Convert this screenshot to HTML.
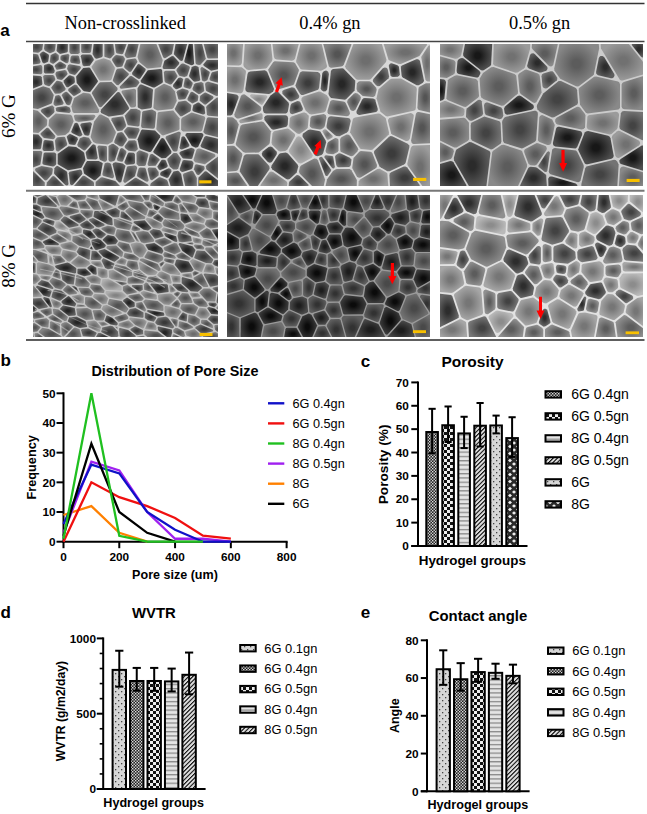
<!DOCTYPE html>
<html><head><meta charset="utf-8"><style>
html,body{margin:0;padding:0;background:#fff;}
body{width:647px;height:814px;overflow:hidden;}
svg{display:block;}
</style></head><body>
<svg width="647" height="814" viewBox="0 0 647 814">
<defs>
<pattern id="pdots" patternUnits="userSpaceOnUse" width="6" height="6">
 <rect width="6" height="6" fill="#d6d6d6"/><rect x="1" y="1" width="1.3" height="1.3" fill="#444"/><rect x="4" y="4" width="1.3" height="1.3" fill="#444"/></pattern>
<pattern id="pfine" patternUnits="userSpaceOnUse" width="3" height="3">
 <rect width="3" height="3" fill="#222"/><rect x="0" y="0" width="1.4" height="1.4" fill="#ddd"/><rect x="1.5" y="1.5" width="1.4" height="1.4" fill="#ddd"/></pattern>
<pattern id="pcheck" patternUnits="userSpaceOnUse" width="6" height="6">
 <rect width="6" height="6" fill="#eee"/><rect x="0" y="0" width="3" height="3" fill="#111"/><rect x="3" y="3" width="3" height="3" fill="#111"/></pattern>
<pattern id="phs" patternUnits="userSpaceOnUse" width="4.3" height="4.3">
 <rect width="4.3" height="4.3" fill="#e4e4e4"/><rect y="0" width="4.3" height="1.3" fill="#8a8a8a"/></pattern>
<pattern id="pdiag" patternUnits="userSpaceOnUse" width="4.3" height="4.3" patternTransform="skewY(-45)">
 <rect width="4.3" height="4.3" fill="#dadada"/><rect y="0" width="4.3" height="1.5" fill="#111"/></pattern>
<pattern id="pdia" patternUnits="userSpaceOnUse" width="8" height="7">
 <rect width="8" height="7" fill="#2a2a2a"/><path d="M2,0.2 L4,2 L2,3.8 L0,2 Z M6,3.7 L8,5.5 L6,7.3 L4,5.5 Z" fill="#eee"/></pattern>
</defs>
<line x1="26" y1="3.5" x2="644.5" y2="3.5" stroke="#333" stroke-width="1.3"/>
<line x1="26" y1="41.5" x2="644.5" y2="41.5" stroke="#444" stroke-width="1.3"/>
<line x1="26" y1="190.8" x2="644.5" y2="190.8" stroke="#777" stroke-width="2"/>
<line x1="26" y1="340" x2="644.5" y2="340" stroke="#5e5e5e" stroke-width="2"/>
<text x="0.2" y="36.2" style="font-family:'Liberation Sans',sans-serif;font-size:17px;font-weight:bold" text-anchor="start" fill="#000">a</text>
<text x="125.2" y="29.2" style="font-family:'Liberation Serif',serif;font-size:18.4px;font-weight:normal" text-anchor="middle" fill="#000">Non-crosslinked</text>
<text x="329.9" y="29.2" style="font-family:'Liberation Serif',serif;font-size:18.4px;font-weight:normal" text-anchor="middle" fill="#000">0.4% gn</text>
<text x="539.6" y="29.2" style="font-family:'Liberation Serif',serif;font-size:18.4px;font-weight:normal" text-anchor="middle" fill="#000">0.5% gn</text>
<text x="14.6" y="116.2" style="font-family:'Liberation Serif',serif;font-size:19px;font-weight:normal" text-anchor="middle" fill="#000" transform="rotate(-90 14.6 116.2)">6% G</text>
<text x="14.6" y="265.9" style="font-family:'Liberation Serif',serif;font-size:19px;font-weight:normal" text-anchor="middle" fill="#000" transform="rotate(-90 14.6 265.9)">8% G</text>
<svg x="33" y="44" width="185" height="142" viewBox="0 0 185 142" overflow="hidden"><defs>
<radialGradient id="gp11D" cx="0.5" cy="0.5" r="0.62"><stop offset="0.15" stop-color="#181818"/><stop offset="0.8" stop-color="#4f4f4f"/><stop offset="1" stop-color="#4f4f4f"/></radialGradient>
<radialGradient id="gp11d" cx="0.5" cy="0.5" r="0.62"><stop offset="0.15" stop-color="#2c2c2c"/><stop offset="0.8" stop-color="#5f5f5f"/><stop offset="1" stop-color="#5f5f5f"/></radialGradient>
<radialGradient id="gp11m" cx="0.5" cy="0.5" r="0.62"><stop offset="0.15" stop-color="#444444"/><stop offset="0.8" stop-color="#747474"/><stop offset="1" stop-color="#747474"/></radialGradient>
<radialGradient id="gp11l" cx="0.5" cy="0.5" r="0.62"><stop offset="0.15" stop-color="#5d5d5d"/><stop offset="0.8" stop-color="#8a8a8a"/><stop offset="1" stop-color="#8a8a8a"/></radialGradient>
<radialGradient id="gp11L" cx="0.5" cy="0.5" r="0.62"><stop offset="0.15" stop-color="#727272"/><stop offset="0.8" stop-color="#9c9c9c"/><stop offset="1" stop-color="#9c9c9c"/></radialGradient>
</defs>
<rect width="185" height="142" fill="#d4d4d4"/>
<path d="M4.7,8.7 5.9,8.4 9.3,5.7 10.2,-1.2 9.9,-2.4 8.4,-3.3 -1.5,-3.3 -2.5,-2.9 -3.2,-1.6 -3.2,6.2 -3.0,7.2 -1.8,8.0Z" fill="url(#gp11m)"/>
<path d="M11.0,4.8 11.8,6.4 16.7,9.2 17.8,9.1 21.3,7.4 22.1,6.0 22.9,-1.3 22.6,-2.4 21.3,-3.2 13.5,-3.2 12.6,-3.0 11.8,-1.8Z" fill="url(#gp11m)"/>
<path d="M33.5,8.6 34.5,7.9 34.8,7.0 34.9,-1.5 34.5,-2.5 33.2,-3.2 26.3,-3.3 25.3,-3.0 24.5,-1.6 23.6,6.5 24.0,7.6 27.0,10.0Z" fill="url(#gp11d)"/>
<path d="M46.7,-1.5 46.3,-2.6 45.1,-3.2 38.0,-3.2 36.8,-2.6 36.4,-1.5 36.4,7.9 37.3,9.6 38.3,10.0 44.9,10.0 46.3,9.3 46.7,8.2Z" fill="url(#gp11m)"/>
<path d="M50.0,-3.2 48.9,-2.8 48.2,-1.6 48.2,7.1 48.5,8.2 49.8,8.9 56.3,8.9 57.3,8.7 58.1,7.4 59.2,-1.2 58.9,-2.4 57.6,-3.2Z" fill="url(#gp11m)"/>
<path d="M60.8,-1.7 59.5,9.9 61.7,13.8 62.6,14.6 63.8,14.7 68.6,13.2 69.3,12.7 69.7,11.5 69.7,-1.5 69.0,-2.8 68.1,-3.2 62.6,-3.2 61.2,-2.6Z" fill="url(#gp11d)"/>
<path d="M71.4,-2.3 71.4,12.4 72.1,13.1 76.9,14.5 78.0,14.0 81.3,10.2 81.5,9.0 80.1,-1.7 79.2,-3.0 72.8,-3.2Z" fill="url(#gp11m)"/>
<path d="M82.9,8.1 83.4,9.0 84.3,9.6 88.8,10.3 90.1,9.8 94.0,-1.0 93.5,-2.7 92.4,-3.2 83.5,-3.2 82.2,-2.7 81.7,-1.4Z" fill="url(#gp11m)"/>
<path d="M-1.3,9.6 -2.6,10.0 -3.2,11.2 -3.3,19.0 -2.8,20.1 -1.4,20.8 6.0,19.8 6.9,19.3 7.4,18.6 7.5,17.6 5.1,10.8 4.1,10.2Z" fill="url(#gp11m)"/>
<path d="M9.3,18.2 10.0,19.1 11.0,19.4 14.7,18.1 15.3,17.2 16.0,12.0 15.9,10.9 15.3,10.2 10.5,7.6 9.5,7.7 7.6,9.1 6.8,10.4Z" fill="url(#gp11d)"/>
<path d="M18.6,10.4 17.6,11.6 16.8,17.7 17.6,18.8 19.6,19.8 20.6,19.8 25.5,16.1 25.8,15.2 25.8,11.8 25.3,10.8 22.6,8.8Z" fill="url(#gp11m)"/>
<path d="M32.8,19.1 34.3,19.3 35.5,18.0 36.3,11.6 35.9,10.5 35.0,10.0 28.6,11.3 27.4,12.7 27.4,15.0 27.7,16.0Z" fill="url(#gp11m)"/>
<path d="M39.5,11.5 38.4,11.9 37.7,12.9 37.1,17.1 37.6,18.4 38.5,18.9 45.2,20.1 46.7,19.7 47.3,18.2 46.0,12.2 44.8,11.5Z" fill="url(#gp11m)"/>
<path d="M49.6,10.4 48.3,11.0 47.8,12.2 49.6,21.3 51.0,22.2 56.8,21.8 60.8,16.1 60.7,15.1 58.5,11.2 57.2,10.5Z" fill="url(#gp11d)"/>
<path d="M81.9,25.0 81.8,23.6 77.3,16.6 70.6,14.3 62.7,16.7 58.5,22.7 58.7,23.8 66.1,35.9 67.5,36.8 76.9,36.4 77.9,36.1 78.6,35.2Z" fill="url(#gp11L)"/>
<path d="M91.9,15.8 91.9,14.5 90.1,12.1 83.5,11.0 82.1,11.6 79.3,14.8 79.0,15.8 79.3,16.8 82.9,22.5 84.3,23.2 88.4,22.8 89.4,22.3Z" fill="url(#gp11m)"/>
<path d="M9.3,22.9 8.7,21.6 7.6,21.1 -2.2,22.5 -3.2,23.8 -3.1,28.7 -1.8,29.7 8.2,30.2 9.3,28.9Z" fill="url(#gp11m)"/>
<path d="M10.8,27.7 11.2,28.8 12.2,29.4 19.9,29.4 21.2,28.7 21.8,26.7 19.9,21.7 16.4,19.8 15.4,19.7 11.9,20.8 11.0,21.6Z" fill="url(#gp11d)"/>
<path d="M21.8,22.2 23.3,25.4 24.3,25.7 31.6,24.5 32.8,23.5 33.1,21.6 32.4,20.6 27.7,17.8 26.3,17.7 22.0,21.0Z" fill="url(#gp11m)"/>
<path d="M22.5,29.6 22.5,30.8 24.0,34.8 24.8,35.3 28.2,36.0 29.5,35.5 34.2,30.8 34.6,29.7 33.3,26.7 31.9,26.1 24.0,27.4 23.1,28.0Z" fill="url(#gp11m)"/>
<path d="M34.2,24.3 34.4,25.5 36.5,29.5 41.5,31.1 42.6,30.6 47.5,24.8 47.9,23.4 47.5,22.4 46.6,21.9 36.8,20.2 35.0,21.2Z" fill="url(#gp11m)"/>
<path d="M50.0,46.6 51.1,47.3 56.4,48.0 57.4,47.8 64.9,37.8 64.7,36.5 57.4,24.5 56.3,23.6 50.2,24.0 43.1,32.6 43.7,38.9Z" fill="url(#gp11D)"/>
<path d="M95.2,31.6 95.8,30.5 95.4,29.2 90.1,24.6 89.1,24.3 84.4,24.7 83.2,25.9 79.9,35.8 79.9,36.9 83.7,40.9 85.4,41.2Z" fill="url(#gp11m)"/>
<path d="M-1.3,31.3 -2.6,31.7 -3.2,32.9 -3.2,43.2 -2.6,44.4 -1.0,44.8 9.0,40.9 9.4,39.4 8.7,33.3 8.2,32.4 7.1,31.9Z" fill="url(#gp11d)"/>
<path d="M12.0,30.9 10.7,31.5 10.2,32.6 11.1,40.1 12.2,41.1 15.8,42.2 16.8,42.1 22.2,35.9 22.3,34.9 21.3,32.0 19.9,31.0Z" fill="url(#gp11m)"/>
<path d="M33.0,42.4 33.9,43.2 35.2,43.2 41.5,38.9 41.9,37.8 41.6,34.0 41.0,32.8 37.0,31.3 35.9,31.4 30.9,36.3 30.5,38.0Z" fill="url(#gp11d)"/>
<path d="M-3.2,62.1 -2.9,63.1 -2.1,63.8 4.9,65.0 18.5,59.5 19.0,58.7 20.8,50.9 16.6,44.3 10.2,42.3 -2.7,47.2 -3.2,48.5Z" fill="url(#gp11m)"/>
<path d="M31.7,46.6 32.5,45.5 32.4,44.3 28.9,38.3 27.8,37.5 24.6,36.8 23.4,37.1 18.4,43.2 18.6,44.5 21.6,49.2 22.5,49.8 27.1,49.4Z" fill="url(#gp11m)"/>
<path d="M34.4,48.3 33.3,47.8 32.1,48.1 29.4,49.9 28.8,51.5 33.1,60.1 33.9,60.7 36.1,61.3 37.5,60.3 39.5,53.9 39.0,52.9Z" fill="url(#gp11m)"/>
<path d="M20.5,59.0 20.7,60.5 21.7,61.5 22.7,61.9 29.5,60.8 30.3,60.1 30.7,59.1 27.3,52.0 25.8,51.1 23.3,51.4 22.3,52.1Z" fill="url(#gp11m)"/>
<path d="M35.8,44.6 35.1,45.8 35.3,47.1 40.5,52.0 41.9,51.8 47.3,48.6 47.9,47.7 47.7,46.2 43.7,41.3 42.8,40.7 41.4,40.8Z" fill="url(#gp11m)"/>
<path d="M38.4,62.4 39.6,68.0 40.9,69.1 64.5,69.1 65.6,68.6 66.1,67.7 65.9,65.5 57.6,50.4 56.3,49.5 50.2,48.8 41.6,53.8 41.0,54.6Z" fill="url(#gp11l)"/>
<path d="M84.2,46.2 84.7,44.9 84.1,43.4 78.5,38.1 67.3,38.3 66.1,39.0 59.2,48.1 58.9,49.4 65.9,62.5 66.7,63.1 67.6,63.2 68.7,62.7Z" fill="url(#gp11m)"/>
<path d="M87.0,48.8 85.8,47.9 84.3,48.3 68.1,65.5 67.6,67.6 68.2,69.0 75.6,72.5 76.6,72.6 90.0,70.6 95.5,65.2 95.9,64.2 95.8,63.2Z" fill="url(#gp11d)"/>
<path d="M33.1,62.0 23.8,63.3 22.8,64.6 23.1,66.9 24.5,67.8 35.8,69.0 36.8,68.8 37.8,67.3 36.9,63.8 36.1,63.2Z" fill="url(#gp11m)"/>
<path d="M21.0,68.7 21.5,67.4 21.0,63.3 19.9,61.8 18.9,61.4 8.9,65.1 7.8,66.4 8.2,67.9 13.8,73.2 14.7,73.7 16.2,73.3Z" fill="url(#gp11m)"/>
<path d="M129.6,16.8 129.6,15.7 122.3,-2.8 121.1,-3.2 109.4,-3.2 108.0,-2.6 104.5,13.1 106.3,17.9 113.8,24.2 115.0,24.6 127.4,23.2 128.2,22.3Z" fill="url(#gp11l)"/>
<path d="M105.9,-1.1 105.6,-2.4 104.5,-3.2 97.4,-3.2 96.2,-2.6 91.7,10.5 91.8,11.6 93.1,13.4 94.5,13.9 101.9,13.0 102.9,12.4Z" fill="url(#gp11m)"/>
<path d="M95.7,27.5 96.9,27.9 98.2,27.4 104.1,18.6 104.2,17.3 102.9,14.8 101.8,14.5 94.7,15.4 93.4,16.2 91.2,22.0 91.2,23.1 91.6,23.9Z" fill="url(#gp11m)"/>
<path d="M141.2,-1.1 140.9,-2.5 139.6,-3.2 126.4,-3.2 125.1,-2.5 124.9,-0.8 130.1,13.1 130.8,13.9 131.8,14.2 132.6,14.0 139.0,9.9Z" fill="url(#gp11m)"/>
<path d="M129.6,22.9 129.9,24.4 131.0,25.1 141.3,25.1 142.2,24.5 146.1,19.9 146.3,18.4 140.6,12.3 139.0,11.9 131.4,16.7Z" fill="url(#gp11d)"/>
<path d="M147.0,16.6 148.7,17.1 149.6,16.6 150.0,15.8 154.5,-1.2 154.2,-2.5 153.3,-3.2 144.4,-3.2 143.4,-2.8 142.9,-1.9 140.8,9.9 141.3,10.8Z" fill="url(#gp11d)"/>
<path d="M159.7,-1.2 159.4,-2.2 158.4,-2.9 157.2,-2.7 156.3,-1.9 151.3,17.0 151.5,18.0 152.2,18.7 158.3,21.2 160.3,20.7 161.1,19.3Z" fill="url(#gp11D)"/>
<path d="M167.4,20.7 172.3,15.6 172.7,14.2 168.5,-2.4 167.1,-3.2 162.7,-3.2 161.7,-2.6 161.2,-1.5 162.6,19.2 163.1,20.1 163.8,20.6 166.1,21.1Z" fill="url(#gp11m)"/>
<path d="M174.0,13.0 174.5,13.9 175.7,14.4 186.6,14.3 187.8,13.7 188.2,12.6 188.2,-1.5 187.6,-2.8 186.4,-3.2 172.2,-3.2 170.8,-2.6 170.4,-1.2Z" fill="url(#gp11m)"/>
<path d="M186.9,24.8 187.8,24.2 188.2,23.0 188.2,17.3 187.7,16.4 187.0,15.9 174.4,15.9 173.5,16.5 170.4,20.3 170.4,21.2 171.0,22.1 178.1,26.7Z" fill="url(#gp11d)"/>
<path d="M143.7,25.0 143.4,26.7 146.1,31.5 147.0,32.0 151.4,33.0 153.6,32.3 154.4,31.6 157.0,23.5 156.1,22.0 150.4,19.5 149.2,19.4 148.1,19.9Z" fill="url(#gp11m)"/>
<path d="M160.5,37.2 161.8,37.8 165.9,36.9 166.8,36.4 167.2,35.4 165.6,23.4 164.6,22.4 162.3,21.8 159.7,22.6 158.8,23.3 156.0,31.8 156.4,33.1Z" fill="url(#gp11d)"/>
<path d="M176.2,27.4 169.3,23.1 168.3,23.3 167.7,23.9 167.4,24.9 168.9,36.0 169.7,36.9 171.4,37.5 173.9,36.5 174.6,35.8 176.9,28.6Z" fill="url(#gp11m)"/>
<path d="M176.6,34.5 176.7,35.9 177.7,36.7 186.1,39.2 187.5,38.9 188.2,37.4 188.2,28.3 188.0,27.3 187.2,26.6 186.2,26.5 179.2,28.3 178.5,29.1Z" fill="url(#gp11m)"/>
<path d="M99.3,28.5 99.0,29.7 99.6,30.9 105.1,34.7 106.3,34.9 107.4,34.2 112.4,26.8 112.6,25.6 112.1,24.6 107.0,20.5 105.5,20.1 104.5,20.7Z" fill="url(#gp11d)"/>
<path d="M107.9,36.2 107.7,37.7 108.5,38.8 120.1,43.6 121.6,43.6 129.2,38.9 129.9,38.1 129.1,26.0 128.4,25.2 127.4,24.9 114.8,26.2Z" fill="url(#gp11D)"/>
<path d="M131.5,37.1 132.3,38.5 136.8,40.4 137.9,40.6 138.8,40.0 144.4,32.7 144.3,31.5 141.7,27.1 140.7,26.7 132.7,26.7 131.5,27.2 130.9,28.4Z" fill="url(#gp11m)"/>
<path d="M147.2,33.6 145.4,34.1 140.0,41.1 140.1,42.7 142.5,45.1 143.7,45.2 147.9,43.4 148.8,42.4 150.1,35.4 149.3,34.2Z" fill="url(#gp11d)"/>
<path d="M150.6,41.5 150.7,42.5 151.5,43.4 156.9,45.0 158.1,44.0 159.7,39.9 159.7,38.8 155.3,34.2 153.6,33.9 152.5,34.3 151.8,35.1Z" fill="url(#gp11m)"/>
<path d="M162.4,39.2 161.2,40.3 159.5,44.6 159.6,45.8 160.3,46.6 165.4,50.0 167.0,50.0 170.6,47.4 171.2,46.5 170.4,39.5 169.7,38.7 168.1,38.0Z" fill="url(#gp11m)"/>
<path d="M186.6,51.8 187.7,51.3 188.2,50.2 188.2,42.5 187.7,41.4 175.6,37.7 174.7,37.8 172.6,38.8 172.1,40.3 172.8,46.0 173.3,46.9 183.2,51.9Z" fill="url(#gp11m)"/>
<path d="M96.6,32.4 86.8,42.5 86.8,43.5 87.4,44.4 88.4,44.8 102.8,43.0 103.7,42.5 105.9,39.6 106.2,38.2 105.4,36.8 98.7,32.1 97.5,31.9Z" fill="url(#gp11m)"/>
<path d="M101.4,63.3 102.5,62.8 103.0,61.6 103.0,46.6 102.7,45.6 101.2,44.8 89.3,46.4 88.6,47.4 88.7,48.7 97.3,62.7 98.5,63.4Z" fill="url(#gp11l)"/>
<path d="M117.3,64.2 118.3,63.7 118.8,62.8 120.0,45.8 119.0,44.8 108.7,40.5 107.4,40.5 106.6,41.1 104.5,44.3 104.7,63.0 105.3,63.8 108.8,65.6Z" fill="url(#gp11d)"/>
<path d="M139.1,64.9 140.5,64.1 143.8,56.8 141.9,47.2 137.8,42.6 131.6,39.9 130.5,39.9 122.5,44.8 121.7,45.7 120.4,63.8 121.1,64.8 124.5,66.6Z" fill="url(#gp11l)"/>
<path d="M151.4,55.3 152.7,54.5 155.6,48.6 155.8,47.7 155.5,46.7 154.6,46.1 149.5,44.5 144.3,46.7 143.6,48.2 145.3,55.2 146.7,55.8Z" fill="url(#gp11m)"/>
<path d="M159.8,48.1 158.6,47.8 157.4,48.5 154.3,55.0 154.9,56.5 158.6,59.1 159.4,59.4 164.7,56.9 165.4,52.7 164.8,51.3Z" fill="url(#gp11m)"/>
<path d="M171.1,60.3 172.2,60.7 173.2,60.3 179.9,54.8 180.5,53.5 180.1,52.2 172.5,48.4 171.5,48.7 167.5,51.5 167.0,52.5 166.7,56.8Z" fill="url(#gp11m)"/>
<path d="M173.9,70.2 174.4,71.3 175.6,71.8 186.5,72.7 187.9,72.0 188.2,70.9 188.2,55.1 187.6,53.8 186.5,53.3 183.5,53.7 173.6,62.0 173.2,63.2Z" fill="url(#gp11m)"/>
<path d="M159.4,65.5 159.6,66.6 160.5,67.4 169.9,70.4 171.3,70.3 172.2,69.2 171.5,62.7 166.0,58.6 164.8,58.6 160.3,61.0Z" fill="url(#gp11d)"/>
<path d="M153.2,57.1 152.0,56.8 145.4,57.7 141.9,64.6 142.1,66.1 147.3,72.3 148.9,72.2 156.9,67.5 157.7,66.7 158.3,61.9 158.2,60.9Z" fill="url(#gp11m)"/>
<path d="M-1.1,65.5 -2.6,65.9 -3.2,67.1 -3.2,87.3 -2.6,88.2 -1.7,88.5 5.3,88.9 13.6,81.8 14.0,80.9 14.2,76.1 13.7,75.2 4.7,66.7Z" fill="url(#gp11l)"/>
<path d="M39.0,72.0 37.7,70.7 22.7,69.4 16.0,75.7 15.6,81.8 24.1,91.5 25.1,91.7 32.3,91.1 36.1,88.1 40.5,77.6 40.5,76.7Z" fill="url(#gp11l)"/>
<path d="M42.6,70.7 41.5,71.1 40.9,72.1 41.9,76.0 42.7,76.9 45.7,78.0 59.5,76.3 60.4,75.7 62.5,72.6 62.0,71.3 60.8,70.7Z" fill="url(#gp11l)"/>
<path d="M45.2,80.1 44.5,79.3 43.4,78.8 41.6,79.3 38.1,87.7 39.0,89.1 45.8,92.3 46.8,92.4 48.6,91.7 49.2,90.2Z" fill="url(#gp11d)"/>
<path d="M51.0,90.3 52.0,91.3 54.6,91.8 55.6,91.5 56.3,90.9 58.8,80.2 58.6,79.2 58.0,78.5 56.8,78.2 48.9,79.2 47.6,80.0 47.4,81.5Z" fill="url(#gp11d)"/>
<path d="M68.1,70.6 66.9,70.5 66.0,71.0 61.1,77.4 57.6,92.9 60.3,98.0 63.2,99.6 74.7,100.4 79.4,97.8 82.8,89.0 82.9,88.0 75.5,74.3Z" fill="url(#gp11l)"/>
<path d="M92.7,82.7 93.1,80.9 90.6,73.6 89.9,72.6 88.7,72.4 79.7,73.7 78.4,74.5 78.4,76.3 83.7,86.2 84.5,86.9 85.5,87.1 89.3,86.4Z" fill="url(#gp11m)"/>
<path d="M81.3,97.0 81.3,98.2 82.0,99.2 86.8,102.3 89.0,102.5 90.1,101.9 93.7,96.4 94.0,95.1 90.0,88.8 88.3,88.1 85.3,88.7 84.4,89.3Z" fill="url(#gp11m)"/>
<path d="M8.2,88.7 7.6,89.5 7.7,90.7 10.9,94.1 20.1,95.3 21.2,94.8 22.4,93.1 22.0,91.5 15.8,84.4 14.9,83.8 13.4,84.1Z" fill="url(#gp11m)"/>
<path d="M9.5,104.8 9.8,106.1 10.9,106.9 19.5,106.9 20.5,106.6 21.3,105.1 20.3,97.5 19.0,96.7 12.4,95.9 11.4,96.2 10.6,97.2Z" fill="url(#gp11d)"/>
<path d="M-1.3,90.1 -2.6,90.5 -3.2,91.7 -3.0,104.5 -1.6,105.4 7.2,105.2 8.1,103.9 9.3,95.9 9.0,94.7 5.3,90.6Z" fill="url(#gp11d)"/>
<path d="M22.9,105.9 23.8,107.3 25.4,107.4 34.0,101.2 34.2,99.7 32.4,93.9 31.8,93.1 30.8,92.8 24.8,93.3 23.9,93.8 22.2,96.0 22.0,97.1Z" fill="url(#gp11m)"/>
<path d="M36.2,90.2 33.9,92.3 33.8,93.2 36.0,100.0 37.2,100.6 41.3,101.0 42.5,100.5 44.9,95.2 44.5,93.5 37.4,90.0Z" fill="url(#gp11d)"/>
<path d="M44.4,100.2 44.4,101.4 44.9,102.3 50.5,106.2 51.7,106.4 52.7,105.8 58.1,99.7 58.5,98.2 56.0,93.7 50.8,92.7 46.9,94.3Z" fill="url(#gp11m)"/>
<path d="M43.1,102.9 35.6,102.2 25.2,109.4 24.7,110.6 24.7,119.5 25.2,120.5 35.0,126.2 47.7,123.9 48.6,123.4 52.5,116.1 51.2,109.0 50.5,108.0Z" fill="url(#gp11D)"/>
<path d="M12.4,108.4 11.3,108.8 10.6,109.8 9.4,118.8 9.6,120.0 10.8,120.8 19.9,122.5 21.0,122.2 22.8,120.7 23.2,119.7 23.2,110.4 22.9,109.4 21.4,108.4Z" fill="url(#gp11d)"/>
<path d="M-1.5,106.9 -2.7,107.5 -3.2,108.6 -3.2,122.3 -2.6,123.7 -1.2,124.1 6.6,121.0 7.4,120.4 9.2,108.6 8.8,107.6 7.8,107.0Z" fill="url(#gp11m)"/>
<path d="M62.2,100.9 60.2,100.2 59.3,100.7 52.9,108.0 52.7,108.9 53.8,114.2 54.8,115.3 63.0,115.4 64.5,114.4 64.6,113.3 62.7,101.7Z" fill="url(#gp11d)"/>
<path d="M67.2,116.0 71.3,117.8 72.9,117.4 74.0,116.1 73.9,103.1 73.5,102.3 72.5,101.9 65.9,101.5 64.9,102.1 64.5,103.3 66.4,114.9Z" fill="url(#gp11m)"/>
<path d="M80.7,100.1 78.9,100.0 76.2,101.4 75.5,102.5 75.5,116.1 76.3,117.2 78.0,117.8 81.0,117.0 81.9,116.2 85.7,104.6 85.0,103.0Z" fill="url(#gp11m)"/>
<path d="M93.4,108.8 93.2,107.0 90.1,104.4 88.8,104.0 87.6,104.4 87.1,105.3 83.9,114.8 84.3,116.5 85.1,117.1 88.2,117.8 89.8,117.4Z" fill="url(#gp11m)"/>
<path d="M67.5,131.6 69.7,119.6 69.1,118.7 65.6,117.0 54.2,117.1 53.3,117.9 50.0,124.3 50.9,129.3 51.6,130.0 60.6,136.1 62.3,136.2Z" fill="url(#gp11D)"/>
<path d="M69.4,130.0 69.6,131.2 70.7,132.0 78.9,134.3 79.8,134.2 80.6,133.6 81.0,132.1 78.0,120.3 77.3,119.3 74.6,118.5 72.4,119.1 71.6,119.7Z" fill="url(#gp11m)"/>
<path d="M83.3,135.4 86.1,138.5 87.3,138.6 88.3,138.0 92.3,122.5 91.8,121.3 89.7,119.6 82.5,118.2 80.3,118.9 79.6,120.4Z" fill="url(#gp11d)"/>
<path d="M19.8,125.7 19.5,124.5 18.5,123.8 8.5,122.0 2.9,124.2 2.3,124.8 2.0,125.8 2.5,127.1 11.5,136.0 12.7,136.5 14.0,136.0 19.2,130.1Z" fill="url(#gp11m)"/>
<path d="M34.2,128.4 33.5,127.2 24.8,122.1 23.2,122.3 21.5,124.2 21.0,129.1 21.3,130.1 32.4,141.1 33.5,141.6 34.9,141.2 35.5,140.0Z" fill="url(#gp11d)"/>
<path d="M48.9,130.6 49.3,129.3 48.8,126.8 47.4,125.6 36.5,127.7 35.8,129.3 37.0,139.7 37.4,140.6 38.6,141.3 40.0,140.8Z" fill="url(#gp11d)"/>
<path d="M40.7,142.3 40.3,143.9 40.9,144.8 41.7,145.2 59.6,145.2 60.5,144.7 61.0,143.8 61.0,138.8 60.3,137.7 51.8,132.0 50.4,131.7 49.4,132.3Z" fill="url(#gp11m)"/>
<path d="M11.8,138.6 -0.9,126.0 -2.0,126.0 -2.8,126.6 -3.2,127.4 -3.0,144.3 -1.6,145.2 10.8,145.0 11.7,143.8Z" fill="url(#gp11m)"/>
<path d="M21.6,132.5 20.3,132.0 19.2,132.4 13.9,138.5 13.2,143.3 13.6,144.6 15.0,145.2 30.1,145.2 31.2,144.8 31.9,143.6 31.5,142.3Z" fill="url(#gp11m)"/>
<path d="M63.2,137.6 62.6,138.8 62.6,143.6 63.0,144.6 63.8,145.2 86.0,145.2 87.0,144.8 87.6,144.0 87.3,142.3 82.3,136.9 69.3,133.2 67.8,133.5Z" fill="url(#gp11m)"/>
<path d="M107.0,66.5 103.1,64.7 97.7,65.1 92.0,71.2 91.9,72.5 94.5,80.4 95.3,81.3 104.9,82.4 105.7,82.2 106.5,81.4 107.7,67.7Z" fill="url(#gp11m)"/>
<path d="M108.1,82.1 108.5,83.4 109.6,84.0 120.2,84.7 121.4,84.2 121.9,83.1 123.2,69.0 122.6,67.5 119.0,65.5 110.7,66.9 109.7,67.4 109.2,68.5Z" fill="url(#gp11m)"/>
<path d="M130.0,91.4 145.4,86.2 146.5,85.2 146.5,74.3 140.2,66.6 126.2,68.0 125.4,68.3 124.7,69.1 123.3,85.1 123.8,86.0 128.8,90.9Z" fill="url(#gp11l)"/>
<path d="M149.0,86.8 150.2,87.4 167.6,87.4 168.5,87.1 169.3,86.0 172.2,74.5 172.0,73.1 171.0,72.3 158.7,68.5 149.0,73.8 148.1,75.4 148.1,85.4Z" fill="url(#gp11l)"/>
<path d="M188.2,76.0 187.8,74.8 186.8,74.2 175.6,73.3 174.2,73.8 173.7,74.7 170.5,87.3 170.7,88.3 171.6,89.6 172.7,90.3 186.0,93.4 187.6,93.0 188.2,91.6Z" fill="url(#gp11m)"/>
<path d="M95.5,82.9 94.2,83.3 91.5,86.3 91.2,87.3 91.5,88.3 95.8,94.5 101.9,94.7 102.9,94.4 103.5,93.6 106.5,86.4 106.4,84.7 105.2,84.0Z" fill="url(#gp11m)"/>
<path d="M117.4,107.9 118.4,107.2 127.1,93.3 127.3,91.8 122.0,86.5 109.2,85.6 108.1,86.5 104.5,95.3 106.5,104.0 107.6,105.1 116.1,108.0Z" fill="url(#gp11D)"/>
<path d="M131.1,94.7 129.6,93.9 128.1,94.6 120.2,107.5 120.8,109.0 128.7,114.3 132.9,113.9 138.0,109.2 138.5,108.1 138.3,107.0Z" fill="url(#gp11D)"/>
<path d="M139.9,106.7 140.9,107.5 143.0,107.6 143.8,107.3 144.5,106.5 147.7,89.6 147.4,88.4 146.6,87.8 145.3,87.8 133.6,92.0 132.6,93.1 132.7,94.6Z" fill="url(#gp11m)"/>
<path d="M151.8,93.1 151.1,92.4 150.0,92.3 149.1,92.7 148.5,93.6 146.6,103.5 147.0,104.7 147.8,105.3 148.9,105.4 155.2,103.1 156.3,102.1 156.3,100.7Z" fill="url(#gp11d)"/>
<path d="M154.2,88.9 152.7,89.7 152.5,91.2 158.8,101.9 162.7,103.8 165.1,102.9 170.3,91.7 170.4,90.7 169.7,89.6 168.3,88.9Z" fill="url(#gp11D)"/>
<path d="M173.5,92.0 172.3,92.2 171.4,93.0 167.7,101.3 167.9,103.0 168.8,103.6 185.6,109.9 187.6,109.6 188.2,108.2 188.2,96.9 187.9,95.7 186.9,95.1Z" fill="url(#gp11d)"/>
<path d="M147.6,107.4 146.6,108.4 146.5,109.7 149.5,114.0 150.4,114.4 157.9,115.1 158.9,114.7 159.4,114.0 161.7,106.1 160.9,104.8 158.2,103.8Z" fill="url(#gp11d)"/>
<path d="M166.7,104.4 165.6,104.4 164.3,105.0 163.4,106.1 160.6,115.5 160.8,116.5 162.1,118.2 171.9,120.3 182.4,112.4 182.4,111.0 181.5,110.0Z" fill="url(#gp11l)"/>
<path d="M91.9,101.8 91.6,102.8 92.0,104.0 95.5,106.7 102.2,107.4 104.4,105.8 104.9,104.9 103.3,97.4 101.9,96.2 95.8,96.4Z" fill="url(#gp11m)"/>
<path d="M100.4,120.2 101.5,119.7 102.0,118.6 101.9,109.9 100.6,108.8 95.8,108.5 94.8,109.5 91.5,117.7 91.5,118.8 93.0,120.4 94.0,120.8Z" fill="url(#gp11d)"/>
<path d="M111.1,122.0 112.2,121.7 112.8,120.8 115.3,111.0 115.3,110.0 114.1,108.9 107.2,106.5 106.0,106.5 104.0,108.2 103.5,109.1 103.6,120.0 105.6,121.9Z" fill="url(#gp11m)"/>
<path d="M119.6,110.1 118.0,109.9 116.9,110.9 114.6,120.1 114.9,121.2 115.9,121.9 122.6,121.8 126.4,116.3 126.4,115.3 125.8,114.4Z" fill="url(#gp11m)"/>
<path d="M133.7,123.4 134.5,122.5 134.6,121.3 132.8,116.6 131.4,115.7 129.2,115.8 128.3,116.3 124.4,122.6 124.6,123.6 125.9,125.6 127.1,126.2Z" fill="url(#gp11d)"/>
<path d="M143.8,125.4 145.3,124.3 148.1,115.1 144.3,109.5 143.4,109.1 140.6,109.1 134.7,114.4 134.2,115.9 136.9,122.8 140.3,125.5Z" fill="url(#gp11m)"/>
<path d="M158.3,125.2 159.5,124.1 160.5,119.6 160.3,118.6 159.4,117.2 158.5,116.7 151.1,116.0 149.7,116.5 146.7,124.9 147.2,126.5 148.5,127.8 149.7,128.1Z" fill="url(#gp11d)"/>
<path d="M163.6,130.3 164.7,131.1 166.0,130.9 171.2,125.8 171.6,124.4 171.4,122.8 170.8,122.0 163.6,120.2 162.0,120.8 160.9,125.3Z" fill="url(#gp11m)"/>
<path d="M188.2,113.7 187.3,112.1 185.5,112.1 173.6,121.0 172.9,122.3 173.2,124.6 173.7,125.5 185.3,134.7 186.3,135.1 187.6,134.7 188.2,133.5Z" fill="url(#gp11m)"/>
<path d="M90.3,136.6 90.4,137.6 90.9,138.3 91.6,138.7 92.6,138.7 101.9,132.2 104.2,124.0 103.6,122.4 102.0,121.6 95.0,122.3 94.0,122.8Z" fill="url(#gp11m)"/>
<path d="M104.0,130.8 104.1,131.9 104.7,132.7 112.9,137.6 114.3,137.8 115.4,137.0 115.6,135.7 112.9,124.9 112.0,123.7 107.3,123.5 106.1,123.9 105.5,124.9Z" fill="url(#gp11m)"/>
<path d="M116.4,123.5 115.0,124.1 114.7,125.7 117.1,135.2 117.9,136.0 119.1,136.2 125.3,131.8 125.7,130.9 125.7,128.1 122.6,123.7Z" fill="url(#gp11m)"/>
<path d="M128.2,127.7 127.2,128.9 127.2,130.5 127.6,131.5 133.9,134.1 135.2,133.4 138.3,127.9 138.6,126.9 137.9,125.6 136.6,124.5 135.6,124.3Z" fill="url(#gp11d)"/>
<path d="M145.9,127.3 144.6,126.8 140.5,127.5 135.9,135.3 135.9,136.4 138.2,144.0 139.2,145.1 149.1,145.2 150.1,144.8 150.6,144.1 150.7,143.1 148.2,129.9Z" fill="url(#gp11d)"/>
<path d="M162.0,145.2 163.2,144.8 163.8,143.8 163.8,134.0 160.2,127.5 159.4,126.9 158.4,126.8 150.7,129.4 149.9,131.1 152.7,144.4 154.0,145.2Z" fill="url(#gp11m)"/>
<path d="M165.9,133.3 165.4,134.4 165.3,143.4 165.6,144.3 166.3,145.0 186.4,145.2 187.3,145.0 188.0,144.3 188.2,139.8 187.8,138.7 173.6,127.4 172.5,127.2 171.6,127.6Z" fill="url(#gp11d)"/>
<path d="M90.8,142.0 90.1,142.8 90.0,143.8 90.5,144.7 91.6,145.2 114.0,145.2 115.1,144.7 115.6,143.6 115.6,141.7 114.9,140.6 103.0,133.7 101.9,134.0Z" fill="url(#gp11m)"/>
<path d="M134.5,137.0 133.5,135.8 127.3,133.2 126.0,133.3 117.8,139.2 117.2,140.9 117.3,144.1 117.9,144.9 118.8,145.2 135.3,145.1 136.2,144.3 136.4,143.3Z" fill="url(#gp11m)"/>
</svg>
<svg x="227" y="44" width="203" height="142" viewBox="0 0 203 142" overflow="hidden"><defs>
<radialGradient id="gp12D" cx="0.5" cy="0.5" r="0.62"><stop offset="0.15" stop-color="#262626"/><stop offset="0.8" stop-color="#5f5f5f"/><stop offset="1" stop-color="#5f5f5f"/></radialGradient>
<radialGradient id="gp12d" cx="0.5" cy="0.5" r="0.62"><stop offset="0.15" stop-color="#3b3b3b"/><stop offset="0.8" stop-color="#707070"/><stop offset="1" stop-color="#707070"/></radialGradient>
<radialGradient id="gp12m" cx="0.5" cy="0.5" r="0.62"><stop offset="0.15" stop-color="#545454"/><stop offset="0.8" stop-color="#868686"/><stop offset="1" stop-color="#868686"/></radialGradient>
<radialGradient id="gp12l" cx="0.5" cy="0.5" r="0.62"><stop offset="0.15" stop-color="#6e6e6e"/><stop offset="0.8" stop-color="#9d9d9d"/><stop offset="1" stop-color="#9d9d9d"/></radialGradient>
<radialGradient id="gp12L" cx="0.5" cy="0.5" r="0.62"><stop offset="0.15" stop-color="#848484"/><stop offset="0.8" stop-color="#b0b0b0"/><stop offset="1" stop-color="#b0b0b0"/></radialGradient>
</defs>
<rect width="203" height="142" fill="#d8d8d8"/>
<path d="M-0.2,-3.2 -2.3,-2.3 -3.2,-0.5 -3.2,18.2 -2.9,19.6 -1.9,20.7 -0.6,21.2 11.8,21.6 13.5,21.1 14.5,20.1 14.9,18.8 16.1,-0.0 15.7,-1.7 14.8,-2.7 13.4,-3.2Z" fill="url(#gp12l)"/>
<path d="M16.4,46.6 19.0,27.6 18.4,26.3 15.7,23.9 14.6,23.3 -0.1,22.8 -2.1,23.5 -2.8,24.4 -3.2,25.8 -3.2,44.5 -2.6,46.3 -0.9,47.4 12.7,49.3 13.9,49.2 15.3,48.6Z" fill="url(#gp12l)"/>
<path d="M45.0,16.9 45.5,14.9 43.8,-0.5 43.5,-1.6 42.5,-2.7 40.8,-3.2 20.8,-3.2 19.3,-2.8 18.2,-1.8 17.8,-0.4 16.4,21.0 16.9,22.7 19.7,25.4 21.8,26.0 39.0,24.5 40.2,23.6Z" fill="url(#gp12l)"/>
<path d="M64.9,16.7 66.9,16.1 68.0,14.7 71.6,0.2 71.5,-1.0 70.8,-2.3 68.6,-3.2 48.5,-3.2 46.3,-2.3 45.7,-1.3 45.5,0.1 46.9,13.0 47.8,14.8 49.7,15.6Z" fill="url(#gp12l)"/>
<path d="M69.4,18.3 73.5,24.9 74.8,25.5 93.8,26.7 95.2,26.3 99.3,23.9 99.9,22.5 99.8,21.3 94.5,-0.9 93.4,-2.6 91.6,-3.2 76.4,-3.2 75.1,-2.9 74.0,-2.0 69.1,16.9Z" fill="url(#gp12l)"/>
<path d="M46.1,18.2 41.4,25.2 41.4,26.7 48.5,43.8 49.6,45.2 51.0,45.6 66.3,40.9 67.2,39.7 71.9,26.7 71.6,25.3 68.2,19.6 67.1,18.6 66.0,18.3 47.6,17.2Z" fill="url(#gp12m)"/>
<path d="M18.3,44.9 18.8,47.1 20.7,48.3 41.8,49.9 43.4,49.4 46.2,47.2 47.1,45.1 40.2,27.9 39.2,26.9 37.6,26.3 23.2,27.5 21.4,28.3 20.5,30.0Z" fill="url(#gp12D)"/>
<path d="M93.4,31.4 92.9,29.4 90.9,28.1 75.5,27.2 73.7,27.9 72.8,29.1 68.5,41.2 68.9,42.9 73.2,50.1 74.4,50.9 76.1,51.0 91.1,45.8 92.1,44.1Z" fill="url(#gp12d)"/>
<path d="M101.9,29.9 101.2,27.7 99.2,26.6 98.0,26.7 96.5,27.5 95.3,29.1 93.7,44.5 94.6,46.3 96.5,47.4 98.8,47.2 100.2,45.5Z" fill="url(#gp12D)"/>
<path d="M40.1,53.6 40.3,52.2 39.0,51.3 24.5,50.2 23.5,50.7 23.1,51.6 23.6,52.9 34.4,60.9 35.7,60.4Z" fill="url(#gp12L)"/>
<path d="M36.1,66.7 36.9,68.7 38.8,69.6 58.8,69.5 60.1,68.7 60.8,67.4 62.0,60.8 61.9,59.4 61.2,58.2 51.4,48.2 50.1,47.6 48.6,47.7 43.5,51.5 36.4,62.2 35.9,63.7Z" fill="url(#gp12D)"/>
<path d="M18.5,50.9 17.2,50.3 16.0,50.4 14.7,51.1 13.9,52.3 7.3,70.6 7.8,72.8 9.9,74.4 11.9,74.5 32.3,67.9 33.5,67.1 34.2,66.1 34.3,64.0 33.4,62.5Z" fill="url(#gp12m)"/>
<path d="M-3.2,68.6 -2.5,70.5 -0.8,71.5 3.7,71.5 5.4,70.4 11.5,54.1 11.4,52.4 10.4,51.0 9.0,50.4 -0.1,49.1 -1.5,49.5 -2.5,50.2 -3.2,52.1Z" fill="url(#gp12D)"/>
<path d="M76.3,52.6 74.6,54.1 74.4,56.4 78.6,66.4 82.4,70.0 84.5,70.4 96.6,68.4 97.9,67.8 98.7,67.0 102.0,55.5 101.7,54.0 99.6,51.0 93.5,47.7 91.9,47.5Z" fill="url(#gp12l)"/>
<path d="M57.2,45.7 56.0,46.4 55.3,47.4 55.3,49.7 62.6,57.1 64.0,57.5 65.1,57.3 70.5,55.1 71.8,53.9 72.2,52.6 71.9,51.2 68.1,44.7 67.1,43.7 64.9,43.3Z" fill="url(#gp12d)"/>
<path d="M62.6,66.7 63.1,69.0 63.9,69.8 65.3,70.2 74.9,67.1 75.8,65.7 75.9,64.2 73.2,58.0 72.1,57.2 70.4,57.0 64.6,59.4 63.6,60.9Z" fill="url(#gp12d)"/>
<path d="M121.8,-3.2 98.2,-3.0 97.0,-2.1 96.4,0.2 101.8,22.2 103.1,23.4 104.5,23.7 114.3,22.6 115.7,22.1 116.8,20.7 124.3,0.9 124.4,-0.6 123.9,-1.9 122.9,-2.9Z" fill="url(#gp12m)"/>
<path d="M154.6,-1.0 153.4,-2.7 151.8,-3.2 129.3,-3.2 128.1,-2.8 127.1,-1.8 118.1,22.4 118.9,24.4 129.2,35.2 130.9,35.7 142.1,35.7 143.7,35.3 159.0,18.1 159.5,15.8Z" fill="url(#gp12l)"/>
<path d="M156.7,0.1 161.4,15.6 162.6,16.5 171.9,20.1 173.8,19.9 192.4,12.1 199.7,1.2 200.1,-0.2 199.8,-1.4 198.7,-2.7 197.1,-3.2 158.5,-3.0 157.2,-1.9Z" fill="url(#gp12l)"/>
<path d="M174.6,31.3 175.0,32.7 175.8,33.5 189.7,41.3 191.7,41.3 195.9,38.8 196.7,37.6 196.9,36.2 193.1,17.5 192.5,16.2 191.0,15.2 189.3,15.2 174.9,21.4 174.2,22.3 173.8,23.7Z" fill="url(#gp12D)"/>
<path d="M206.2,4.3 205.7,2.6 204.6,1.7 203.2,1.3 201.5,1.8 194.1,13.0 198.4,35.5 199.2,36.7 200.7,37.6 204.3,37.4 205.5,36.5 206.1,35.2Z" fill="url(#gp12l)"/>
<path d="M128.1,36.6 116.4,24.4 115.2,24.2 106.3,25.1 105.0,25.6 103.9,27.0 101.5,49.7 101.8,51.1 102.9,52.8 104.1,53.9 118.0,55.8 119.3,55.0 127.6,46.5 128.3,38.1Z" fill="url(#gp12D)"/>
<path d="M149.0,41.3 150.8,42.2 152.8,41.9 161.6,34.3 162.1,32.4 160.8,25.8 160.2,24.5 159.3,23.8 157.6,23.4 155.8,24.2 146.3,35.0 145.9,36.4 146.1,37.8Z" fill="url(#gp12d)"/>
<path d="M170.5,21.3 164.7,19.3 163.3,19.6 162.3,20.6 161.8,21.7 163.5,31.2 164.4,32.4 165.7,33.0 170.9,32.7 172.3,31.5 172.8,30.2 172.0,22.8Z" fill="url(#gp12D)"/>
<path d="M164.5,34.8 162.8,35.5 152.4,44.4 151.5,45.6 149.5,54.2 153.5,67.8 158.8,72.1 160.4,72.5 187.5,66.4 188.5,65.2 188.8,64.1 189.8,45.1 189.2,43.1 174.0,34.4Z" fill="url(#gp12l)"/>
<path d="M129.5,45.0 130.4,47.3 135.7,51.9 145.4,52.9 146.9,52.7 148.2,51.5 149.7,45.7 149.2,43.8 144.3,38.3 143.2,37.5 142.1,37.3 132.8,37.3 131.4,37.7 129.9,39.5Z" fill="url(#gp12m)"/>
<path d="M129.7,66.7 129.4,68.1 129.8,69.6 130.9,70.6 132.3,71.0 149.2,68.0 150.5,66.8 150.8,65.1 148.3,56.2 147.5,55.3 146.2,54.6 137.9,53.9 136.4,54.3 135.2,55.6Z" fill="url(#gp12D)"/>
<path d="M121.0,55.6 120.2,56.9 120.2,58.4 123.2,65.2 124.6,66.7 126.3,67.0 127.4,66.6 128.5,65.6 133.6,55.2 133.9,53.4 133.1,51.8 130.5,49.6 128.3,49.1 126.9,49.7Z" fill="url(#gp12m)"/>
<path d="M100.5,66.7 100.5,68.2 100.9,69.3 102.0,70.2 103.1,70.5 120.0,72.2 121.9,71.5 122.9,69.8 122.7,68.0 118.7,59.1 117.8,58.0 116.4,57.4 106.3,56.0 104.6,56.2 103.2,57.6Z" fill="url(#gp12m)"/>
<path d="M206.2,42.2 205.7,40.5 204.3,39.4 198.9,39.2 192.9,42.5 191.8,43.5 191.4,44.9 190.4,63.6 190.8,65.0 191.9,66.1 202.9,68.5 204.6,68.2 205.8,66.9 206.2,65.5Z" fill="url(#gp12m)"/>
<path d="M-0.2,73.2 -2.3,74.0 -3.2,75.9 -3.1,98.0 -2.4,99.5 -0.9,100.3 4.9,100.1 6.5,99.4 7.3,98.2 11.8,80.4 9.6,76.4 6.0,73.6 4.7,73.2Z" fill="url(#gp12m)"/>
<path d="M16.2,107.9 18.2,108.7 31.7,108.6 42.3,100.0 42.8,98.6 43.9,87.2 36.5,77.9 34.3,77.4 15.5,80.6 13.6,81.8 8.7,100.0 9.4,101.6Z" fill="url(#gp12m)"/>
<path d="M35.6,70.8 34.9,69.4 33.5,69.2 13.1,75.8 12.4,76.5 12.3,77.5 13.1,78.9 14.2,79.2 34.5,75.8 35.6,74.6Z" fill="url(#gp12l)"/>
<path d="M44.1,84.6 45.3,85.5 46.8,85.7 59.4,82.7 60.3,81.6 60.7,80.5 61.1,74.1 60.5,72.5 59.5,71.5 58.1,71.2 40.2,71.2 38.5,71.7 37.3,73.3 37.4,76.1Z" fill="url(#gp12D)"/>
<path d="M79.1,69.2 77.6,68.5 76.2,68.6 64.4,72.5 62.9,73.9 62.2,81.5 62.4,82.9 63.3,84.0 70.1,89.6 72.1,89.9 73.4,89.5 80.0,84.7 80.8,83.6 81.8,72.6 81.3,71.2Z" fill="url(#gp12l)"/>
<path d="M99.4,73.6 98.9,71.3 96.9,70.1 85.0,72.0 83.8,73.0 83.4,74.2 82.8,81.4 83.1,82.8 85.0,84.2 93.0,85.4 94.3,85.2 96.4,84.1 97.8,82.3Z" fill="url(#gp12m)"/>
<path d="M58.2,107.0 60.3,105.8 68.1,92.0 67.9,90.5 67.3,89.5 61.9,85.0 60.5,84.5 47.8,87.1 46.5,87.7 45.5,89.4 44.5,98.5 45.1,100.8 51.6,107.1 53.3,107.6Z" fill="url(#gp12l)"/>
<path d="M74.3,93.6 73.2,92.7 71.8,92.3 70.7,92.5 69.5,93.3 62.3,105.6 61.8,107.0 62.6,109.1 71.3,118.8 73.1,119.6 74.7,119.3 84.3,114.1 85.3,113.0 85.7,111.6 85.2,109.9Z" fill="url(#gp12L)"/>
<path d="M83.1,85.6 81.1,85.9 76.2,89.5 75.5,91.0 75.6,92.7 88.1,111.4 89.3,112.1 90.5,112.3 94.5,110.9 95.6,110.0 96.3,108.8 99.1,98.5 98.8,96.7 93.3,87.5 91.9,86.9Z" fill="url(#gp12D)"/>
<path d="M99.0,85.6 97.9,85.2 96.3,86.0 95.6,86.7 95.5,87.6 99.8,95.2 100.5,95.7 101.4,95.8 105.4,93.4 105.9,91.9Z" fill="url(#gp12l)"/>
<path d="M49.5,110.8 50.0,109.1 49.5,107.5 45.1,103.1 43.5,102.4 41.6,102.9 35.8,107.6 34.7,109.7 35.4,111.9 40.8,117.9 42.6,118.7 44.0,118.5 45.0,117.8Z" fill="url(#gp12D)"/>
<path d="M44.6,121.4 44.2,123.3 45.2,125.3 59.2,135.0 60.8,135.6 62.7,135.0 69.7,128.5 71.3,122.5 70.7,120.7 60.9,109.6 58.9,108.6 53.4,109.2 52.1,109.9Z" fill="url(#gp12D)"/>
<path d="M8.9,127.0 10.3,126.5 11.4,125.1 15.3,111.5 15.2,109.5 7.3,102.0 5.9,101.7 -1.2,102.2 -2.5,103.1 -3.2,104.7 -3.0,125.8 -1.9,127.2 -0.5,127.7Z" fill="url(#gp12m)"/>
<path d="M19.6,110.3 17.9,110.8 16.8,112.2 12.8,126.1 12.8,127.5 24.0,144.1 25.5,145.1 27.5,145.1 29.4,143.9 42.1,125.7 42.6,124.4 42.5,122.8 41.8,121.6 31.8,110.6 30.5,110.3Z" fill="url(#gp12d)"/>
<path d="M90.9,116.3 89.5,114.7 87.2,114.4 74.1,121.4 72.9,123.0 71.9,127.8 72.8,129.7 87.6,144.5 89.2,145.2 94.0,145.2 95.3,144.7 96.4,143.4 98.1,135.6Z" fill="url(#gp12m)"/>
<path d="M95.4,113.4 94.3,112.8 92.9,113.2 92.2,113.9 92.1,115.0 98.3,131.3 99.0,132.0 100.1,132.0 100.8,131.6 104.0,127.0 104.2,125.8Z" fill="url(#gp12d)"/>
<path d="M60.3,139.5 60.0,138.0 59.0,136.9 46.1,127.9 44.2,127.4 43.0,127.7 41.9,128.7 33.8,140.5 33.2,142.5 34.1,144.3 35.9,145.2 57.4,145.2 58.8,144.7 59.8,143.5Z" fill="url(#gp12l)"/>
<path d="M17.1,145.2 18.5,144.8 19.4,144.1 20.0,142.8 19.9,141.3 11.6,129.2 9.7,128.5 -0.4,129.3 -1.6,129.6 -2.7,130.6 -3.2,132.3 -3.2,142.5 -2.7,143.9 -1.9,144.7 -0.2,145.2Z" fill="url(#gp12m)"/>
<path d="M72.7,131.9 70.9,131.0 69.3,131.3 62.5,137.4 61.9,138.7 61.7,142.3 62.1,143.7 62.8,144.5 64.7,145.2 78.8,145.2 79.9,145.0 81.1,144.1 81.7,142.5 81.3,140.5Z" fill="url(#gp12d)"/>
<path d="M119.9,88.6 121.4,86.9 123.6,77.6 123.5,75.9 122.6,74.6 121.0,74.0 104.1,72.3 102.6,72.5 101.4,73.4 100.8,74.7 99.5,81.9 99.7,83.6 100.5,84.7 108.0,91.3 109.3,92.0 112.5,92.2Z" fill="url(#gp12d)"/>
<path d="M128.1,73.4 126.5,74.2 125.8,75.4 123.0,88.3 132.6,103.8 133.7,104.9 143.8,106.1 145.4,105.8 161.8,90.5 162.0,88.6 158.8,74.6 157.9,73.4 153.0,69.7 151.1,69.4Z" fill="url(#gp12l)"/>
<path d="M186.7,72.7 186.6,71.2 186.0,70.2 185.1,69.5 183.7,69.1 162.3,74.1 161.2,75.4 161.0,76.9 164.1,89.6 165.3,90.6 178.8,97.0 180.2,97.1 181.6,96.6 182.8,94.7Z" fill="url(#gp12l)"/>
<path d="M184.1,96.5 184.6,98.7 185.7,99.7 186.9,100.0 203.6,99.2 205.6,98.1 206.2,96.2 206.2,73.3 205.9,71.9 205.1,71.0 203.8,70.4 192.0,67.9 190.6,68.1 189.4,69.0 188.8,70.3Z" fill="url(#gp12m)"/>
<path d="M177.0,120.6 178.2,119.6 178.7,118.5 182.4,103.1 182.3,101.4 180.7,99.7 165.2,92.3 163.5,92.1 162.1,92.7 147.1,106.9 147.0,108.9 152.4,122.3 153.5,123.3 160.4,127.2 162.6,127.2Z" fill="url(#gp12d)"/>
<path d="M111.5,97.0 111.2,95.5 110.4,94.6 108.2,94.0 101.2,97.9 100.5,99.2 98.6,106.4 98.7,107.8 99.5,109.0 101.0,109.8 106.3,110.3 110.7,108.0 111.5,106.2Z" fill="url(#gp12m)"/>
<path d="M123.0,91.8 121.7,90.7 119.7,90.5 114.8,92.9 113.7,93.9 113.1,95.6 113.2,105.9 113.6,107.3 114.7,108.2 123.3,112.1 124.7,112.3 126.5,111.6 130.4,107.4 131.2,105.2 130.7,103.8Z" fill="url(#gp12m)"/>
<path d="M109.2,120.8 110.0,122.4 111.6,123.2 122.0,123.1 123.1,122.2 123.8,121.0 124.4,116.3 124.2,115.2 122.8,113.7 113.8,109.6 112.6,109.3 111.4,109.6 109.0,110.9 108.0,112.6Z" fill="url(#gp12d)"/>
<path d="M98.9,111.3 97.5,111.9 97.5,113.5 105.1,124.1 106.1,124.6 107.2,124.2 107.9,122.8 106.1,112.5 105.1,111.9Z" fill="url(#gp12d)"/>
<path d="M145.5,109.5 144.6,108.3 143.3,107.7 133.8,106.9 132.3,107.8 126.5,114.1 125.2,124.0 129.7,132.2 130.7,133.3 132.1,133.7 133.6,133.4 148.7,124.3 149.8,123.2 150.0,120.9Z" fill="url(#gp12m)"/>
<path d="M183.8,103.9 180.2,120.1 180.7,121.4 197.1,144.4 198.9,145.2 203.2,145.2 205.3,144.3 206.2,142.2 206.2,103.8 205.3,101.7 203.1,100.9 186.6,101.6 184.9,102.2Z" fill="url(#gp12l)"/>
<path d="M100.1,135.3 98.5,142.4 99.1,144.1 100.6,145.1 127.1,145.2 128.7,144.6 129.7,142.9 129.9,136.0 124.4,126.2 122.8,125.0 110.0,124.9 108.8,125.2 106.0,127.0Z" fill="url(#gp12m)"/>
<path d="M133.1,135.6 131.7,137.5 131.4,142.4 132.1,144.0 133.8,145.1 158.7,145.2 160.5,144.4 161.3,142.9 160.4,129.6 159.2,128.4 152.6,124.8 150.4,125.1Z" fill="url(#gp12l)"/>
<path d="M180.2,123.5 178.5,122.4 176.8,122.4 164.1,128.3 163.0,129.2 162.4,130.9 163.0,142.4 163.5,143.8 164.3,144.7 166.0,145.2 189.9,145.2 191.0,145.0 192.2,144.1 192.9,142.4 192.5,140.7Z" fill="url(#gp12d)"/>
</svg>
<svg x="440" y="44" width="203" height="142" viewBox="0 0 203 142" overflow="hidden"><defs>
<radialGradient id="gp13D" cx="0.5" cy="0.5" r="0.62"><stop offset="0.15" stop-color="#171717"/><stop offset="0.8" stop-color="#4e4e4e"/><stop offset="1" stop-color="#4e4e4e"/></radialGradient>
<radialGradient id="gp13d" cx="0.5" cy="0.5" r="0.62"><stop offset="0.15" stop-color="#2b2b2b"/><stop offset="0.8" stop-color="#5e5e5e"/><stop offset="1" stop-color="#5e5e5e"/></radialGradient>
<radialGradient id="gp13m" cx="0.5" cy="0.5" r="0.62"><stop offset="0.15" stop-color="#434343"/><stop offset="0.8" stop-color="#737373"/><stop offset="1" stop-color="#737373"/></radialGradient>
<radialGradient id="gp13l" cx="0.5" cy="0.5" r="0.62"><stop offset="0.15" stop-color="#5c5c5c"/><stop offset="0.8" stop-color="#898989"/><stop offset="1" stop-color="#898989"/></radialGradient>
<radialGradient id="gp13L" cx="0.5" cy="0.5" r="0.62"><stop offset="0.15" stop-color="#717171"/><stop offset="0.8" stop-color="#9b9b9b"/><stop offset="1" stop-color="#9b9b9b"/></radialGradient>
</defs>
<rect width="203" height="142" fill="#cccccc"/>
<path d="M15.1,14.8 17.4,14.5 20.5,12.2 21.2,11.1 23.4,0.1 23.1,-1.4 22.5,-2.3 20.4,-3.2 -0.2,-3.2 -2.3,-2.3 -3.2,-0.5 -3.2,7.6 -2.3,9.7 -1.0,10.5Z" fill="url(#gp13L)"/>
<path d="M52.2,-0.1 51.5,-2.0 49.5,-3.2 27.0,-3.0 26.0,-2.3 25.2,-1.0 23.1,10.0 23.3,11.8 24.2,12.9 40.7,25.9 42.0,26.5 43.7,26.3 50.2,21.9 51.1,20.7Z" fill="url(#gp13D)"/>
<path d="M90.0,5.1 90.2,-1.0 89.5,-2.3 87.9,-3.1 55.7,-3.0 54.3,-1.9 53.8,-0.6 53.1,20.0 53.8,21.0 55.0,21.8 75.5,28.7 77.6,28.6 83.9,24.4 84.9,23.3Z" fill="url(#gp13L)"/>
<path d="M13.4,30.6 14.5,29.6 14.9,28.2 15.6,18.8 14.9,16.9 13.4,16.0 0.6,12.5 -0.9,12.5 -2.1,13.1 -3.0,14.3 -3.2,15.4 -3.2,30.5 -2.4,32.3 -0.9,33.2 6.8,34.1Z" fill="url(#gp13l)"/>
<path d="M16.6,27.0 17.1,28.9 18.7,30.1 36.3,33.6 37.7,33.4 38.7,32.8 40.4,29.6 40.3,28.2 39.3,26.8 23.7,14.6 22.0,13.9 20.0,14.5 18.3,15.8 17.5,17.0Z" fill="url(#gp13D)"/>
<path d="M16.8,31.3 14.7,31.7 9.0,34.9 7.9,36.3 6.4,54.3 7.1,55.5 8.1,56.2 23.9,62.7 25.8,62.9 37.9,53.8 38.8,52.7 39.0,51.2 37.8,37.2 37.1,35.9 35.8,35.1Z" fill="url(#gp13l)"/>
<path d="M40.7,51.8 41.4,53.4 43.7,55.3 61.5,61.7 63.7,61.4 77.0,50.3 77.8,49.2 78.0,47.8 76.2,31.5 74.5,30.0 53.6,23.1 51.2,23.3 43.0,28.9 39.6,34.8Z" fill="url(#gp13l)"/>
<path d="M79.6,47.9 80.7,49.9 93.0,58.6 94.7,59.0 96.3,58.3 101.6,48.4 99.8,32.0 99.1,30.4 97.8,29.5 86.2,25.5 84.6,25.9 79.2,29.6 78.3,30.8 78.1,31.9Z" fill="url(#gp13l)"/>
<path d="M-3.2,54.1 -2.3,56.3 -0.4,57.1 3.1,55.9 4.4,54.4 6.0,38.3 5.5,36.7 4.2,35.6 -0.7,35.0 -2.1,35.6 -3.0,36.7Z" fill="url(#gp13D)"/>
<path d="M99.4,28.4 101.0,28.5 106.3,26.7 107.5,25.1 107.4,23.1 94.7,9.9 93.4,9.3 91.6,9.4 90.7,10.1 89.9,11.4 87.2,21.4 87.4,23.1 88.8,24.6Z" fill="url(#gp13d)"/>
<path d="M91.5,65.7 92.8,65.1 93.8,63.7 93.8,62.0 93.1,60.8 80.9,52.0 79.2,51.5 77.3,52.2 65.1,62.4 64.0,64.5 64.7,69.0 65.8,70.3 67.2,70.8Z" fill="url(#gp13D)"/>
<path d="M24.6,67.0 24.2,65.3 23.0,64.1 5.8,57.0 4.3,57.1 -1.7,59.9 -2.6,60.6 -3.1,61.9 -3.1,71.5 -2.3,73.1 -0.8,73.9 22.2,72.2 23.5,71.5 24.1,70.6Z" fill="url(#gp13L)"/>
<path d="M62.8,73.1 63.3,71.3 62.5,65.5 61.3,63.5 47.7,58.5 46.0,58.6 44.6,59.6 44.0,61.4 44.7,68.9 45.8,70.9 59.4,75.3 61.4,74.8Z" fill="url(#gp13m)"/>
<path d="M43.1,69.3 41.7,57.3 40.8,56.3 39.4,55.8 38.0,55.9 26.8,64.5 26.3,66.1 26.0,72.2 26.4,73.2 29.1,76.2 30.5,76.8 32.0,76.7 41.5,72.0 42.6,71.0Z" fill="url(#gp13m)"/>
<path d="M108.5,21.6 109.7,22.3 111.2,22.4 112.5,21.8 113.4,20.6 117.7,0.4 117.3,-1.9 116.2,-2.8 114.7,-3.2 95.0,-3.2 93.3,-2.7 92.5,-1.9 92.0,-0.6 91.8,3.5 92.3,5.0Z" fill="url(#gp13l)"/>
<path d="M136.0,42.3 137.4,42.6 138.8,42.2 152.9,31.5 153.9,30.3 159.1,4.5 158.7,-1.0 158.0,-2.3 157.0,-3.0 122.5,-3.2 120.9,-2.7 119.8,-1.4 114.2,24.6 114.4,26.4 120.2,34.7Z" fill="url(#gp13l)"/>
<path d="M163.4,-3.2 161.8,-2.7 160.6,-1.1 161.0,4.5 180.0,36.1 181.3,36.6 182.7,36.6 204.1,30.1 205.5,29.1 206.2,27.2 206.2,22.4 205.7,21.0 186.8,-2.5 184.8,-3.2Z" fill="url(#gp13L)"/>
<path d="M170.9,34.2 172.3,34.2 173.8,33.3 174.5,31.8 174.3,30.1 164.1,13.0 162.5,11.9 160.5,12.1 159.4,12.9 158.8,14.2 156.1,27.8 156.3,29.8 158.0,31.2Z" fill="url(#gp13d)"/>
<path d="M113.8,28.4 112.5,27.3 110.7,27.2 103.3,29.5 101.9,30.6 101.5,32.3 102.5,42.0 102.9,43.1 103.8,44.1 105.5,44.6 107.1,44.2 116.9,36.3 117.4,34.9 117.1,33.4Z" fill="url(#gp13m)"/>
<path d="M137.1,46.3 136.5,44.7 135.4,43.8 121.0,37.0 118.7,37.1 103.2,49.5 97.0,61.1 96.8,62.5 97.4,65.3 100.0,68.1 112.0,73.4 114.1,73.3 137.3,60.5 138.0,58.7Z" fill="url(#gp13m)"/>
<path d="M180.0,40.4 179.4,38.6 178.0,37.6 156.1,32.4 154.1,32.7 139.8,43.4 138.9,44.6 138.7,46.1 140.0,60.7 145.9,68.7 147.7,69.6 178.5,65.6 179.5,64.6 180.0,63.3Z" fill="url(#gp13l)"/>
<path d="M206.2,35.1 205.8,33.7 205.1,32.8 203.8,32.2 202.6,32.2 183.8,37.9 182.3,38.9 181.6,40.8 181.6,62.3 182.0,63.7 182.8,64.7 184.5,65.3 203.0,66.3 204.4,66.1 205.6,65.2 206.2,63.3Z" fill="url(#gp13l)"/>
<path d="M206.2,-0.2 205.3,-2.3 203.2,-3.2 193.7,-3.1 192.3,-2.1 191.6,-0.2 192.3,1.7 200.9,12.4 201.8,13.2 203.2,13.5 205.1,12.9 206.1,11.1Z" fill="url(#gp13d)"/>
<path d="M-3.2,93.0 -2.7,94.7 -1.5,95.7 14.2,103.5 16.5,103.5 27.7,97.0 28.8,95.8 29.1,94.4 28.9,78.8 25.5,74.6 23.7,73.8 -1.3,75.8 -2.5,76.7 -3.2,78.3Z" fill="url(#gp13l)"/>
<path d="M32.4,78.2 31.3,79.2 30.7,80.9 30.8,94.5 31.9,96.6 51.0,105.5 52.9,105.0 60.8,99.4 61.4,97.4 60.6,79.4 60.3,78.4 59.5,77.2 44.3,72.6Z" fill="url(#gp13m)"/>
<path d="M94.6,98.1 95.7,97.1 96.2,95.7 97.9,69.9 97.6,68.5 96.8,67.4 95.7,66.8 94.3,66.8 65.9,72.8 64.2,73.8 62.5,76.4 62.1,77.9 63.0,97.0 64.1,99.0 81.9,104.5 83.3,104.1Z" fill="url(#gp13m)"/>
<path d="M13.8,114.0 14.0,116.3 30.3,144.4 32.0,145.2 43.3,145.2 45.4,144.3 46.3,142.6 50.4,109.5 50.2,108.1 49.4,106.9 31.4,98.2 29.4,98.0 16.5,105.5 15.8,106.8Z" fill="url(#gp13d)"/>
<path d="M13.4,118.3 12.1,117.2 10.2,116.9 -1.4,120.4 -2.8,121.8 -3.2,123.2 -3.2,142.5 -2.7,143.9 -1.6,144.8 -0.2,145.2 23.6,145.2 25.0,144.8 26.2,143.6 26.6,142.1 26.2,140.7Z" fill="url(#gp13D)"/>
<path d="M87.0,122.9 87.1,120.6 82.2,107.6 81.3,106.4 63.8,100.8 61.5,101.0 53.2,106.7 52.2,108.1 48.0,141.8 48.3,143.6 49.3,144.7 51.0,145.2 74.6,145.2 76.0,144.9 77.3,143.5Z" fill="url(#gp13l)"/>
<path d="M88.3,119.3 89.3,120.6 90.6,121.2 95.0,121.5 96.8,120.6 106.5,106.0 106.8,104.3 106.1,102.6 104.9,101.8 98.1,99.2 96.7,99.0 84.9,105.2 84.2,106.4 84.1,108.1Z" fill="url(#gp13l)"/>
<path d="M97.0,123.8 95.7,123.2 90.6,122.8 89.2,123.2 88.3,124.0 80.2,141.2 80.2,143.3 81.3,144.7 83.0,145.2 103.8,145.2 105.0,145.0 106.2,144.1 106.8,142.1 106.2,131.5 105.3,130.3Z" fill="url(#gp13d)"/>
<path d="M-3.2,115.3 -2.3,117.4 -0.2,118.3 10.9,114.9 12.3,113.1 13.9,107.6 13.5,105.6 12.3,104.4 1.1,98.8 -0.3,98.5 -1.7,98.9 -2.7,99.8 -3.2,101.2Z" fill="url(#gp13l)"/>
<path d="M103.4,71.4 102.0,71.1 100.9,71.4 100.0,72.1 99.3,73.4 97.9,96.0 98.4,97.1 99.5,98.0 107.3,101.0 109.0,101.1 110.5,100.3 111.2,99.1 114.8,81.0 112.2,75.4Z" fill="url(#gp13l)"/>
<path d="M141.5,85.6 143.7,85.1 145.0,83.3 145.5,71.4 145.0,70.1 140.3,63.9 139.1,62.9 137.9,62.7 136.5,63.0 116.5,73.8 115.2,75.4 115.2,77.7 116.1,79.6 117.4,80.6Z" fill="url(#gp13l)"/>
<path d="M176.6,85.6 177.6,83.9 179.1,70.8 178.5,69.1 177.2,68.0 175.7,67.8 149.7,71.1 148.3,71.6 147.4,72.8 146.7,82.9 147.3,84.6 148.4,85.5 169.7,90.5 171.5,89.9Z" fill="url(#gp13L)"/>
<path d="M184.0,66.9 182.0,67.5 180.9,69.2 179.3,82.7 179.8,84.7 181.0,85.7 201.9,96.1 203.3,96.4 204.9,95.9 205.9,94.8 206.2,93.4 206.2,71.0 205.7,69.2 203.7,68.0Z" fill="url(#gp13m)"/>
<path d="M112.9,98.9 113.3,101.2 115.2,102.5 135.5,104.4 136.5,103.8 137.4,102.6 142.1,90.9 142.1,88.9 141.2,87.5 139.9,86.9 119.4,82.7 118.0,82.8 116.7,83.5 116.0,84.7Z" fill="url(#gp13D)"/>
<path d="M148.1,87.1 146.0,87.4 144.7,88.6 138.2,105.3 138.5,106.8 144.8,119.4 146.0,120.2 147.7,120.3 171.4,114.7 172.6,114.1 173.5,112.9 173.6,111.3 170.5,94.2 169.7,92.7 168.2,91.8Z" fill="url(#gp13D)"/>
<path d="M173.0,90.8 172.2,91.9 171.9,93.3 175.3,111.5 176.1,113.1 177.3,113.8 178.5,114.0 179.9,113.5 198.8,101.5 200.1,99.9 200.0,97.9 198.8,96.4 179.9,87.0 178.4,86.8 177.3,87.2Z" fill="url(#gp13L)"/>
<path d="M143.8,122.9 143.6,120.9 137.3,107.9 136.0,106.5 114.8,104.1 113.4,104.4 112.2,105.6 108.8,127.4 109.2,129.1 110.5,130.2 136.9,138.1 138.3,138.2 139.9,137.4 140.6,136.2Z" fill="url(#gp13m)"/>
<path d="M180.7,114.9 179.6,116.2 179.4,117.7 179.8,119.1 180.9,120.0 202.3,126.5 204.6,126.2 205.7,125.3 206.2,123.9 206.2,104.1 205.9,102.7 204.1,101.3 201.8,101.5Z" fill="url(#gp13D)"/>
<path d="M177.2,117.4 175.7,116.0 174.0,115.8 146.3,122.5 145.2,124.2 141.4,140.0 141.4,142.8 142.1,144.1 143.0,144.9 144.4,145.2 174.3,145.2 176.0,144.7 176.8,143.8 177.3,142.4 178.6,121.4 178.5,120.2Z" fill="url(#gp13m)"/>
<path d="M206.2,131.5 205.7,129.9 204.3,128.7 183.8,122.6 181.8,122.8 180.6,123.7 180.0,125.0 178.9,142.0 179.2,143.4 180.3,144.7 181.6,145.2 204.3,145.0 205.5,144.1 206.2,142.5Z" fill="url(#gp13l)"/>
<path d="M112.0,132.4 110.5,132.4 109.4,132.8 108.2,134.8 108.5,142.9 109.1,144.2 110.3,145.0 134.9,145.2 136.2,144.7 137.3,143.3 137.3,141.0 135.7,139.4Z" fill="url(#gp13D)"/>
<path d="M104.9,127.9 106.4,128.1 107.3,127.0 109.9,108.9 109.6,107.9 108.6,107.3 107.1,108.0 98.2,121.7 98.7,123.1Z" fill="url(#gp13m)"/>
</svg>
<svg x="33" y="195" width="185" height="142" viewBox="0 0 185 142" overflow="hidden"><defs>
<radialGradient id="gp21D" cx="0.5" cy="0.5" r="0.62"><stop offset="0.15" stop-color="#242424"/><stop offset="0.8" stop-color="#5d5d5d"/><stop offset="1" stop-color="#5d5d5d"/></radialGradient>
<radialGradient id="gp21d" cx="0.5" cy="0.5" r="0.62"><stop offset="0.15" stop-color="#393939"/><stop offset="0.8" stop-color="#6e6e6e"/><stop offset="1" stop-color="#6e6e6e"/></radialGradient>
<radialGradient id="gp21m" cx="0.5" cy="0.5" r="0.62"><stop offset="0.15" stop-color="#525252"/><stop offset="0.8" stop-color="#848484"/><stop offset="1" stop-color="#848484"/></radialGradient>
<radialGradient id="gp21l" cx="0.5" cy="0.5" r="0.62"><stop offset="0.15" stop-color="#6c6c6c"/><stop offset="0.8" stop-color="#9b9b9b"/><stop offset="1" stop-color="#9b9b9b"/></radialGradient>
<radialGradient id="gp21L" cx="0.5" cy="0.5" r="0.62"><stop offset="0.15" stop-color="#828282"/><stop offset="0.8" stop-color="#aeaeae"/><stop offset="1" stop-color="#aeaeae"/></radialGradient>
</defs>
<rect width="185" height="142" fill="#c4c4c4"/>
<path d="M178.4,-3.4 178.0,-3.0 178.3,-2.4 187.7,1.2 188.4,0.9 188.4,-2.9 188.1,-3.4Z" fill="url(#gp21m)"/>
<path d="M164.1,2.1 171.6,1.9 172.1,1.1 172.2,-3.0 171.4,-3.4 159.0,-3.4 158.2,-3.0 158.0,-2.3 158.4,-1.6Z" fill="url(#gp21d)"/>
<path d="M188.4,3.4 187.8,2.5 174.9,-2.4 174.1,-2.4 173.6,-1.9 173.3,2.3 175.7,5.0 187.5,7.4 188.4,6.6Z" fill="url(#gp21d)"/>
<path d="M143.2,-1.2 149.7,6.0 161.0,8.1 161.7,7.6 163.2,3.8 162.9,2.7 153.4,-3.4 143.5,-3.4 142.8,-2.6Z" fill="url(#gp21l)"/>
<path d="M166.3,11.7 175.2,13.0 176.2,12.5 176.3,11.8 174.8,5.9 172.5,3.4 165.3,3.5 164.5,3.8 162.7,8.6Z" fill="url(#gp21d)"/>
<path d="M177.9,13.1 180.2,14.9 187.8,15.8 188.4,15.0 188.3,9.2 187.6,8.6 177.1,6.7 176.5,7.8Z" fill="url(#gp21m)"/>
<path d="M121.2,-3.4 120.2,-2.7 120.5,-1.7 132.1,6.8 138.9,6.1 142.0,-0.6 141.1,-2.9 140.3,-3.4Z" fill="url(#gp21D)"/>
<path d="M147.6,7.6 148.2,6.9 148.0,6.1 143.9,1.4 142.6,1.4 140.5,5.8 140.7,6.7 145.0,8.7Z" fill="url(#gp21m)"/>
<path d="M150.8,7.4 149.8,7.7 149.7,8.8 156.5,17.5 162.2,17.7 163.0,17.4 165.2,13.2 164.9,12.1 161.4,9.5Z" fill="url(#gp21m)"/>
<path d="M177.5,14.6 166.9,13.2 166.3,13.7 164.3,18.0 164.8,18.6 172.9,23.6 178.0,23.1 178.8,22.3 179.2,16.2 178.9,15.5Z" fill="url(#gp21l)"/>
<path d="M188.4,18.1 187.6,17.1 180.8,16.4 180.3,17.2 180.1,23.2 186.9,27.2 187.9,27.2 188.4,26.5Z" fill="url(#gp21m)"/>
<path d="M117.2,-2.2 117.0,-3.0 116.2,-3.4 108.3,-3.4 107.7,-3.1 107.4,-2.4 112.0,5.0 112.9,5.4 115.2,5.3 115.9,4.9Z" fill="url(#gp21m)"/>
<path d="M128.8,11.1 129.8,11.1 130.4,10.7 131.0,8.2 130.7,7.4 119.6,-0.9 118.4,-0.8 117.2,5.0 117.4,5.8 119.5,7.2Z" fill="url(#gp21m)"/>
<path d="M144.7,10.3 144.2,9.7 139.1,7.5 132.7,8.0 132.2,8.5 131.7,10.6 132.4,11.5 144.9,16.4 145.6,16.1 145.8,15.4Z" fill="url(#gp21m)"/>
<path d="M148.6,9.3 147.4,9.0 146.4,9.5 146.0,10.2 147.5,16.7 148.2,17.2 153.7,17.7 154.2,17.1 154.0,16.3Z" fill="url(#gp21m)"/>
<path d="M157.7,18.9 156.9,19.3 156.8,20.3 160.7,25.9 170.0,28.2 170.9,27.7 171.9,25.2 171.5,24.1 163.1,19.0Z" fill="url(#gp21l)"/>
<path d="M187.5,32.3 188.4,31.5 188.1,29.3 179.1,24.3 173.6,24.9 172.0,28.5 172.1,29.4 174.0,31.5 177.5,33.4Z" fill="url(#gp21m)"/>
<path d="M109.0,6.9 110.4,6.3 110.7,5.2 105.0,-3.3 87.7,-3.4 86.8,-2.8 87.2,-1.4 93.7,4.3Z" fill="url(#gp21m)"/>
<path d="M116.5,6.7 112.2,6.7 111.3,7.3 111.1,8.1 116.3,13.3 119.0,13.7 119.7,12.7 118.6,8.3Z" fill="url(#gp21m)"/>
<path d="M123.8,15.3 124.7,15.2 126.8,13.1 127.0,11.9 121.8,9.5 121.0,9.5 120.4,10.4 121.3,14.0Z" fill="url(#gp21D)"/>
<path d="M125.8,15.9 125.5,16.6 125.7,17.3 131.7,23.0 145.5,24.7 146.5,24.1 146.1,18.7 145.5,18.0 130.7,12.2 129.1,12.6Z" fill="url(#gp21m)"/>
<path d="M148.5,18.5 147.8,18.7 147.4,19.3 147.9,25.1 151.2,28.4 152.2,28.6 158.5,26.3 158.6,25.2 154.7,19.5Z" fill="url(#gp21D)"/>
<path d="M164.7,36.8 165.7,36.7 172.0,32.3 172.1,31.3 170.9,29.8 160.3,27.2 152.5,30.0 152.4,30.8 153.0,31.8Z" fill="url(#gp21l)"/>
<path d="M186.9,46.0 187.9,46.0 188.4,45.2 188.2,34.0 187.3,33.6 179.6,34.6 179.2,35.2 179.4,35.9 185.3,45.0Z" fill="url(#gp21D)"/>
<path d="M66.8,2.9 67.3,3.5 82.0,10.7 82.8,10.0 86.0,-0.9 84.3,-3.1 83.7,-3.4 66.0,-3.4 65.4,-3.0 65.2,-2.3Z" fill="url(#gp21d)"/>
<path d="M88.3,1.1 87.3,0.9 86.7,1.4 84.5,8.4 85.2,9.5 86.0,9.4 92.3,5.5 92.1,4.5Z" fill="url(#gp21l)"/>
<path d="M96.2,6.0 95.3,6.2 95.0,7.1 97.3,11.3 112.0,20.2 113.3,20.0 115.2,14.1 109.3,8.3Z" fill="url(#gp21m)"/>
<path d="M114.5,20.3 115.0,21.5 118.1,22.0 123.6,18.0 123.9,16.9 123.4,16.4 120.7,15.3 116.8,14.8 116.2,15.4Z" fill="url(#gp21m)"/>
<path d="M125.7,19.0 124.4,18.9 120.5,21.8 120.2,22.9 120.7,23.4 127.5,27.0 128.3,27.0 130.2,24.3 130.3,23.5Z" fill="url(#gp21d)"/>
<path d="M130.7,30.8 131.3,31.2 144.9,35.3 149.8,34.2 151.4,31.8 150.8,29.7 147.0,26.1 132.2,24.3 131.4,24.7 129.5,28.0Z" fill="url(#gp21m)"/>
<path d="M151.6,33.9 151.8,35.2 158.9,40.8 165.7,41.9 166.7,41.4 166.6,40.4 164.8,38.1 153.0,33.1 152.3,33.2Z" fill="url(#gp21m)"/>
<path d="M166.7,38.6 170.3,42.7 181.6,44.5 182.3,44.2 182.6,43.6 177.1,34.7 173.8,32.9 166.7,37.6Z" fill="url(#gp21m)"/>
<path d="M33.0,-3.4 32.1,-2.8 32.4,-1.6 44.2,5.4 51.5,4.6 53.2,2.1 52.1,-2.7 51.5,-3.4Z" fill="url(#gp21m)"/>
<path d="M54.3,1.1 54.9,1.8 64.0,4.5 64.8,4.4 65.6,3.4 63.8,-2.8 63.0,-3.4 54.0,-3.3 53.5,-2.4Z" fill="url(#gp21l)"/>
<path d="M70.8,15.3 79.2,12.7 79.7,12.2 79.7,11.4 67.1,4.8 66.3,4.7 65.6,5.3 65.6,6.1 69.9,14.7Z" fill="url(#gp21l)"/>
<path d="M85.2,11.3 84.7,12.1 85.1,13.0 87.9,14.8 90.6,15.4 95.3,12.0 95.7,11.2 93.7,7.4 92.9,7.0Z" fill="url(#gp21m)"/>
<path d="M100.6,24.7 101.4,25.0 111.2,24.0 111.9,23.5 112.3,22.1 111.9,21.5 97.4,12.7 96.5,12.6 92.6,15.6 92.4,16.6Z" fill="url(#gp21m)"/>
<path d="M113.1,23.8 113.1,24.9 120.1,32.8 126.8,33.9 129.4,31.7 129.4,30.9 128.1,28.6 118.1,23.4 114.2,22.7Z" fill="url(#gp21l)"/>
<path d="M144.0,37.3 143.4,36.1 131.1,32.4 130.3,32.6 128.5,34.6 129.4,36.0 142.5,39.7 143.5,39.3Z" fill="url(#gp21l)"/>
<path d="M146.0,36.3 145.3,37.0 144.5,40.7 145.9,46.6 149.0,47.2 157.9,46.3 158.6,45.9 158.8,45.2 158.0,41.6 150.5,35.7 149.8,35.5Z" fill="url(#gp21d)"/>
<path d="M160.9,42.4 160.1,42.6 159.7,43.4 160.3,46.3 161.7,48.1 167.2,48.6 168.0,48.2 168.8,44.6 168.4,43.7Z" fill="url(#gp21l)"/>
<path d="M169.3,48.5 169.6,49.3 172.0,51.3 178.4,51.0 184.6,48.0 185.1,47.1 184.3,46.2 170.8,44.0 170.0,44.7Z" fill="url(#gp21m)"/>
<path d="M188.4,49.0 188.0,48.2 187.0,48.1 180.9,51.2 180.4,51.9 180.7,52.7 186.7,59.4 187.3,59.7 188.0,59.5 188.4,58.8Z" fill="url(#gp21l)"/>
<path d="M13.1,-1.7 22.9,0.8 26.8,-1.6 27.1,-2.5 26.2,-3.4 13.7,-3.4 12.8,-2.7Z" fill="url(#gp21l)"/>
<path d="M45.9,6.5 45.2,6.9 45.1,7.7 47.1,13.5 56.4,14.1 57.3,13.6 57.3,12.5 52.1,6.0Z" fill="url(#gp21m)"/>
<path d="M64.3,6.2 63.7,5.7 54.8,3.0 54.0,3.4 53.2,4.9 53.4,5.7 60.3,14.3 61.1,14.7 67.4,14.8 67.9,14.3 68.0,13.5Z" fill="url(#gp21m)"/>
<path d="M74.0,15.7 73.4,16.3 73.6,17.3 79.9,22.5 85.4,22.3 86.2,21.7 86.9,15.8 83.0,13.1 82.3,13.0Z" fill="url(#gp21d)"/>
<path d="M90.7,16.8 88.5,16.5 88.1,17.1 87.4,21.7 87.7,22.4 97.3,25.8 98.3,25.6 98.6,24.9 98.3,24.1Z" fill="url(#gp21d)"/>
<path d="M100.7,26.7 100.6,27.4 100.9,28.0 110.7,34.7 115.1,35.6 118.2,33.4 118.0,32.4 111.7,25.3 101.5,26.2Z" fill="url(#gp21D)"/>
<path d="M120.2,34.1 116.9,35.9 116.6,36.9 121.7,43.6 122.5,43.7 130.4,41.5 130.4,40.4 128.3,36.8 127.0,35.3Z" fill="url(#gp21d)"/>
<path d="M132.5,38.1 131.6,38.2 131.2,39.1 132.6,41.6 141.5,46.5 143.3,46.9 144.1,46.5 144.3,45.7 143.1,41.2Z" fill="url(#gp21D)"/>
<path d="M160.6,48.8 159.4,47.3 153.0,48.1 159.4,49.7Z" fill="url(#gp21m)"/>
<path d="M170.0,54.5 171.0,53.9 171.0,52.3 168.4,49.9 162.0,49.5 161.0,50.2 161.1,51.2 163.7,54.1Z" fill="url(#gp21m)"/>
<path d="M173.2,52.5 172.3,53.2 172.5,55.1 181.1,63.6 186.5,63.4 187.2,63.0 187.2,61.8 178.7,52.4Z" fill="url(#gp21m)"/>
<path d="M-1.2,-3.4 -2.1,-2.8 -1.9,-1.7 4.3,1.9 10.6,-0.5 11.2,-1.3 11.0,-2.1 9.4,-3.4Z" fill="url(#gp21m)"/>
<path d="M16.6,0.6 16.1,0.8 16.2,1.4 25.7,10.7 26.5,10.6 26.5,10.1 22.8,2.1Z" fill="url(#gp21m)"/>
<path d="M27.7,9.7 28.4,10.3 33.7,10.8 38.8,6.0 39.0,5.0 36.3,2.3 30.0,-1.7 29.2,-1.8 24.7,1.3 24.2,1.9Z" fill="url(#gp21l)"/>
<path d="M43.7,7.4 43.1,6.8 40.4,6.3 36.4,10.0 36.3,11.1 36.9,11.6 44.6,13.3 45.2,12.2Z" fill="url(#gp21m)"/>
<path d="M48.3,14.9 47.3,15.7 47.8,17.4 54.1,23.4 54.9,23.5 59.2,21.6 60.0,16.4 59.5,15.5Z" fill="url(#gp21m)"/>
<path d="M79.3,24.0 79.0,23.3 70.7,16.5 69.4,16.1 62.2,15.9 61.3,16.5 60.5,21.4 60.8,22.1 74.8,29.6 78.8,30.2 79.7,29.8Z" fill="url(#gp21D)"/>
<path d="M96.1,35.0 97.2,34.3 99.2,28.6 98.8,27.6 86.7,23.5 81.5,23.8 80.8,24.2 81.2,30.5 83.7,32.8Z" fill="url(#gp21m)"/>
<path d="M106.4,35.4 107.2,34.7 106.9,33.6 101.3,29.8 100.1,30.0 98.5,34.3 98.8,35.3 101.3,36.2Z" fill="url(#gp21m)"/>
<path d="M115.1,37.1 110.3,35.9 103.5,37.1 102.8,38.1 108.2,47.2 111.1,48.3 120.5,46.7 121.0,45.9 120.9,44.6Z" fill="url(#gp21m)"/>
<path d="M138.4,46.2 131.6,42.7 122.9,44.9 122.2,45.5 122.2,46.7 129.4,51.6 138.5,47.6 138.7,46.9Z" fill="url(#gp21m)"/>
<path d="M131.2,52.3 130.6,53.4 131.8,55.4 141.6,59.3 147.2,56.7 147.7,56.0 144.0,48.7 143.3,48.2 141.2,47.9Z" fill="url(#gp21m)"/>
<path d="M146.9,48.1 146.0,48.4 145.8,49.4 149.4,56.0 158.7,62.4 159.8,62.3 162.5,55.1 159.5,51.2Z" fill="url(#gp21D)"/>
<path d="M164.5,55.5 163.5,56.1 161.2,62.4 161.5,63.3 173.1,67.9 177.8,68.3 178.6,67.9 180.1,65.1 180.1,64.3 171.7,56.1Z" fill="url(#gp21d)"/>
<path d="M187.1,72.3 187.9,72.2 188.4,71.4 188.2,64.9 187.3,64.5 181.5,65.2 179.8,68.2 180.0,69.2 181.7,70.6Z" fill="url(#gp21d)"/>
<path d="M-3.4,7.1 -2.6,8.1 2.6,8.2 3.1,7.5 3.4,3.0 -2.0,-0.3 -2.9,-0.2 -3.4,0.5Z" fill="url(#gp21d)"/>
<path d="M4.2,8.0 4.7,9.0 8.1,10.6 23.0,12.1 24.0,11.3 23.7,10.4 12.8,0.0 5.0,3.1Z" fill="url(#gp21d)"/>
<path d="M26.9,12.1 26.7,13.4 31.3,19.9 33.5,20.8 45.4,17.6 46.1,16.9 45.8,15.4 45.1,14.8 33.8,12.1 28.1,11.5Z" fill="url(#gp21m)"/>
<path d="M37.4,21.1 36.7,21.8 37.0,22.8 46.1,28.3 46.8,28.2 52.2,25.1 52.6,24.4 52.4,23.5 47.0,18.6Z" fill="url(#gp21d)"/>
<path d="M56.7,24.1 56.1,24.8 56.3,25.7 63.5,32.1 65.9,32.6 71.1,30.8 71.6,30.2 71.3,29.0 60.1,23.1Z" fill="url(#gp21d)"/>
<path d="M80.2,39.8 81.3,39.2 82.7,34.1 82.4,33.3 80.5,31.7 74.7,30.8 69.0,32.8 68.4,33.3 68.7,34.6 74.7,38.6Z" fill="url(#gp21m)"/>
<path d="M85.9,45.0 96.6,47.8 101.2,46.8 101.9,45.9 96.1,36.3 84.6,34.3 83.7,34.9 82.3,40.4Z" fill="url(#gp21m)"/>
<path d="M97.9,36.3 103.8,46.3 106.2,46.7 100.8,37.4Z" fill="url(#gp21m)"/>
<path d="M129.0,53.1 121.4,47.9 113.1,49.2 112.4,50.0 115.2,54.8 128.3,58.8 129.2,58.4 130.4,55.9Z" fill="url(#gp21D)"/>
<path d="M132.4,56.9 131.3,57.2 130.1,59.4 131.4,61.9 141.6,63.7 142.6,63.2 142.7,62.2 141.4,60.6Z" fill="url(#gp21m)"/>
<path d="M143.4,61.1 145.3,63.3 155.5,65.2 157.1,64.4 157.5,63.6 157.1,62.8 148.8,57.3 143.5,60.0Z" fill="url(#gp21m)"/>
<path d="M160.2,64.2 159.3,64.2 157.5,65.6 157.1,66.5 161.8,74.5 168.1,77.0 169.0,76.8 171.9,69.8 171.8,68.8Z" fill="url(#gp21l)"/>
<path d="M174.2,69.2 173.1,69.8 170.8,76.0 171.0,76.9 171.7,77.2 180.6,77.9 181.4,77.7 181.7,76.8 180.6,71.3 178.4,69.6Z" fill="url(#gp21l)"/>
<path d="M186.8,81.0 187.8,81.1 188.4,80.4 188.3,74.3 187.7,73.7 182.9,72.5 182.4,73.5 183.2,78.2Z" fill="url(#gp21l)"/>
<path d="M3.5,9.7 -2.6,9.4 -3.4,10.1 -3.4,11.7 -2.8,12.3 6.8,16.4 7.7,16.3 8.1,15.3 7.3,11.8Z" fill="url(#gp21d)"/>
<path d="M12.9,22.1 22.4,25.2 25.9,25.0 29.8,21.2 30.0,20.4 25.2,13.6 9.6,12.1 8.9,13.0 10.0,17.8Z" fill="url(#gp21m)"/>
<path d="M31.9,21.5 30.8,21.8 28.0,24.8 27.8,25.7 35.7,32.5 36.4,32.7 44.8,31.0 45.5,30.6 45.6,29.8 45.1,29.2 33.5,22.1Z" fill="url(#gp21d)"/>
<path d="M54.7,25.8 53.6,25.6 47.6,29.1 47.2,29.8 47.4,30.8 50.0,32.9 57.5,34.5 60.9,33.0 61.2,32.3 61.0,31.6Z" fill="url(#gp21d)"/>
<path d="M65.7,34.0 62.9,33.4 59.8,34.9 59.5,35.9 64.9,42.4 68.4,43.6 72.6,40.1 72.9,39.1Z" fill="url(#gp21d)"/>
<path d="M84.7,46.5 84.6,45.4 81.2,41.3 75.1,39.9 74.3,40.2 69.7,44.5 70.0,45.3 74.5,49.8 82.7,49.3Z" fill="url(#gp21D)"/>
<path d="M91.1,56.3 98.1,57.8 98.8,57.6 99.2,57.0 96.0,49.0 86.1,46.7 84.5,49.2 84.5,50.1Z" fill="url(#gp21m)"/>
<path d="M106.7,62.3 109.8,61.9 113.7,55.5 113.6,54.8 110.5,49.7 107.4,48.1 103.6,47.6 98.2,48.8 97.8,49.9 101.2,58.5Z" fill="url(#gp21l)"/>
<path d="M129.0,60.5 115.2,56.2 114.4,56.7 111.4,62.0 112.0,62.9 125.4,67.7 129.7,65.2 130.3,62.6Z" fill="url(#gp21m)"/>
<path d="M140.6,68.2 141.4,65.3 140.8,64.7 132.3,63.3 131.4,63.7 131.0,65.0 131.3,65.8 132.8,66.8 139.7,68.7Z" fill="url(#gp21m)"/>
<path d="M143.6,64.8 143.0,65.4 141.7,69.7 148.1,77.7 158.4,76.8 160.3,75.3 160.3,74.3 155.5,66.5 144.9,64.4Z" fill="url(#gp21D)"/>
<path d="M165.9,78.3 165.9,77.5 161.8,75.9 159.5,77.7 160.3,80.8 160.7,81.1Z" fill="url(#gp21m)"/>
<path d="M171.8,78.5 170.9,78.9 170.8,79.8 177.0,91.6 177.7,91.7 187.6,89.9 188.2,89.4 188.3,83.7 182.6,79.4Z" fill="url(#gp21d)"/>
<path d="M-2.0,14.0 -2.9,14.0 -3.4,14.7 -3.4,17.3 -2.9,18.1 8.6,23.8 9.4,23.8 11.1,22.8 11.2,21.8 8.9,18.6Z" fill="url(#gp21D)"/>
<path d="M13.1,23.7 10.2,24.8 9.9,25.5 10.2,26.4 19.7,30.4 20.7,30.1 21.5,27.0 21.2,26.1Z" fill="url(#gp21d)"/>
<path d="M21.9,31.0 22.0,31.8 24.6,34.6 34.2,35.5 35.1,34.7 34.9,33.5 26.1,26.2 23.0,26.7Z" fill="url(#gp21L)"/>
<path d="M47.1,32.2 46.2,32.0 37.0,33.8 36.4,34.5 36.4,36.1 39.4,39.7 48.2,38.1 48.8,37.3 48.9,34.0Z" fill="url(#gp21l)"/>
<path d="M50.0,37.7 50.4,38.5 57.5,43.8 62.0,42.9 62.6,42.3 62.5,41.4 57.4,35.7 50.8,34.4 50.1,35.2Z" fill="url(#gp21D)"/>
<path d="M59.1,44.8 58.3,45.8 59.1,49.7 62.1,54.7 63.8,55.1 71.3,52.7 72.8,51.0 72.7,49.9 67.8,44.9 64.5,43.6Z" fill="url(#gp21D)"/>
<path d="M83.4,50.8 82.7,50.6 74.7,51.0 74.0,51.4 73.4,52.8 73.8,53.5 87.9,61.8 88.9,61.8 89.5,61.1 90.2,57.2Z" fill="url(#gp21m)"/>
<path d="M104.4,65.4 105.4,64.9 105.8,63.8 105.7,63.1 100.6,59.6 92.3,57.9 91.4,58.4 90.6,61.5 91.2,62.5 94.8,64.2Z" fill="url(#gp21m)"/>
<path d="M127.3,73.6 124.7,68.9 110.1,63.4 107.6,63.7 106.9,64.5 106.9,65.3 107.3,65.8 125.6,75.9 127.4,75.4Z" fill="url(#gp21m)"/>
<path d="M127.9,72.0 131.6,67.6 130.2,66.6 126.3,68.8Z" fill="url(#gp21m)"/>
<path d="M146.1,79.9 147.0,79.4 147.0,78.3 140.2,70.1 132.9,68.2 128.7,73.3 129.3,75.4 137.2,78.9Z" fill="url(#gp21l)"/>
<path d="M150.0,79.0 149.1,79.8 149.7,80.9 158.2,83.1 159.3,82.5 158.5,78.7 157.9,78.1Z" fill="url(#gp21l)"/>
<path d="M169.1,79.1 168.5,78.6 167.7,78.7 160.9,82.5 160.5,83.9 170.5,92.0 174.5,92.1 175.1,91.6 175.1,90.8Z" fill="url(#gp21m)"/>
<path d="M180.3,92.5 179.5,93.2 179.7,94.1 184.2,97.0 187.3,98.0 188.2,97.5 188.4,92.1 188.0,91.3 187.2,91.1Z" fill="url(#gp21m)"/>
<path d="M8.6,25.5 8.0,24.8 -2.0,19.9 -2.9,19.9 -3.4,20.8 -3.2,32.5 -2.4,33.0 3.1,32.9 8.6,27.0Z" fill="url(#gp21m)"/>
<path d="M5.1,32.6 4.8,33.5 5.2,34.1 16.2,40.7 22.8,37.9 23.4,37.2 23.3,35.2 20.7,32.2 10.3,27.8 9.3,28.0Z" fill="url(#gp21d)"/>
<path d="M24.6,37.1 25.0,38.0 36.6,45.5 37.3,45.6 38.0,45.2 38.3,40.7 35.3,36.9 25.6,35.9 24.8,36.2Z" fill="url(#gp21l)"/>
<path d="M54.7,53.1 55.7,52.8 57.8,49.8 56.6,44.7 49.1,39.2 39.7,41.2 39.3,45.6 39.6,46.4 46.0,50.8Z" fill="url(#gp21m)"/>
<path d="M56.6,53.6 58.3,54.4 60.3,54.4 58.5,51.2Z" fill="url(#gp21d)"/>
<path d="M85.7,61.9 71.6,53.9 66.3,55.5 65.6,56.2 65.8,57.1 70.3,61.7 81.2,66.8 82.0,66.6 86.0,63.3 86.1,62.5Z" fill="url(#gp21D)"/>
<path d="M83.8,66.6 83.4,67.6 84.0,68.3 91.7,69.9 92.5,69.3 93.6,65.5 93.1,64.7 89.9,63.2 88.4,63.1Z" fill="url(#gp21l)"/>
<path d="M95.8,65.5 94.7,66.2 93.6,69.9 93.9,70.9 99.9,74.9 104.6,74.4 105.3,74.1 105.5,73.3 104.2,66.7Z" fill="url(#gp21m)"/>
<path d="M107.4,67.2 106.4,67.2 105.9,68.0 107.0,74.5 114.9,80.4 122.4,79.7 124.2,77.7 124.4,77.0 124.0,76.4Z" fill="url(#gp21l)"/>
<path d="M126.5,77.1 124.3,79.5 124.6,80.8 134.6,88.1 137.5,88.7 138.4,88.3 138.6,87.3 136.5,80.0 128.8,76.5Z" fill="url(#gp21l)"/>
<path d="M147.5,82.1 146.7,81.1 139.5,80.4 138.7,80.6 138.4,81.3 139.8,86.9 140.6,87.6 147.0,87.5 147.4,86.9Z" fill="url(#gp21l)"/>
<path d="M150.0,82.2 149.2,82.3 148.7,82.9 148.7,88.2 157.7,96.3 164.8,96.7 168.8,93.4 168.7,92.1 159.4,84.7Z" fill="url(#gp21D)"/>
<path d="M176.6,93.5 170.7,93.5 166.7,96.8 166.5,97.9 174.0,106.3 181.8,106.4 182.4,105.6 183.3,98.1Z" fill="url(#gp21m)"/>
<path d="M188.4,100.3 187.7,99.4 185.5,98.7 184.6,99.1 183.5,106.5 183.7,107.2 185.3,109.0 187.3,109.6 188.0,109.4 188.4,108.7Z" fill="url(#gp21d)"/>
<path d="M3.2,34.4 -3.0,34.4 -3.4,35.1 -3.4,40.1 -2.9,40.9 8.3,45.5 15.0,42.5 14.7,41.2Z" fill="url(#gp21m)"/>
<path d="M18.6,41.2 18.0,42.0 18.4,42.9 26.8,47.9 33.0,46.5 33.7,45.9 33.3,44.8 24.1,38.9Z" fill="url(#gp21m)"/>
<path d="M44.6,52.3 44.3,51.1 38.3,47.0 36.6,46.9 28.2,49.0 27.5,49.8 27.6,51.0 29.9,53.5 42.0,56.1 42.9,55.6Z" fill="url(#gp21l)"/>
<path d="M55.3,64.5 56.2,64.5 56.7,63.9 57.3,55.5 55.4,54.6 46.8,52.2 46.0,52.4 43.9,56.3 44.1,57.3 45.9,59.6Z" fill="url(#gp21d)"/>
<path d="M57.9,64.0 58.2,64.7 58.8,65.1 67.0,64.9 67.7,64.5 68.9,62.2 63.3,56.3 59.5,55.7 58.7,56.5Z" fill="url(#gp21d)"/>
<path d="M74.9,74.2 79.6,73.5 81.3,69.2 81.3,68.5 71.0,63.4 70.1,63.3 68.8,65.2 68.7,66.0 72.2,72.9Z" fill="url(#gp21d)"/>
<path d="M83.4,69.5 82.3,70.1 81.1,73.3 81.5,74.3 94.2,81.6 98.5,80.8 99.1,80.4 99.2,76.3 98.7,75.6 92.4,71.4Z" fill="url(#gp21m)"/>
<path d="M113.8,82.1 113.6,80.9 106.3,75.6 101.2,76.0 100.4,76.6 100.4,80.1 101.1,81.0 111.7,84.9 112.5,84.5Z" fill="url(#gp21m)"/>
<path d="M113.6,85.1 113.7,86.2 115.3,87.3 129.2,87.8 130.1,86.9 129.7,86.0 122.5,81.0 115.6,81.8Z" fill="url(#gp21m)"/>
<path d="M138.6,97.6 142.2,96.3 142.7,95.2 137.9,90.2 136.9,89.9 136.2,91.0 137.0,96.7 137.4,97.3Z" fill="url(#gp21l)"/>
<path d="M140.6,88.8 139.7,89.3 139.8,90.3 145.0,95.4 149.1,96.8 154.2,97.2 155.1,96.6 154.9,95.5 147.8,89.1Z" fill="url(#gp21d)"/>
<path d="M158.1,97.7 157.3,98.0 157.0,98.9 159.2,102.5 166.3,102.2 167.1,101.6 167.1,100.6 164.8,98.0Z" fill="url(#gp21l)"/>
<path d="M183.6,110.3 183.8,109.1 182.3,107.7 176.3,107.6 175.4,108.4 176.3,110.6 181.0,112.2 181.9,112.0Z" fill="url(#gp21d)"/>
<path d="M183.1,112.5 183.1,113.3 187.7,116.3 188.3,116.1 188.2,111.2 185.3,110.4Z" fill="url(#gp21l)"/>
<path d="M17.2,43.5 16.2,43.5 10.3,46.2 10.1,47.3 12.3,49.9 24.9,50.3 25.7,49.9 25.9,49.2 25.5,48.5Z" fill="url(#gp21D)"/>
<path d="M13.5,51.3 12.6,51.9 12.5,53.4 16.3,57.7 18.9,59.1 26.6,59.6 27.4,59.1 28.6,54.3 26.5,51.7Z" fill="url(#gp21l)"/>
<path d="M43.9,60.6 44.2,59.4 42.5,57.4 30.6,54.9 29.6,55.6 28.5,59.7 28.8,60.5 34.4,66.1 36.2,66.8 36.9,66.6Z" fill="url(#gp21l)"/>
<path d="M59.1,66.3 58.1,67.1 58.7,68.6 64.0,71.5 68.9,72.4 69.9,71.9 69.9,71.0 67.3,66.3Z" fill="url(#gp21l)"/>
<path d="M93.6,83.3 93.1,82.4 80.2,75.0 76.5,75.4 75.8,76.0 76.0,82.5 78.8,84.2 92.4,86.4 93.3,85.7Z" fill="url(#gp21l)"/>
<path d="M94.8,88.1 95.8,88.8 109.5,88.6 110.9,87.4 111.2,86.6 110.5,85.8 99.6,81.8 95.0,83.1 94.5,86.9Z" fill="url(#gp21m)"/>
<path d="M119.5,97.3 120.6,96.9 120.6,95.7 114.5,88.3 113.3,87.5 112.4,87.7 110.8,89.6 111.2,94.7Z" fill="url(#gp21m)"/>
<path d="M134.8,90.0 134.0,89.2 118.4,88.6 117.7,88.9 117.4,89.6 124.1,98.1 124.9,98.5 135.3,97.1 135.7,96.3Z" fill="url(#gp21D)"/>
<path d="M143.4,101.5 144.2,101.8 144.9,101.4 147.0,98.6 146.8,97.4 144.6,96.7 141.2,98.2 141.1,99.4Z" fill="url(#gp21m)"/>
<path d="M145.4,102.6 145.4,103.7 148.7,108.0 158.6,108.0 159.5,107.3 158.2,103.4 155.1,98.5 149.1,98.1Z" fill="url(#gp21m)"/>
<path d="M169.6,103.5 168.8,103.2 160.9,103.7 160.2,104.1 160.0,104.9 161.5,108.3 166.3,111.4 173.1,112.1 174.4,111.2 174.6,110.2 173.3,107.3Z" fill="url(#gp21m)"/>
<path d="M174.8,112.4 174.4,113.0 174.5,113.7 178.2,119.1 187.4,119.8 188.3,119.2 188.0,118.0 181.5,113.6 176.2,111.9Z" fill="url(#gp21D)"/>
<path d="M-3.4,52.7 -2.6,53.6 2.5,53.9 10.6,52.9 11.2,52.4 11.4,51.1 8.0,46.7 -2.5,42.5 -3.4,43.4Z" fill="url(#gp21m)"/>
<path d="M11.5,54.1 5.8,55.0 14.5,57.7Z" fill="url(#gp21L)"/>
<path d="M21.6,68.4 22.0,69.0 22.7,69.2 31.4,66.9 32.0,66.4 32.1,65.7 27.4,60.9 20.5,60.5 19.9,60.9 19.8,61.6Z" fill="url(#gp21m)"/>
<path d="M43.8,72.2 52.6,72.3 56.8,69.2 57.1,68.2 56.2,66.4 46.1,61.1 45.4,61.0 38.2,67.4 38.5,68.3Z" fill="url(#gp21l)"/>
<path d="M58.7,70.0 57.7,70.1 54.7,72.3 54.4,73.5 60.3,79.2 63.1,79.8 63.7,78.9 63.3,72.7Z" fill="url(#gp21D)"/>
<path d="M73.8,82.7 74.7,81.8 74.3,75.3 71.6,74.1 65.7,73.1 65.0,73.3 64.6,74.1 65.2,80.7 68.9,83.0Z" fill="url(#gp21l)"/>
<path d="M93.7,89.0 93.4,87.7 82.1,86.1 89.2,90.4Z" fill="url(#gp21m)"/>
<path d="M99.7,89.9 98.8,90.5 99.0,91.6 106.1,96.5 107.0,96.5 109.8,94.8 109.6,90.6 109.1,89.9Z" fill="url(#gp21d)"/>
<path d="M108.3,97.1 107.8,97.8 107.9,98.6 112.3,103.2 122.9,104.5 123.9,103.8 123.6,100.3 123.0,99.6 110.9,96.1Z" fill="url(#gp21l)"/>
<path d="M125.8,99.6 124.9,100.5 125.4,104.9 131.3,109.5 136.2,110.1 143.1,103.6 142.9,102.7 138.8,99.0 136.6,98.4Z" fill="url(#gp21l)"/>
<path d="M138.8,109.4 138.5,110.3 139.1,111.1 145.4,112.7 146.2,112.2 147.3,108.8 144.9,105.2 144.1,104.8Z" fill="url(#gp21m)"/>
<path d="M165.0,113.1 164.7,111.9 160.6,109.3 149.3,109.2 148.4,109.8 147.2,113.3 149.8,116.1 155.1,118.3 161.2,119.5 162.0,119.1Z" fill="url(#gp21m)"/>
<path d="M167.2,112.8 166.2,113.3 163.2,119.4 163.3,120.3 167.8,123.4 173.6,123.4 176.6,120.2 176.7,119.1 172.7,113.5Z" fill="url(#gp21l)"/>
<path d="M178.5,120.4 177.8,120.7 175.4,123.3 175.1,124.2 180.3,128.8 181.0,129.0 187.5,128.4 188.2,128.0 188.4,122.0 188.0,121.2Z" fill="url(#gp21d)"/>
<path d="M-1.9,54.9 -2.8,55.5 -2.7,56.5 5.7,65.9 13.8,67.9 14.8,67.4 14.2,59.6 13.8,58.9 2.4,55.1Z" fill="url(#gp21m)"/>
<path d="M17.0,59.5 16.0,59.5 15.5,60.2 16.3,68.1 16.9,68.7 19.6,69.7 20.2,69.2 20.3,68.4 18.2,60.4Z" fill="url(#gp21L)"/>
<path d="M22.7,70.4 22.0,71.4 23.0,73.0 27.1,75.2 42.0,78.4 43.1,77.8 43.3,73.7 43.0,73.1 36.4,68.2 34.5,67.5Z" fill="url(#gp21D)"/>
<path d="M44.3,77.9 44.9,78.9 51.3,81.3 57.2,79.9 57.9,79.1 57.6,78.3 52.3,73.6 45.0,73.7 44.5,74.4Z" fill="url(#gp21D)"/>
<path d="M54.1,81.9 53.5,82.5 53.5,83.4 58.0,88.0 66.3,89.0 67.2,88.5 67.9,84.0 64.2,81.6 60.1,80.5Z" fill="url(#gp21l)"/>
<path d="M68.3,89.2 68.5,90.0 72.8,94.9 87.8,95.4 88.7,94.7 88.6,91.8 88.2,91.2 78.4,85.4 75.3,83.9 69.5,84.3Z" fill="url(#gp21L)"/>
<path d="M95.0,90.3 94.2,90.1 90.5,91.3 89.8,92.1 90.0,95.8 93.3,99.1 94.1,99.4 103.6,97.6 103.8,96.9 103.5,96.2Z" fill="url(#gp21m)"/>
<path d="M96.2,100.2 95.4,100.9 95.6,101.9 102.5,106.5 108.9,105.7 110.7,104.0 110.4,103.1 106.2,98.7Z" fill="url(#gp21m)"/>
<path d="M129.3,116.0 130.1,115.8 130.5,115.2 130.3,110.5 124.6,105.9 112.5,104.5 110.4,106.2 110.4,107.1 114.2,113.6Z" fill="url(#gp21m)"/>
<path d="M135.3,121.6 143.9,123.2 148.1,117.3 148.2,116.3 145.9,114.2 136.2,111.5 132.2,111.1 131.6,111.9 131.7,116.8 133.1,120.5Z" fill="url(#gp21l)"/>
<path d="M145.6,123.1 145.5,123.9 146.1,124.5 153.2,126.4 153.8,125.7 154.2,119.5 150.3,117.6 149.6,117.6Z" fill="url(#gp21d)"/>
<path d="M154.9,126.6 155.4,127.6 161.5,130.9 166.5,128.4 167.0,124.7 166.6,124.1 161.8,120.9 156.2,119.8 155.4,120.6Z" fill="url(#gp21m)"/>
<path d="M169.1,124.7 168.1,125.5 168.0,127.9 168.4,128.6 178.9,133.1 180.0,132.7 179.7,129.9 173.7,124.9Z" fill="url(#gp21m)"/>
<path d="M188.4,130.6 188.0,129.8 187.3,129.6 182.1,130.1 181.3,130.9 182.0,134.6 183.2,135.9 187.3,138.2 188.0,138.0 188.4,137.3Z" fill="url(#gp21m)"/>
<path d="M-3.4,64.9 -2.7,65.9 2.6,67.0 3.4,66.9 3.8,66.2 3.6,65.4 -2.2,59.2 -3.0,59.4 -3.4,60.0Z" fill="url(#gp21l)"/>
<path d="M17.6,80.2 18.5,79.8 21.7,74.0 21.6,73.2 20.3,71.5 15.6,69.5 5.9,67.3 4.1,68.1 3.9,77.8 4.3,78.6 5.2,79.0Z" fill="url(#gp21l)"/>
<path d="M19.6,80.2 19.6,81.0 20.2,81.6 26.4,83.8 27.1,83.7 27.6,83.1 26.4,76.4 23.6,74.8 22.5,75.1Z" fill="url(#gp21m)"/>
<path d="M29.2,76.9 28.4,77.1 28.0,77.9 29.4,85.0 34.4,88.8 39.9,89.6 40.7,89.4 42.0,80.6 41.8,79.8Z" fill="url(#gp21d)"/>
<path d="M44.6,80.1 43.7,80.1 43.2,80.8 42.2,89.5 42.5,90.3 44.4,91.5 55.0,91.9 55.8,91.6 56.8,89.3 56.7,88.6 51.1,82.7Z" fill="url(#gp21m)"/>
<path d="M58.9,89.4 57.9,89.9 57.1,92.6 61.5,97.6 70.4,97.9 71.2,97.5 71.4,95.5 67.3,90.5Z" fill="url(#gp21m)"/>
<path d="M72.5,97.9 72.7,98.7 76.3,102.5 88.1,104.7 88.7,104.6 92.6,101.9 93.0,101.2 92.7,100.3 88.8,96.7 73.5,96.1 72.8,96.6Z" fill="url(#gp21L)"/>
<path d="M101.1,112.0 101.8,111.1 101.6,107.5 94.6,102.7 93.6,102.7 90.2,105.1 90.3,106.2 96.3,112.7 97.0,112.8Z" fill="url(#gp21D)"/>
<path d="M111.8,116.4 112.7,115.8 112.9,114.2 109.1,107.3 108.3,107.0 103.3,107.9 103.1,111.3 103.3,112.0Z" fill="url(#gp21m)"/>
<path d="M115.1,115.0 114.1,115.6 114.4,116.8 124.4,121.5 130.7,120.7 131.4,120.1 130.9,118.0 130.3,117.4Z" fill="url(#gp21D)"/>
<path d="M139.1,123.6 138.1,124.1 138.1,125.1 142.5,131.3 143.8,131.4 144.3,130.7 144.8,125.3 143.9,124.6Z" fill="url(#gp21m)"/>
<path d="M154.1,128.2 146.6,126.2 146.0,126.9 145.5,131.8 151.5,135.3 159.8,132.9 160.0,132.2 159.7,131.5Z" fill="url(#gp21m)"/>
<path d="M162.8,131.7 162.3,132.4 162.5,133.2 168.9,139.0 179.5,136.6 180.2,135.9 179.7,134.7 167.6,129.5Z" fill="url(#gp21d)"/>
<path d="M183.1,137.2 182.3,137.1 170.5,139.9 170.0,140.4 169.9,141.2 170.5,142.5 174.6,145.4 188.0,145.2 188.4,144.5 188.2,140.4Z" fill="url(#gp21m)"/>
<path d="M2.6,69.0 1.8,68.1 -2.3,67.2 -3.2,67.6 -3.4,76.5 -3.0,77.4 1.7,78.0 2.6,77.5Z" fill="url(#gp21d)"/>
<path d="M8.6,83.5 15.0,85.4 17.5,83.0 17.7,82.2 16.9,81.3 8.1,80.5 7.5,80.9 7.3,81.7Z" fill="url(#gp21l)"/>
<path d="M27.9,94.4 28.8,94.1 32.5,90.3 32.6,89.0 28.3,85.7 20.0,82.9 19.1,83.0 16.6,85.7 16.7,86.8 22.3,93.1Z" fill="url(#gp21m)"/>
<path d="M43.6,92.5 41.2,91.0 38.3,90.8 45.8,97.2Z" fill="url(#gp21d)"/>
<path d="M56.2,93.5 55.4,93.1 46.6,92.8 45.9,93.1 45.7,93.9 48.2,98.7 51.8,100.6 58.2,101.1 60.0,99.0 60.2,98.1Z" fill="url(#gp21m)"/>
<path d="M62.1,98.9 61.4,99.2 60.1,100.9 60.3,102.2 69.7,109.3 73.4,108.7 75.1,103.3 71.7,99.4Z" fill="url(#gp21l)"/>
<path d="M92.1,117.5 93.3,117.2 95.2,114.2 95.3,113.5 88.5,106.1 77.2,103.9 76.2,104.2 74.8,108.4 75.1,109.4Z" fill="url(#gp21m)"/>
<path d="M109.4,122.8 110.2,122.6 110.5,122.0 110.5,117.4 102.5,113.0 96.8,114.1 94.2,118.1 94.3,118.9 96.4,121.2Z" fill="url(#gp21d)"/>
<path d="M114.8,125.3 120.8,126.7 123.0,123.4 123.1,122.5 122.6,122.0 112.6,117.6 111.9,118.5 111.8,123.0Z" fill="url(#gp21d)"/>
<path d="M132.8,121.8 124.9,122.8 122.3,127.0 122.3,127.9 124.1,129.8 139.0,133.3 139.8,133.2 141.0,132.3 141.0,131.2 134.9,122.8Z" fill="url(#gp21d)"/>
<path d="M151.0,136.8 150.5,136.2 144.4,132.9 142.4,132.9 140.3,134.7 140.3,136.8 140.7,137.5 150.1,142.3 150.8,142.1 152.1,140.8Z" fill="url(#gp21m)"/>
<path d="M161.5,134.0 152.6,136.6 152.4,137.3 153.3,140.3 153.8,140.8 165.0,144.0 168.2,142.8 168.8,142.3 168.1,140.0Z" fill="url(#gp21l)"/>
<path d="M169.9,143.5 166.1,145.0 166.1,145.3 172.1,145.4Z" fill="url(#gp21m)"/>
<path d="M6.9,84.9 7.1,83.6 4.5,80.1 3.4,79.4 -2.4,78.8 -3.3,79.3 -3.4,87.3 -2.9,88.1 0.5,89.2 2.1,89.0Z" fill="url(#gp21l)"/>
<path d="M15.2,87.0 8.6,85.1 5.0,88.2 4.8,89.0 5.4,89.8 19.0,94.1 19.9,94.0 20.3,93.3 20.2,92.6Z" fill="url(#gp21d)"/>
<path d="M43.2,98.9 44.0,98.2 43.8,97.2 35.8,90.4 34.1,90.3 30.1,94.6 30.4,95.7 36.1,99.8Z" fill="url(#gp21m)"/>
<path d="M43.9,107.7 49.7,108.5 50.5,108.2 50.8,107.5 50.9,102.2 50.6,101.5 47.0,99.6 38.9,100.9 38.6,101.5 38.8,102.2Z" fill="url(#gp21l)"/>
<path d="M58.8,113.7 67.0,113.7 67.7,113.2 68.7,110.3 58.6,102.4 52.7,102.0 52.1,102.8 52.0,109.1 54.9,112.0Z" fill="url(#gp21m)"/>
<path d="M68.8,113.5 69.0,114.6 73.6,118.7 79.3,121.5 88.2,118.9 88.9,118.2 88.4,117.0 73.9,110.1 70.3,110.7Z" fill="url(#gp21l)"/>
<path d="M93.1,119.3 92.1,118.9 82.2,122.0 81.7,122.5 81.6,123.3 85.7,127.0 94.5,124.3 95.2,123.6 95.2,122.0Z" fill="url(#gp21m)"/>
<path d="M113.6,127.0 113.3,125.9 110.7,124.2 97.4,122.6 96.4,123.3 96.6,124.6 102.3,130.1 109.7,133.5 110.8,133.0Z" fill="url(#gp21l)"/>
<path d="M123.0,130.8 120.8,128.1 115.3,126.9 114.7,127.4 112.1,133.5 112.9,134.2 122.8,135.1 123.6,134.1Z" fill="url(#gp21l)"/>
<path d="M125.1,135.2 136.3,143.9 137.0,144.1 137.6,143.7 139.1,137.7 139.0,135.2 138.6,134.5 125.5,131.4 124.6,132.3Z" fill="url(#gp21D)"/>
<path d="M138.8,144.2 139.0,145.0 139.7,145.4 147.4,145.4 148.2,145.1 149.0,143.7 148.4,142.8 140.8,139.0 139.9,139.7Z" fill="url(#gp21m)"/>
<path d="M164.5,145.4 153.1,141.9 150.9,143.6 149.6,145.3Z" fill="url(#gp21m)"/>
<path d="M4.5,90.8 3.4,91.1 3.3,92.2 10.4,100.6 16.0,102.0 16.9,101.6 18.6,96.2 18.3,95.2Z" fill="url(#gp21D)"/>
<path d="M26.4,105.7 27.3,105.7 33.4,101.0 33.8,99.9 28.4,95.7 21.8,94.5 20.1,95.7 18.4,102.1 18.9,102.6Z" fill="url(#gp21d)"/>
<path d="M36.4,101.4 35.7,101.1 35.0,101.3 28.7,106.1 28.5,107.4 30.5,109.4 41.9,111.6 43.0,109.2 43.0,108.4Z" fill="url(#gp21D)"/>
<path d="M44.4,109.2 43.5,112.0 52.9,111.8 51.0,109.9Z" fill="url(#gp21l)"/>
<path d="M69.8,125.5 70.7,124.9 72.4,119.9 72.1,119.0 67.5,115.0 60.2,115.3 59.9,116.3 62.0,124.6 63.9,125.5Z" fill="url(#gp21m)"/>
<path d="M83.4,130.4 84.5,129.7 84.7,128.4 84.4,127.7 79.1,122.7 74.5,120.5 73.4,120.8 71.9,125.2 72.2,126.2 77.7,129.6Z" fill="url(#gp21D)"/>
<path d="M85.6,130.2 86.3,131.3 95.3,133.6 100.0,131.2 100.4,130.3 100.1,129.6 96.0,125.7 95.3,125.4 86.3,128.2 85.9,128.7Z" fill="url(#gp21l)"/>
<path d="M102.5,131.6 101.7,131.6 97.8,133.8 97.4,134.4 97.6,135.2 103.9,140.2 109.9,139.3 110.2,138.6 109.9,135.0Z" fill="url(#gp21d)"/>
<path d="M124.6,136.7 112.1,135.4 111.4,136.2 111.4,139.4 118.3,145.4 133.2,145.4 133.9,145.1 134.2,144.4 133.9,143.7Z" fill="url(#gp21m)"/>
<path d="M7.8,101.8 8.6,101.3 8.6,100.2 0.4,90.6 -2.2,89.6 -3.1,89.9 -3.4,90.6 -3.2,101.7 -2.4,102.1Z" fill="url(#gp21l)"/>
<path d="M11.4,102.1 10.3,102.6 10.4,103.7 16.9,111.9 17.8,112.3 18.5,112.1 18.9,111.0 16.2,103.5Z" fill="url(#gp21D)"/>
<path d="M19.5,104.2 18.5,104.3 18.1,105.2 20.9,112.4 25.3,113.1 28.5,110.3 28.5,109.2 26.7,107.2Z" fill="url(#gp21l)"/>
<path d="M30.6,110.6 29.8,110.8 27.3,113.2 27.1,113.9 27.4,114.5 35.7,120.9 41.9,120.5 42.6,120.1 42.8,119.3 41.7,113.1Z" fill="url(#gp21D)"/>
<path d="M53.0,125.1 59.5,124.6 60.3,124.1 58.3,115.0 54.3,113.1 43.7,113.4 43.4,114.3 44.3,120.5Z" fill="url(#gp21m)"/>
<path d="M66.0,126.7 65.6,127.0 65.6,127.5 68.9,131.2 75.0,129.8 74.8,129.2 70.8,126.8Z" fill="url(#gp21l)"/>
<path d="M84.6,131.8 81.9,131.4 81.7,131.5 84.8,134.5Z" fill="url(#gp21l)"/>
<path d="M87.3,132.9 86.5,133.0 86.1,133.8 86.6,140.7 87.0,141.4 97.4,145.4 100.7,145.4 101.4,145.0 102.7,141.7 102.4,140.6 95.2,134.9Z" fill="url(#gp21d)"/>
<path d="M113.5,145.4 114.4,144.9 114.4,143.9 110.4,140.7 104.4,141.4 103.0,144.3 103.3,145.0 103.9,145.4Z" fill="url(#gp21m)"/>
<path d="M5.4,113.8 6.3,114.1 14.1,112.5 14.7,112.1 14.8,111.3 8.2,103.1 -3.0,103.5 -3.4,104.2 -3.2,106.4Z" fill="url(#gp21d)"/>
<path d="M8.3,114.9 7.5,115.5 7.7,116.5 13.7,121.2 18.4,119.1 18.9,118.5 18.6,114.3 17.9,113.5 16.5,113.3Z" fill="url(#gp21m)"/>
<path d="M21.0,113.7 20.2,113.9 19.8,114.6 20.5,119.0 31.5,126.0 33.5,125.7 34.7,122.4 34.4,121.5 25.4,114.5Z" fill="url(#gp21m)"/>
<path d="M43.7,121.7 36.3,122.2 34.9,125.7 34.9,126.4 41.5,131.0 46.9,132.9 53.8,132.1 54.1,131.2 52.6,126.3Z" fill="url(#gp21D)"/>
<path d="M64.8,136.6 66.4,136.7 67.0,136.3 68.0,132.2 63.3,126.6 61.1,125.6 54.5,126.6 54.3,127.5 55.8,132.3Z" fill="url(#gp21l)"/>
<path d="M80.6,143.2 81.3,143.2 84.9,141.6 85.4,140.6 84.9,136.4 79.8,131.3 77.4,130.8 69.3,132.6 68.3,136.3 68.6,137.2Z" fill="url(#gp21d)"/>
<path d="M81.9,144.3 82.3,145.4 93.5,145.3 86.2,142.4Z" fill="url(#gp21l)"/>
<path d="M3.5,115.7 4.2,115.0 3.9,114.1 -1.8,109.2 -3.1,109.3 -3.4,110.0 -3.4,116.7 -3.1,117.4 -2.2,117.7Z" fill="url(#gp21d)"/>
<path d="M-2.2,119.0 -2.8,119.6 -2.7,120.5 1.1,124.0 10.6,122.5 11.3,121.7 11.0,120.8 5.5,116.5Z" fill="url(#gp21m)"/>
<path d="M19.2,120.1 15.4,122.3 15.4,123.0 17.1,124.7 27.3,127.7 28.6,127.3 29.0,126.8 28.7,125.7 19.9,120.1Z" fill="url(#gp21m)"/>
<path d="M28.8,128.5 28.2,129.4 28.7,139.8 29.9,141.4 30.7,141.6 39.6,132.5 39.8,131.7 39.4,131.0 33.7,127.3 31.6,127.3Z" fill="url(#gp21m)"/>
<path d="M55.3,133.5 49.0,134.0 48.3,134.4 48.1,135.2 49.7,140.8 50.3,141.2 61.4,142.1 63.5,138.4 63.4,137.4Z" fill="url(#gp21d)"/>
<path d="M63.0,144.7 63.9,145.4 78.1,145.4 78.8,145.1 79.1,144.4 78.5,143.5 67.5,138.0 65.7,137.9 65.0,138.3 62.6,142.7Z" fill="url(#gp21d)"/>
<path d="M-3.2,121.7 -3.4,127.4 0.8,126.9 0.3,125.1Z" fill="url(#gp21m)"/>
<path d="M8.9,131.4 14.5,132.4 15.4,132.0 16.0,125.6 13.9,123.4 13.2,123.2 2.8,125.0 2.1,125.5 2.0,126.2 2.4,127.1Z" fill="url(#gp21m)"/>
<path d="M25.9,138.4 26.8,138.4 27.4,137.7 26.8,129.1 18.4,126.3 17.5,126.5 17.1,127.2 16.9,133.0Z" fill="url(#gp21m)"/>
<path d="M42.1,132.5 41.0,132.7 31.9,142.5 31.7,143.5 32.9,145.2 45.3,145.4 46.1,145.0 48.4,141.4 46.6,134.5 46.1,133.9Z" fill="url(#gp21m)"/>
<path d="M48.4,143.8 48.3,144.9 49.2,145.4 60.1,145.4 60.7,145.1 61.0,144.4 60.2,143.4 50.0,142.4 49.3,142.6Z" fill="url(#gp21D)"/>
<path d="M0.4,137.1 4.2,136.6 7.5,132.5 7.1,131.7 1.4,128.0 -2.7,128.6 -3.4,129.5 -3.3,134.6Z" fill="url(#gp21m)"/>
<path d="M6.1,136.3 5.9,137.1 6.2,137.7 16.7,145.4 29.6,145.4 30.6,144.7 30.1,143.4 27.7,140.8 15.8,133.9 9.3,132.8Z" fill="url(#gp21m)"/>
<path d="M-3.4,144.4 -3.1,145.1 -2.4,145.4 0.3,145.4 1.0,144.5 0.1,138.4 -2.2,136.9 -3.0,137.1 -3.4,137.7Z" fill="url(#gp21d)"/>
<path d="M4.7,138.1 2.2,138.2 1.5,138.9 2.6,145.2 11.6,145.4 12.3,145.0 12.6,144.3 12.2,143.7Z" fill="url(#gp21m)"/>
<path d="M15.0,95.5 Q31.3,96.7 45.2,105.5" stroke="#dedede" stroke-width="1.02" stroke-opacity="0.50" fill="none" stroke-linecap="round"/>
<path d="M100.2,74.8 Q116.3,81.3 133.2,85.3" stroke="#dedede" stroke-width="1.17" stroke-opacity="0.44" fill="none" stroke-linecap="round"/>
<path d="M7.4,74.2 Q28.4,77.9 48.8,83.9" stroke="#dedede" stroke-width="0.93" stroke-opacity="0.46" fill="none" stroke-linecap="round"/>
<path d="M2.7,114.6 Q18.9,126.0 35.8,136.5" stroke="#dedede" stroke-width="1.45" stroke-opacity="0.43" fill="none" stroke-linecap="round"/>
<path d="M66.1,16.6 Q85.6,25.6 106.0,32.2" stroke="#dedede" stroke-width="1.14" stroke-opacity="0.48" fill="none" stroke-linecap="round"/>
<path d="M103.4,80.9 Q118.7,83.6 131.5,92.3" stroke="#dedede" stroke-width="1.05" stroke-opacity="0.52" fill="none" stroke-linecap="round"/>
<path d="M33.0,34.6 Q42.5,37.2 49.6,44.0" stroke="#dedede" stroke-width="1.35" stroke-opacity="0.38" fill="none" stroke-linecap="round"/>
<path d="M37.2,122.2 Q54.8,131.2 74.0,136.4" stroke="#dedede" stroke-width="0.72" stroke-opacity="0.40" fill="none" stroke-linecap="round"/>
<path d="M148.6,38.0 Q169.8,42.7 188.8,53.3" stroke="#dedede" stroke-width="1.48" stroke-opacity="0.51" fill="none" stroke-linecap="round"/>
<path d="M98.4,-8.5 Q116.6,-0.6 134.1,8.8" stroke="#dedede" stroke-width="0.76" stroke-opacity="0.38" fill="none" stroke-linecap="round"/>
<path d="M7.1,54.7 Q14.7,58.3 21.6,63.1" stroke="#dedede" stroke-width="1.02" stroke-opacity="0.45" fill="none" stroke-linecap="round"/>
<path d="M78.8,70.5 Q97.4,76.1 116.1,81.5" stroke="#dedede" stroke-width="0.98" stroke-opacity="0.59" fill="none" stroke-linecap="round"/>
<path d="M117.1,14.3 Q131.3,22.1 144.1,32.0" stroke="#dedede" stroke-width="0.89" stroke-opacity="0.37" fill="none" stroke-linecap="round"/>
<path d="M24.1,33.6 Q44.9,41.7 66.2,48.5" stroke="#dedede" stroke-width="0.85" stroke-opacity="0.44" fill="none" stroke-linecap="round"/></svg>
<svg x="227" y="195" width="203" height="142" viewBox="0 0 203 142" overflow="hidden"><defs>
<radialGradient id="gp22D" cx="0.5" cy="0.5" r="0.62"><stop offset="0.15" stop-color="#0b0b0b"/><stop offset="0.8" stop-color="#3c3c3c"/><stop offset="1" stop-color="#3c3c3c"/></radialGradient>
<radialGradient id="gp22d" cx="0.5" cy="0.5" r="0.62"><stop offset="0.15" stop-color="#1d1d1d"/><stop offset="0.8" stop-color="#4a4a4a"/><stop offset="1" stop-color="#4a4a4a"/></radialGradient>
<radialGradient id="gp22m" cx="0.5" cy="0.5" r="0.62"><stop offset="0.15" stop-color="#323232"/><stop offset="0.8" stop-color="#5d5d5d"/><stop offset="1" stop-color="#5d5d5d"/></radialGradient>
<radialGradient id="gp22l" cx="0.5" cy="0.5" r="0.62"><stop offset="0.15" stop-color="#494949"/><stop offset="0.8" stop-color="#717171"/><stop offset="1" stop-color="#717171"/></radialGradient>
<radialGradient id="gp22L" cx="0.5" cy="0.5" r="0.62"><stop offset="0.15" stop-color="#5c5c5c"/><stop offset="0.8" stop-color="#818181"/><stop offset="1" stop-color="#818181"/></radialGradient>
</defs>
<rect width="203" height="142" fill="#9a9a9a"/>
<path d="M25.4,13.0 26.8,13.8 28.4,12.9 34.5,-0.9 34.5,-2.4 33.9,-3.1 32.9,-3.4 16.9,-3.2 16.0,-2.1 16.2,-0.7Z" fill="url(#gp22D)"/>
<path d="M29.8,12.7 29.7,13.7 30.1,14.6 36.0,18.9 47.3,19.0 48.7,18.3 49.6,15.6 44.4,-2.1 43.8,-3.0 42.8,-3.4 38.1,-3.4 36.8,-2.8Z" fill="url(#gp22D)"/>
<path d="M22.5,14.7 23.5,13.5 23.3,12.2 13.1,-3.0 12.0,-3.4 1.4,-3.4 0.1,-2.8 -0.3,-1.8 -0.2,-0.8 11.8,18.1 13.5,18.5Z" fill="url(#gp22d)"/>
<path d="M62.7,-1.1 62.5,-2.6 61.1,-3.4 47.6,-3.4 46.3,-2.7 45.9,-1.1 50.3,13.6 50.9,14.5 52.4,14.8 57.8,13.1 58.6,12.5Z" fill="url(#gp22l)"/>
<path d="M68.3,-2.2 67.5,-3.2 66.0,-3.4 64.8,-3.0 64.2,-2.1 60.2,12.0 60.7,13.4 62.9,14.7 72.1,13.3 73.3,12.1 73.3,10.9Z" fill="url(#gp22m)"/>
<path d="M75.9,12.8 79.4,13.2 80.1,12.5 86.9,-0.8 87.0,-2.1 85.9,-3.3 71.6,-3.4 70.1,-2.3 70.1,-1.0 75.0,12.0Z" fill="url(#gp22l)"/>
<path d="M81.9,11.8 81.9,13.5 83.3,14.4 92.8,14.4 94.2,13.6 94.4,12.0 90.7,1.2 90.0,0.3 88.7,-0.1 87.5,0.6Z" fill="url(#gp22D)"/>
<path d="M100.4,13.1 101.3,11.5 101.1,-2.4 99.7,-3.4 92.0,-3.2 91.2,-2.3 91.1,-1.2 95.9,12.7 97.3,13.6 99.3,13.6Z" fill="url(#gp22m)"/>
<path d="M-0.1,1.6 -1.0,0.9 -2.1,0.9 -3.0,1.4 -3.4,2.4 -3.4,28.0 -2.9,29.1 -1.8,29.6 -0.6,29.3 10.4,22.0 11.3,20.4 11.0,19.3Z" fill="url(#gp22l)"/>
<path d="M13.9,19.6 12.9,21.0 13.5,22.6 21.8,28.6 23.0,28.8 24.1,28.3 24.5,27.3 26.1,17.2 25.4,15.7 23.8,15.4Z" fill="url(#gp22l)"/>
<path d="M25.8,26.8 25.9,27.9 26.6,28.6 27.8,28.9 28.7,28.5 34.1,20.7 33.7,18.9 29.7,16.0 28.3,16.0 27.4,17.0Z" fill="url(#gp22d)"/>
<path d="M51.0,26.1 48.9,21.2 48.0,20.3 36.4,20.2 35.4,20.9 28.6,31.0 28.4,32.5 29.2,33.5 41.4,40.4 42.8,40.5 43.9,39.7 50.6,27.9Z" fill="url(#gp22l)"/>
<path d="M49.9,18.8 49.9,20.3 51.6,24.0 52.5,24.8 62.3,24.9 63.2,24.5 63.8,23.6 62.5,16.3 61.9,15.5 59.5,14.2 58.3,14.2 51.4,16.5 50.7,17.0Z" fill="url(#gp22D)"/>
<path d="M66.7,25.8 68.2,26.0 69.3,25.0 72.5,16.9 72.3,15.7 71.5,14.9 65.4,15.7 64.2,16.7 64.1,17.8 65.5,24.5Z" fill="url(#gp22d)"/>
<path d="M76.5,14.2 75.3,14.4 74.6,15.1 71.4,22.9 71.4,24.3 72.4,25.2 73.5,25.3 79.7,23.3 80.9,22.2 80.1,15.5 79.2,14.7Z" fill="url(#gp22m)"/>
<path d="M90.8,28.8 91.9,27.4 93.6,17.7 93.3,16.4 91.8,15.6 83.5,15.6 82.5,15.9 81.7,17.4 82.5,22.9 89.0,28.6Z" fill="url(#gp22D)"/>
<path d="M93.3,26.6 93.4,27.7 94.2,28.5 98.1,29.4 99.3,29.0 101.3,27.1 101.4,26.1 99.4,16.2 98.3,14.9 96.3,14.9 95.1,16.0Z" fill="url(#gp22l)"/>
<path d="M-2.0,31.7 -2.8,33.2 -2.0,34.7 12.6,42.7 21.0,39.1 24.4,32.9 23.7,31.4 12.6,23.4 11.6,23.1 10.5,23.4Z" fill="url(#gp22d)"/>
<path d="M54.8,35.6 52.3,31.3 51.3,31.0 50.3,31.2 49.7,31.9 44.2,41.7 44.2,42.9 45.4,44.8 47.1,45.5 48.4,45.0 54.7,37.1Z" fill="url(#gp22D)"/>
<path d="M54.2,26.1 52.8,26.7 52.5,28.2 56.3,35.8 57.3,36.2 64.6,37.2 66.0,36.6 68.0,33.5 68.0,28.9 67.5,27.8 64.5,26.1Z" fill="url(#gp22m)"/>
<path d="M57.2,37.4 55.7,37.9 49.4,46.1 49.8,47.6 53.7,51.9 54.6,52.4 55.8,52.2 65.0,47.0 65.9,45.8 65.4,39.9 64.9,38.9 64.0,38.4Z" fill="url(#gp22d)"/>
<path d="M70.4,27.6 69.6,28.2 69.2,29.1 69.2,32.5 69.9,33.8 82.3,39.9 83.5,39.9 85.2,38.8 88.3,31.2 88.4,30.2 87.8,29.2 82.3,24.5 80.9,24.2Z" fill="url(#gp22l)"/>
<path d="M70.2,35.3 69.2,35.1 68.3,35.5 66.5,38.6 67.3,45.9 68.0,46.7 70.3,47.6 79.1,42.6 79.9,41.1 79.0,39.7Z" fill="url(#gp22l)"/>
<path d="M92.8,29.6 90.7,30.1 89.8,30.8 86.9,37.9 87.0,39.1 87.7,39.9 94.1,44.1 95.0,44.2 98.2,43.4 99.2,42.6 101.4,38.7 98.9,31.6 97.7,30.5Z" fill="url(#gp22D)"/>
<path d="M10.4,54.1 11.5,53.6 12.0,52.5 12.0,45.0 11.6,43.8 -0.9,36.7 -1.9,36.6 -2.7,37.0 -3.4,38.4 -3.4,53.5 -3.0,54.7 -1.6,55.3Z" fill="url(#gp22D)"/>
<path d="M27.5,34.0 26.3,33.8 25.3,34.3 22.5,39.1 22.2,40.1 26.0,55.1 26.8,55.9 29.7,57.0 30.6,56.5 42.8,45.9 43.4,44.3 42.3,42.3Z" fill="url(#gp22l)"/>
<path d="M15.2,55.7 16.3,56.1 22.9,55.6 24.3,54.4 24.3,53.4 21.6,42.6 20.4,41.3 19.1,41.3 14.2,43.5 13.4,44.4 13.3,53.7 13.7,54.5Z" fill="url(#gp22m)"/>
<path d="M72.7,61.0 73.6,60.0 74.5,57.2 74.4,56.2 70.1,49.3 67.4,47.8 65.9,47.9 55.9,53.4 55.1,54.3 55.0,56.4 55.4,57.3 63.6,64.3 64.8,64.3Z" fill="url(#gp22D)"/>
<path d="M33.4,55.7 32.8,57.3 33.2,58.2 34.0,58.7 49.7,61.4 50.9,60.8 53.5,57.5 53.8,54.3 53.3,53.3 47.8,47.2 44.9,46.2 43.8,46.6Z" fill="url(#gp22D)"/>
<path d="M82.8,54.0 83.8,53.3 84.2,52.1 82.9,44.5 81.9,43.3 80.2,43.4 72.8,47.8 72.0,48.6 72.1,50.2 74.9,54.7 75.7,55.4 76.7,55.5Z" fill="url(#gp22l)"/>
<path d="M84.6,40.7 83.9,41.5 83.8,42.3 85.6,53.0 86.5,54.0 88.7,54.9 89.7,54.8 90.8,53.7 93.1,46.6 93.1,45.3 92.4,44.5 86.5,40.6 85.6,40.4Z" fill="url(#gp22m)"/>
<path d="M91.7,54.8 91.7,56.0 92.7,57.0 99.6,58.4 103.1,56.9 104.0,55.4 99.4,45.6 98.0,44.8 95.5,45.3 94.6,46.1Z" fill="url(#gp22d)"/>
<path d="M9.6,70.5 10.9,70.2 12.4,68.3 14.7,58.0 14.2,56.5 11.9,55.2 -1.8,56.5 -2.9,57.1 -3.4,58.3 -3.4,67.6 -2.9,68.7 -1.8,69.2Z" fill="url(#gp22m)"/>
<path d="M17.4,57.3 16.4,57.6 15.8,58.5 14.0,66.8 14.4,68.1 15.5,68.7 27.3,71.1 28.8,70.7 29.5,69.3 29.5,59.7 29.0,58.5 25.3,56.6Z" fill="url(#gp22D)"/>
<path d="M30.7,70.4 31.2,71.6 32.3,72.1 47.9,72.1 48.7,71.6 49.1,70.7 49.7,63.7 49.3,62.9 48.3,62.4 31.9,59.8 31.1,60.4 30.7,61.4Z" fill="url(#gp22d)"/>
<path d="M62.6,67.7 63.1,66.4 62.6,65.2 55.8,59.3 54.0,59.1 51.2,62.6 50.4,72.7 52.6,75.5 54.3,75.7Z" fill="url(#gp22m)"/>
<path d="M66.8,64.8 66.0,65.5 65.8,66.3 65.9,67.2 66.6,68.0 76.2,72.7 77.4,72.7 78.3,72.0 78.4,70.3 73.9,62.6 72.4,62.4Z" fill="url(#gp22l)"/>
<path d="M85.6,54.9 84.5,54.8 76.8,56.7 75.5,58.0 74.8,60.5 74.9,61.5 79.6,69.9 80.7,70.7 81.9,70.6 86.6,67.7 90.1,58.5 90.0,57.4 89.5,56.7Z" fill="url(#gp22d)"/>
<path d="M88.5,66.1 88.6,67.4 89.6,68.4 97.4,70.6 98.6,70.4 99.5,69.0 99.3,60.2 98.1,59.3 92.9,58.3 91.8,58.5 91.1,59.3Z" fill="url(#gp22m)"/>
<path d="M114.9,13.3 115.8,12.1 118.9,-1.2 118.6,-2.6 117.1,-3.4 104.3,-3.4 103.3,-3.1 102.5,-1.6 102.5,10.7 102.8,11.7 104.1,12.5 113.6,13.6Z" fill="url(#gp22m)"/>
<path d="M122.0,-3.4 120.9,-3.0 120.3,-2.2 117.1,12.0 117.3,13.4 120.4,15.8 134.1,17.6 135.3,17.3 136.1,16.3 136.1,15.3 128.4,-2.6 127.1,-3.4Z" fill="url(#gp22D)"/>
<path d="M132.1,-3.4 130.6,-2.6 130.5,-0.9 137.1,14.7 138.2,15.5 139.4,15.5 141.6,13.7 147.7,-0.9 147.8,-2.3 147.2,-3.0 146.3,-3.4Z" fill="url(#gp22l)"/>
<path d="M143.8,11.4 143.9,13.0 145.3,13.9 155.0,13.9 156.3,13.1 156.4,11.4 151.8,0.5 151.1,-0.3 149.8,-0.6 148.6,0.2Z" fill="url(#gp22d)"/>
<path d="M154.1,-3.4 152.6,-2.6 152.5,-0.9 158.8,13.8 160.5,15.2 161.9,15.3 162.9,14.3 169.3,-0.9 169.4,-2.3 168.8,-3.0 167.9,-3.4Z" fill="url(#gp22m)"/>
<path d="M163.9,15.0 164.1,16.7 164.7,17.3 165.7,17.5 177.4,14.3 178.4,13.6 178.7,12.4 177.2,-1.8 176.4,-3.1 172.7,-3.4 171.4,-2.6Z" fill="url(#gp22l)"/>
<path d="M190.0,-1.9 189.5,-2.9 188.2,-3.4 180.0,-3.4 179.1,-3.0 178.5,-2.3 180.0,13.5 180.5,14.4 182.0,15.6 183.2,15.7 190.7,13.5 191.8,12.5 191.9,11.5Z" fill="url(#gp22d)"/>
<path d="M193.3,12.3 194.0,13.5 196.0,14.6 204.8,13.7 206.0,13.0 206.4,11.9 206.4,-1.6 205.7,-3.0 204.6,-3.4 193.1,-3.4 191.7,-2.7 191.3,-1.3Z" fill="url(#gp22m)"/>
<path d="M113.0,16.8 112.7,15.3 111.6,14.6 102.4,13.6 101.1,14.1 100.5,15.6 102.8,25.8 104.2,26.5 109.3,25.8 110.3,25.4 110.8,24.5Z" fill="url(#gp22m)"/>
<path d="M117.4,15.1 115.9,14.7 114.6,15.7 111.9,25.6 112.3,26.7 116.1,30.5 117.3,31.0 118.6,30.5 119.1,29.2 119.1,17.3 118.8,16.4Z" fill="url(#gp22D)"/>
<path d="M120.3,29.6 120.7,30.6 121.6,31.3 125.3,31.6 126.3,31.3 135.8,21.8 136.3,20.7 136.0,19.7 134.7,18.9 122.4,17.3 121.2,17.6 120.4,18.9Z" fill="url(#gp22l)"/>
<path d="M138.5,17.6 137.8,18.8 138.1,21.3 145.4,30.7 146.6,31.4 152.2,30.7 162.0,20.9 162.5,19.8 161.7,17.6 157.8,15.1 142.4,15.1Z" fill="url(#gp22m)"/>
<path d="M165.4,18.9 164.3,19.7 164.2,21.2 167.7,27.2 168.5,27.9 178.1,29.9 179.0,29.5 182.4,26.3 181.6,17.4 181.2,16.6 179.6,15.3 178.4,15.2Z" fill="url(#gp22d)"/>
<path d="M191.0,27.7 192.3,27.5 193.0,26.6 194.8,16.7 194.3,15.2 192.6,14.3 184.1,16.7 183.2,17.4 182.9,18.2 183.7,24.8 184.1,25.8 184.9,26.3Z" fill="url(#gp22m)"/>
<path d="M194.3,26.5 194.6,27.8 195.9,28.6 204.8,28.6 205.9,28.1 206.4,26.8 206.4,16.7 205.9,15.4 204.4,14.9 197.3,15.7 196.4,16.2 195.9,17.1Z" fill="url(#gp22D)"/>
<path d="M114.1,37.5 116.3,33.0 115.9,32.0 111.4,27.5 110.4,27.0 102.7,27.9 100.6,29.5 100.1,30.4 100.1,31.5 102.3,37.3 103.5,38.2 113.2,38.2Z" fill="url(#gp22d)"/>
<path d="M128.2,31.2 127.7,32.3 128.0,33.5 135.1,41.8 136.3,42.4 137.3,42.2 142.0,39.4 144.7,32.7 144.4,31.4 138.5,23.8 137.2,23.1 135.9,23.5Z" fill="url(#gp22l)"/>
<path d="M161.9,39.0 163.4,38.0 166.9,28.7 166.7,27.8 164.1,23.5 162.8,22.7 161.4,23.3 154.4,30.3 153.9,31.4 154.3,32.7 160.1,38.5Z" fill="url(#gp22D)"/>
<path d="M169.4,42.7 178.3,38.1 178.6,37.0 178.0,32.4 177.4,31.4 169.4,29.4 167.9,29.9 164.6,38.2 164.6,39.1 165.1,40.0 168.2,42.4Z" fill="url(#gp22m)"/>
<path d="M184.3,27.5 182.9,27.7 179.3,31.1 179.8,37.6 180.4,38.6 186.0,43.3 187.5,43.7 190.7,41.9 191.4,41.1 192.8,30.5 192.4,29.7 191.6,29.1Z" fill="url(#gp22l)"/>
<path d="M195.8,29.8 194.6,30.2 194.0,31.2 192.9,39.9 193.3,41.1 194.3,41.7 204.2,43.9 205.6,43.6 206.4,42.1 206.4,31.6 206.1,30.6 204.8,29.8Z" fill="url(#gp22d)"/>
<path d="M115.0,38.4 114.8,39.6 116.6,49.7 117.3,50.7 119.6,52.1 120.8,52.3 132.8,49.6 133.9,48.7 135.0,44.6 134.8,43.4 125.8,33.0 120.1,32.4 118.3,33.0Z" fill="url(#gp22D)"/>
<path d="M149.6,46.1 150.7,46.6 151.9,46.3 158.1,41.0 158.7,39.9 158.2,38.3 152.6,32.8 151.5,32.2 147.0,32.6 146.2,33.0 143.6,39.0 144.0,40.5Z" fill="url(#gp22d)"/>
<path d="M114.2,50.9 115.0,50.3 115.3,49.1 113.8,41.0 113.2,39.9 112.1,39.5 103.6,39.5 102.2,40.0 100.3,43.1 100.1,44.2 104.9,53.9 106.7,54.3Z" fill="url(#gp22D)"/>
<path d="M150.0,49.2 149.4,47.6 143.3,41.5 142.1,41.1 136.5,44.2 135.1,49.5 137.2,53.0 146.0,55.6 149.0,53.9Z" fill="url(#gp22m)"/>
<path d="M170.1,56.7 171.2,56.1 171.6,54.8 168.5,44.5 163.4,40.3 160.4,40.6 151.3,48.7 150.5,53.1 150.8,54.3 157.9,58.8 158.9,58.9Z" fill="url(#gp22l)"/>
<path d="M172.4,53.2 173.1,54.2 174.3,54.5 183.9,52.7 184.6,51.7 186.0,46.2 185.8,44.8 180.2,39.9 179.2,39.5 178.2,39.7 170.8,43.5 170.2,44.3 170.0,45.3Z" fill="url(#gp22D)"/>
<path d="M192.8,42.6 191.5,42.8 187.9,45.0 187.3,45.9 185.7,52.8 186.0,53.6 188.2,56.4 189.5,56.9 204.6,56.9 205.9,56.4 206.4,55.1 206.4,46.9 205.9,45.8 205.0,45.3Z" fill="url(#gp22D)"/>
<path d="M106.7,55.6 105.7,56.7 105.8,58.1 114.0,68.3 115.6,68.5 120.7,66.1 121.5,65.5 121.7,64.1 119.6,54.2 118.8,53.1 116.6,51.7 115.6,51.7Z" fill="url(#gp22l)"/>
<path d="M122.4,53.1 121.4,53.8 121.0,54.9 123.1,64.7 124.2,65.7 126.9,66.5 127.9,66.4 128.8,65.7 135.3,54.4 135.4,52.8 134.4,51.2 133.2,50.8Z" fill="url(#gp22D)"/>
<path d="M144.5,67.9 145.4,67.3 145.7,66.4 145.5,57.3 144.6,56.5 138.2,54.6 136.7,54.8 129.7,66.6 129.8,68.4 130.9,69.4 135.9,71.1Z" fill="url(#gp22m)"/>
<path d="M151.7,71.2 153.2,71.5 154.4,70.6 157.1,60.6 156.3,59.2 150.4,55.6 149.4,55.4 147.5,56.4 146.9,57.4 146.9,66.9 147.5,68.0Z" fill="url(#gp22D)"/>
<path d="M155.2,72.3 155.4,73.7 156.5,74.5 168.0,76.1 169.4,75.7 172.9,71.5 173.3,70.5 170.8,58.8 169.2,58.1 158.9,60.4 158.3,61.3Z" fill="url(#gp22d)"/>
<path d="M173.5,55.8 172.5,56.5 172.1,57.8 174.6,69.7 176.0,70.4 184.8,70.4 186.0,70.0 186.6,68.8 187.6,58.2 187.3,57.3 185.3,54.7 183.7,54.0Z" fill="url(#gp22m)"/>
<path d="M189.2,72.5 190.4,73.1 204.4,74.3 205.8,73.9 206.4,72.5 206.4,59.9 206.0,58.8 204.6,58.1 190.5,58.1 189.3,58.5 188.7,59.7 187.7,70.2 188.0,71.1Z" fill="url(#gp22l)"/>
<path d="M101.7,59.0 101.0,59.7 100.8,60.6 100.8,70.5 101.2,71.7 102.8,72.3 111.3,71.4 112.2,71.0 112.9,69.9 112.6,68.6 104.9,59.0 103.5,58.3Z" fill="url(#gp22m)"/>
<path d="M10.6,73.1 10.0,72.1 9.0,71.7 -1.6,70.5 -2.9,71.0 -3.4,72.3 -3.4,84.8 -2.9,86.1 -1.2,86.6 11.7,82.0 12.2,80.5Z" fill="url(#gp22m)"/>
<path d="M29.1,74.7 28.9,73.3 27.9,72.5 14.2,69.7 12.7,70.0 11.6,71.6 13.7,81.5 14.3,82.2 17.1,83.7 27.0,80.6 27.6,79.7Z" fill="url(#gp22D)"/>
<path d="M39.0,93.9 40.2,94.6 41.6,94.1 53.0,81.0 52.7,77.7 49.3,73.6 32.1,73.4 31.2,73.6 30.5,74.3 28.8,80.1 28.9,81.1Z" fill="url(#gp22l)"/>
<path d="M54.7,77.2 54.2,78.5 54.7,80.9 60.7,86.3 61.7,86.7 74.9,84.1 77.9,81.6 78.5,80.6 78.5,76.1 78.0,75.0 64.6,68.4 63.2,68.8Z" fill="url(#gp22l)"/>
<path d="M79.9,74.6 79.7,80.1 80.0,81.1 88.2,86.9 89.4,87.2 96.6,85.9 97.9,85.0 100.1,74.2 99.9,73.2 99.2,72.4 87.2,69.1 81.1,72.6Z" fill="url(#gp22D)"/>
<path d="M16.9,93.4 17.6,95.0 26.8,102.1 27.8,102.5 29.0,102.1 36.8,96.0 37.5,94.7 37.1,93.5 28.5,82.6 27.2,82.0 18.2,85.0 17.7,86.1Z" fill="url(#gp22D)"/>
<path d="M-2.2,88.2 -3.0,88.8 -3.4,89.7 -3.4,97.7 -2.7,98.9 -1.4,99.3 15.1,94.2 15.8,93.2 16.5,85.7 15.7,84.4 12.8,83.1Z" fill="url(#gp22m)"/>
<path d="M43.7,93.6 43.3,95.1 44.2,96.4 51.0,97.5 59.9,90.9 60.4,89.9 60.4,87.9 55.1,83.0 53.5,82.7Z" fill="url(#gp22D)"/>
<path d="M64.4,103.4 64.7,101.7 61.5,94.0 60.7,93.1 58.9,93.2 53.5,97.4 53.3,98.4 53.7,99.5 61.1,104.9 62.8,104.9Z" fill="url(#gp22D)"/>
<path d="M63.1,87.8 61.8,88.7 61.6,91.0 65.9,101.1 67.4,101.8 73.4,100.7 74.3,100.2 74.9,98.9 74.9,87.6 74.5,86.4 72.9,85.8Z" fill="url(#gp22l)"/>
<path d="M76.1,99.4 76.8,100.9 80.4,102.4 84.9,99.9 85.5,99.0 87.6,89.3 87.6,88.5 87.0,87.6 79.7,82.7 78.3,83.0 76.6,84.5 76.1,85.4Z" fill="url(#gp22m)"/>
<path d="M90.2,88.2 89.3,88.7 88.8,89.4 86.9,98.2 87.0,99.4 88.0,100.3 96.8,103.6 98.4,103.4 99.2,102.3 102.0,91.3 101.8,90.0 97.9,87.0Z" fill="url(#gp22d)"/>
<path d="M-3.4,114.4 -3.1,115.4 -2.3,116.0 12.3,121.9 13.5,121.9 26.9,116.4 27.3,115.2 27.3,104.4 26.6,103.5 16.8,95.9 15.9,95.5 -2.1,100.8 -3.0,101.3 -3.4,102.3Z" fill="url(#gp22m)"/>
<path d="M28.5,115.3 29.3,116.8 31.0,117.0 40.2,111.2 41.9,97.6 41.0,96.1 39.7,95.8 38.8,96.1 28.9,103.9 28.5,104.9Z" fill="url(#gp22D)"/>
<path d="M54.9,118.8 56.0,119.0 56.8,118.7 61.1,114.4 61.7,107.8 61.4,106.8 50.9,99.0 45.0,97.8 43.8,98.0 42.9,99.4 41.8,110.1 41.9,111.1 42.7,111.8Z" fill="url(#gp22D)"/>
<path d="M74.3,119.5 75.5,119.6 80.0,117.8 81.1,116.7 80.0,104.1 79.1,103.2 75.2,101.6 66.3,103.3 63.0,106.9 62.7,113.9 63.6,114.7Z" fill="url(#gp22d)"/>
<path d="M82.4,116.3 83.2,117.6 84.9,118.1 96.7,114.2 97.4,113.4 99.4,107.9 98.9,106.0 98.1,105.3 86.4,101.0 85.3,101.1 82.2,103.0 81.3,104.5Z" fill="url(#gp22m)"/>
<path d="M41.9,112.8 40.1,112.8 32.6,117.5 31.8,118.4 32.0,119.8 36.8,128.6 38.4,129.1 53.3,126.1 54.2,125.6 55.3,121.6 54.8,120.2Z" fill="url(#gp22D)"/>
<path d="M28.6,117.9 27.1,117.8 14.7,122.8 13.8,123.6 13.6,143.6 13.8,144.4 14.5,145.2 31.6,145.4 32.6,145.1 33.2,144.4 36.0,130.1 30.1,118.9Z" fill="url(#gp22D)"/>
<path d="M10.6,145.4 11.8,144.9 12.4,143.8 12.2,123.7 11.2,122.8 -0.9,117.9 -2.3,117.9 -3.1,118.5 -3.4,119.5 -3.3,144.3 -2.7,145.0 -1.8,145.4Z" fill="url(#gp22m)"/>
<path d="M55.7,125.6 55.9,126.8 58.2,130.7 59.0,131.4 68.7,131.4 69.9,130.4 73.4,122.4 73.5,121.2 72.5,120.0 63.1,115.8 61.8,115.7 56.9,120.4Z" fill="url(#gp22m)"/>
<path d="M82.6,145.4 84.2,144.5 90.2,130.6 84.4,119.8 81.9,118.5 75.4,121.2 70.7,132.0 77.6,144.8 78.8,145.4Z" fill="url(#gp22D)"/>
<path d="M98.1,116.5 97.2,115.7 96.2,115.7 87.4,118.6 86.5,119.4 86.5,121.1 90.9,129.0 91.6,129.7 98.3,129.7 101.9,124.2 101.9,122.6Z" fill="url(#gp22d)"/>
<path d="M38.4,130.3 37.5,130.8 37.0,131.7 34.7,143.4 35.4,145.0 36.5,145.4 53.9,145.4 55.3,144.7 57.5,132.5 54.8,127.6 53.3,127.3Z" fill="url(#gp22l)"/>
<path d="M60.3,132.7 59.1,133.1 58.5,134.2 56.9,143.5 57.6,145.0 58.7,145.4 73.4,145.4 74.8,144.7 75.2,143.9 75.1,142.9 69.5,133.1 68.4,132.7Z" fill="url(#gp22D)"/>
<path d="M97.4,131.1 91.6,131.4 91.0,132.2 86.2,143.0 86.5,144.7 87.9,145.4 102.6,145.4 103.7,145.0 104.3,144.2 104.3,143.0 98.7,131.8Z" fill="url(#gp22m)"/>
<path d="M102.8,73.5 101.8,73.9 101.2,75.0 99.2,85.1 99.6,86.4 103.4,89.3 113.8,89.4 114.8,89.0 115.5,88.2 115.6,87.2 112.4,73.4 110.9,72.6Z" fill="url(#gp22m)"/>
<path d="M129.2,69.7 127.5,68.0 122.5,66.7 114.9,70.1 113.8,71.4 113.6,72.7 116.5,85.4 117.3,86.5 118.7,86.7 124.4,85.2 125.3,84.5 129.3,70.7Z" fill="url(#gp22d)"/>
<path d="M138.2,89.5 141.1,86.5 141.1,85.5 135.6,72.9 134.8,72.2 132.4,71.3 130.9,71.4 130.1,72.5 126.8,83.6 127.1,85.1 127.8,85.8 137.0,89.8Z" fill="url(#gp22m)"/>
<path d="M142.0,84.6 142.7,85.4 143.5,85.7 146.6,84.9 153.4,75.3 153.4,74.5 152.9,73.6 146.3,68.9 145.3,68.9 138.4,71.5 137.3,72.7 137.4,73.9Z" fill="url(#gp22D)"/>
<path d="M169.3,78.3 167.9,77.3 155.3,75.7 154.3,76.4 148.1,84.9 148.0,85.8 148.3,86.7 159.6,101.3 161.1,101.3 170.5,96.6 171.4,95.7 172.3,84.7Z" fill="url(#gp22l)"/>
<path d="M175.2,71.6 173.9,72.1 170.3,76.9 170.4,77.9 173.1,83.1 174.5,83.8 184.1,83.8 185.2,83.4 185.8,82.6 188.5,74.6 188.0,73.0 187.0,72.0 186.1,71.6Z" fill="url(#gp22D)"/>
<path d="M188.9,96.6 189.3,93.5 185.9,86.1 185.1,85.2 175.0,85.0 173.6,86.0 172.7,95.2 173.6,96.8 178.8,99.6 179.8,99.7 188.0,97.5Z" fill="url(#gp22m)"/>
<path d="M191.3,74.4 190.3,74.6 189.5,75.5 186.6,84.2 189.7,91.5 190.4,92.2 191.3,92.4 205.9,84.2 206.4,83.1 206.4,77.3 206.0,76.2 204.9,75.6Z" fill="url(#gp22D)"/>
<path d="M190.3,95.8 190.6,97.2 191.7,98.0 204.3,99.8 205.4,99.7 206.4,98.2 206.2,87.6 205.1,86.8 203.7,86.9 191.2,94.1Z" fill="url(#gp22m)"/>
<path d="M99.9,104.3 100.2,105.9 101.4,106.6 111.1,106.6 112.2,106.2 116.6,99.3 114.4,91.1 113.1,90.6 104.8,90.6 103.6,91.0 103.1,91.9Z" fill="url(#gp22m)"/>
<path d="M117.4,88.3 116.1,89.4 115.8,90.6 117.6,97.8 118.4,98.8 134.1,100.5 135.7,99.6 136.9,92.3 136.7,91.5 135.9,90.7 125.7,86.2Z" fill="url(#gp22m)"/>
<path d="M158.5,103.8 158.3,102.0 146.7,86.8 145.6,86.6 142.6,87.2 138.4,91.1 136.9,101.2 140.6,107.8 141.6,108.1 155.8,108.1 156.9,107.3Z" fill="url(#gp22D)"/>
<path d="M113.4,106.7 113.2,108.1 116.0,118.2 116.5,119.1 117.5,119.5 135.4,119.3 136.3,118.3 139.3,109.2 139.1,108.1 136.2,102.7 135.3,101.9 118.8,100.2 117.2,100.8Z" fill="url(#gp22D)"/>
<path d="M112.3,109.2 111.7,108.3 110.5,107.8 101.8,107.9 100.5,108.7 98.6,113.7 98.6,114.7 103.5,122.5 104.5,122.8 112.4,122.8 113.9,122.0 114.9,120.4 115.0,119.4Z" fill="url(#gp22m)"/>
<path d="M158.1,107.9 158.0,109.1 158.7,110.1 170.3,115.9 171.6,116.0 172.8,115.0 177.9,102.2 177.9,101.0 177.2,100.1 172.8,97.7 171.3,97.6 160.4,103.0Z" fill="url(#gp22D)"/>
<path d="M190.1,99.5 189.3,98.8 188.2,98.7 179.8,101.2 173.2,117.3 173.3,118.3 175.7,123.9 184.5,127.7 185.7,127.5 200.3,119.5 201.2,118.3 201.0,116.9Z" fill="url(#gp22l)"/>
<path d="M195.1,99.7 194.1,99.9 193.4,100.4 193.0,101.4 193.2,102.3 202.9,117.6 203.9,118.3 205.4,118.2 206.1,117.6 206.4,116.6 206.2,102.1 205.0,101.2Z" fill="url(#gp22m)"/>
<path d="M152.7,127.7 152.9,129.1 158.1,138.8 159.0,139.6 160.0,139.7 161.0,139.1 173.6,125.0 174.0,123.5 171.6,118.0 160.0,112.1 158.8,112.0 157.5,113.2Z" fill="url(#gp22D)"/>
<path d="M149.7,127.0 151.0,126.9 152.0,126.0 156.7,111.7 156.6,110.3 155.9,109.6 155.0,109.3 141.0,109.5 140.1,110.6 137.1,119.5 137.4,121.5 138.4,122.5Z" fill="url(#gp22m)"/>
<path d="M120.0,144.1 120.6,145.0 121.5,145.4 125.3,145.4 126.5,144.6 136.3,123.1 136.2,121.8 135.6,121.0 134.6,120.7 117.2,120.7 115.7,121.5 114.7,123.1 114.6,124.1Z" fill="url(#gp22m)"/>
<path d="M100.0,129.7 99.9,131.4 106.8,145.0 107.9,145.4 116.7,145.4 118.1,144.8 118.5,143.1 113.6,125.3 113.1,124.4 111.9,124.0 103.8,124.2 103.0,124.9Z" fill="url(#gp22m)"/>
<path d="M158.6,142.7 151.4,129.1 138.4,123.9 137.4,124.2 136.8,124.9 128.5,143.7 129.0,144.9 130.1,145.4 156.8,145.4 158.2,144.6Z" fill="url(#gp22d)"/>
<path d="M159.8,143.5 160.1,144.7 161.4,145.4 187.1,145.2 187.9,144.4 188.0,143.3 184.5,129.4 183.7,128.7 176.4,125.6 174.7,125.7 160.2,141.9Z" fill="url(#gp22d)"/>
<path d="M206.4,121.4 206.1,120.4 205.3,119.8 202.6,119.6 186.2,128.8 186.0,130.2 189.5,144.0 190.2,145.1 191.2,145.4 204.6,145.4 206.1,144.6 206.4,143.6Z" fill="url(#gp22l)"/>
</svg>
<svg x="440" y="195" width="203" height="142" viewBox="0 0 203 142" overflow="hidden"><defs>
<radialGradient id="gp23D" cx="0.5" cy="0.5" r="0.62"><stop offset="0.15" stop-color="#2d2d2d"/><stop offset="0.8" stop-color="#676767"/><stop offset="1" stop-color="#676767"/></radialGradient>
<radialGradient id="gp23d" cx="0.5" cy="0.5" r="0.62"><stop offset="0.15" stop-color="#424242"/><stop offset="0.8" stop-color="#787878"/><stop offset="1" stop-color="#787878"/></radialGradient>
<radialGradient id="gp23m" cx="0.5" cy="0.5" r="0.62"><stop offset="0.15" stop-color="#5c5c5c"/><stop offset="0.8" stop-color="#8f8f8f"/><stop offset="1" stop-color="#8f8f8f"/></radialGradient>
<radialGradient id="gp23l" cx="0.5" cy="0.5" r="0.62"><stop offset="0.15" stop-color="#767676"/><stop offset="0.8" stop-color="#a6a6a6"/><stop offset="1" stop-color="#a6a6a6"/></radialGradient>
<radialGradient id="gp23L" cx="0.5" cy="0.5" r="0.62"><stop offset="0.15" stop-color="#8c8c8c"/><stop offset="0.8" stop-color="#b9b9b9"/><stop offset="1" stop-color="#b9b9b9"/></radialGradient>
</defs>
<rect width="203" height="142" fill="#e2e2e2"/>
<path d="M-3.1,21.7 -2.7,23.1 -1.3,24.1 0.4,24.0 1.5,23.1 12.8,0.2 12.8,-1.4 11.8,-2.7 10.4,-3.1 -0.6,-3.1 -1.8,-2.9 -2.7,-2.0 -3.1,-0.6Z" fill="url(#gp23l)"/>
<path d="M6.1,24.3 9.2,24.2 22.1,17.8 23.2,16.5 23.4,15.5 23.1,14.3 17.3,3.8 16.0,2.7 14.3,2.7 13.0,3.7 4.4,21.0 4.3,22.5 5.0,23.7Z" fill="url(#gp23D)"/>
<path d="M19.6,-3.1 17.7,-2.2 17.1,-1.1 17.2,0.1 25.9,15.7 27.0,16.6 33.6,19.2 35.8,18.8 36.7,17.4 41.1,-0.0 41.1,-1.3 40.6,-2.2 39.9,-2.8 38.6,-3.1Z" fill="url(#gp23D)"/>
<path d="M45.5,-3.1 44.0,-2.6 43.1,-1.3 38.7,16.4 39.1,18.5 40.7,19.5 62.4,23.5 64.3,23.1 65.2,22.0 65.3,20.7 60.2,-2.1 58.3,-3.1Z" fill="url(#gp23m)"/>
<path d="M100.8,20.8 101.7,19.7 101.8,18.0 93.5,-2.4 91.8,-3.1 81.2,-3.1 79.7,-2.4 79.0,-1.2 74.5,18.5 74.5,19.7 75.1,20.7 76.1,21.4 90.8,26.6 92.3,26.2Z" fill="url(#gp23D)"/>
<path d="M71.4,21.2 72.5,19.7 77.0,-0.1 77.0,-1.3 76.2,-2.6 74.8,-3.1 64.2,-3.0 62.9,-2.0 62.5,-0.4 67.0,20.3 67.8,21.5 68.9,22.0 70.1,21.9Z" fill="url(#gp23L)"/>
<path d="M39.3,21.0 37.4,21.4 36.4,22.9 35.4,31.9 35.7,33.1 36.5,34.0 62.6,39.4 64.0,39.3 65.1,38.4 65.6,37.1 66.0,27.8 65.6,26.7 64.8,25.9Z" fill="url(#gp23L)"/>
<path d="M26.6,18.3 24.9,18.3 14.6,23.4 13.6,24.7 13.6,26.2 14.8,27.7 29.3,35.8 31.1,36.0 32.8,34.9 33.5,33.6 34.5,22.4 33.2,20.9Z" fill="url(#gp23m)"/>
<path d="M18.7,54.6 23.3,53.4 24.4,52.5 29.2,39.9 29.3,38.7 28.8,37.6 8.7,26.3 1.7,25.8 -2.2,26.9 -2.8,27.7 -3.1,28.9 -3.1,49.4 -2.6,51.0 -1.0,51.9Z" fill="url(#gp23m)"/>
<path d="M45.6,71.5 46.8,71.7 47.8,71.5 60.4,65.2 61.3,64.4 66.2,52.5 64.8,43.0 64.0,41.7 62.8,41.2 35.8,35.8 34.6,35.9 31.6,38.5 26.2,52.8 26.1,54.3 31.1,64.2Z" fill="url(#gp23m)"/>
<path d="M68.6,39.4 66.9,40.3 66.3,41.8 67.8,50.6 68.3,51.8 69.3,52.5 85.7,59.4 86.9,59.3 87.9,58.8 98.0,47.4 98.6,46.3 98.6,45.1 98.1,44.2 91.9,38.0 90.6,37.3Z" fill="url(#gp23m)"/>
<path d="M68.9,24.8 67.8,26.6 67.4,35.2 67.8,36.5 68.9,37.4 70.1,37.6 88.2,35.7 89.4,35.3 90.3,34.2 90.4,29.7 90.0,28.8 89.1,27.9 73.8,22.4 72.3,22.7Z" fill="url(#gp23l)"/>
<path d="M103.2,26.3 103.2,25.1 102.6,24.1 101.5,23.4 100.3,23.4 93.4,27.6 92.4,28.7 92.4,35.8 97.3,40.7 99.2,40.7 100.5,39.3Z" fill="url(#gp23l)"/>
<path d="M63.5,63.6 63.4,65.1 63.9,66.2 75.5,77.8 76.8,78.5 78.0,78.4 82.8,76.6 88.2,69.1 88.2,67.8 86.7,62.7 85.9,61.5 69.5,54.5 68.1,54.7 66.9,55.6Z" fill="url(#gp23D)"/>
<path d="M89.0,60.1 88.4,62.2 89.8,67.1 90.6,68.2 98.2,69.6 99.4,69.4 100.3,68.7 100.9,67.1 100.9,53.4 100.6,52.2 99.8,51.3 98.2,50.9 96.8,51.4Z" fill="url(#gp23d)"/>
<path d="M-3.1,66.8 -2.4,68.6 -0.9,69.3 13.7,69.1 15.1,67.5 17.5,58.8 17.3,57.3 16.6,56.4 15.4,55.9 -0.3,53.7 -1.8,53.9 -2.7,54.7 -3.1,55.9Z" fill="url(#gp23l)"/>
<path d="M16.7,68.2 16.7,69.7 17.3,70.7 20.9,73.4 22.6,73.6 24.0,72.8 28.5,66.0 28.9,64.9 28.8,63.7 25.4,56.8 24.5,55.8 22.6,55.5 20.9,56.0 20.0,56.9Z" fill="url(#gp23d)"/>
<path d="M113.5,0.7 113.9,-0.4 113.6,-1.8 112.8,-2.7 111.7,-3.1 98.7,-3.1 97.2,-2.4 96.5,-0.9 96.6,0.3 101.4,12.2 102.2,13.1 103.3,13.5 104.5,13.4 105.5,12.6Z" fill="url(#gp23d)"/>
<path d="M104.4,17.4 104.0,18.5 104.2,19.7 104.9,20.7 106.2,21.3 120.5,20.2 122.3,19.3 124.2,14.8 124.3,13.4 118.3,1.7 116.5,1.1 114.8,2.0Z" fill="url(#gp23l)"/>
<path d="M122.1,-3.1 120.9,-2.9 120.0,-2.1 119.7,0.0 125.1,10.9 125.8,11.8 127.9,12.2 137.2,9.8 138.4,8.9 140.5,-0.4 140.2,-1.8 139.4,-2.7 138.0,-3.1Z" fill="url(#gp23d)"/>
<path d="M157.0,-0.4 156.6,-2.0 155.0,-3.1 144.8,-3.1 143.4,-2.7 142.4,-1.1 140.4,8.5 140.8,10.1 149.6,16.4 151.1,16.6 154.5,15.4 155.6,13.8Z" fill="url(#gp23d)"/>
<path d="M168.5,-1.1 167.6,-2.6 166.0,-3.2 160.8,-3.1 159.5,-2.4 158.9,-1.4 157.3,14.4 158.2,15.9 162.1,17.9 164.3,17.7 170.0,13.4 170.8,12.3 170.9,10.9Z" fill="url(#gp23D)"/>
<path d="M188.0,-0.6 187.3,-2.4 185.8,-3.1 172.9,-3.1 171.3,-2.6 170.5,-1.6 170.4,-0.4 172.7,10.9 173.2,12.0 178.2,14.3 179.4,14.4 180.5,13.9 187.7,6.5Z" fill="url(#gp23L)"/>
<path d="M192.2,-3.1 190.6,-2.6 189.8,-1.1 189.7,5.2 190.1,6.5 202.2,16.7 203.6,17.2 205.0,16.7 205.9,15.8 206.2,14.7 206.2,-0.6 205.7,-2.0 203.9,-3.1Z" fill="url(#gp23L)"/>
<path d="M148.6,19.9 148.6,18.5 147.8,17.3 140.0,11.8 138.4,11.3 126.7,14.3 125.8,15.4 123.8,20.7 124.1,21.8 130.8,34.9 132.0,35.6 138.2,36.8 143.5,35.1 144.5,34.1Z" fill="url(#gp23m)"/>
<path d="M164.5,29.9 165.1,28.9 165.1,27.6 162.6,20.4 157.1,17.3 155.4,17.0 151.8,18.2 150.6,19.3 146.7,33.1 146.7,34.3 147.9,35.9 153.3,38.9 154.8,39.0 156.0,38.4Z" fill="url(#gp23L)"/>
<path d="M181.9,14.9 181.3,15.9 181.2,17.1 183.7,23.3 184.8,24.2 188.9,25.6 190.5,25.5 199.5,21.3 200.9,19.8 200.9,18.6 200.3,17.3 189.8,8.9 188.6,8.8 187.5,9.3Z" fill="url(#gp23d)"/>
<path d="M179.5,17.5 178.3,16.2 173.6,14.3 172.4,14.2 171.2,14.6 165.6,18.8 164.9,19.8 164.8,21.3 167.3,28.1 168.4,28.8 173.8,30.3 180.9,25.3 181.6,24.3 181.7,23.0Z" fill="url(#gp23l)"/>
<path d="M101.5,43.4 101.7,44.9 102.6,46.0 112.2,49.7 121.7,47.0 122.7,46.3 128.6,37.2 129.0,35.9 128.7,34.8 122.5,22.7 120.5,21.9 107.5,22.9 105.9,23.6 105.2,24.9Z" fill="url(#gp23d)"/>
<path d="M156.4,43.7 157.5,45.3 168.1,50.6 169.5,50.7 171.8,49.9 172.9,48.5 175.4,38.3 175.3,37.0 173.6,32.9 172.5,32.0 168.0,30.5 166.0,30.8 156.6,40.2 156.0,41.6Z" fill="url(#gp23D)"/>
<path d="M189.1,29.0 188.5,27.7 187.6,27.0 184.2,25.9 182.6,26.2 175.9,31.5 175.6,33.2 176.9,36.4 178.0,37.3 183.9,39.4 186.1,39.1 189.5,34.8Z" fill="url(#gp23m)"/>
<path d="M206.2,24.1 205.2,22.1 203.1,21.6 191.8,26.8 191.1,27.7 190.8,28.8 191.7,34.4 192.6,35.2 200.5,39.1 201.7,39.2 205.1,37.9 206.1,36.1Z" fill="url(#gp23m)"/>
<path d="M140.8,37.8 139.7,38.7 139.1,40.0 139.1,49.5 140.0,51.1 141.1,51.7 142.2,51.7 152.1,49.2 153.5,48.3 154.8,44.9 154.3,42.2 153.5,41.0 145.4,36.6 144.3,36.6Z" fill="url(#gp23l)"/>
<path d="M179.7,51.9 181.2,52.0 182.3,51.5 185.2,48.9 185.7,47.1 185.2,42.8 184.6,41.7 183.5,41.0 178.7,39.6 177.3,40.1 176.6,41.0 174.8,48.4 175.8,50.2Z" fill="url(#gp23D)"/>
<path d="M187.3,46.0 187.8,47.3 189.0,48.1 194.0,48.6 195.2,48.4 196.4,47.5 198.6,42.9 198.7,40.8 197.7,39.7 192.6,37.1 190.5,37.0 187.0,41.0Z" fill="url(#gp23l)"/>
<path d="M158.6,47.8 157.4,47.5 156.0,48.0 155.1,49.2 155.1,50.6 159.0,60.9 160.2,61.9 161.7,62.0 163.3,60.7 166.5,54.2 166.6,52.8 165.5,51.2Z" fill="url(#gp23D)"/>
<path d="M137.5,63.1 138.0,64.4 140.3,66.6 142.2,67.2 155.7,65.0 157.1,64.1 157.6,62.5 153.9,52.5 153.0,51.4 151.6,51.1 138.6,54.6 137.2,56.9Z" fill="url(#gp23d)"/>
<path d="M113.4,65.2 114.0,66.8 115.4,67.6 127.8,68.8 134.6,64.8 135.4,63.9 135.8,62.5 135.3,57.1 134.4,55.9 123.3,48.7 121.8,48.7 114.9,50.9 114.0,51.6 113.4,53.0Z" fill="url(#gp23d)"/>
<path d="M102.6,64.8 103.3,66.6 105.1,67.3 110.2,66.3 111.1,65.6 111.7,64.5 111.5,52.1 110.3,50.8 105.5,49.0 103.6,49.4 102.6,51.0Z" fill="url(#gp23m)"/>
<path d="M133.6,53.3 135.7,53.6 136.7,53.0 137.3,52.0 137.4,40.3 137.0,39.2 136.1,38.3 131.7,37.4 130.5,37.8 129.8,38.5 125.5,45.3 125.2,46.7 126.1,48.4Z" fill="url(#gp23l)"/>
<path d="M181.7,66.7 182.5,64.7 180.6,54.7 179.5,53.7 173.5,51.4 170.3,52.2 169.1,53.1 163.1,65.4 163.2,66.6 164.1,67.9 165.8,68.8 180.0,67.6Z" fill="url(#gp23m)"/>
<path d="M184.0,63.4 184.6,64.7 186.0,65.4 203.4,66.9 205.2,66.3 206.1,64.6 205.7,62.0 196.1,51.0 195.0,50.5 188.1,49.7 186.4,50.2 183.1,53.0 182.6,53.9 182.5,55.2Z" fill="url(#gp23d)"/>
<path d="M201.8,54.8 203.0,55.6 204.2,55.7 205.4,55.0 206.1,53.7 206.1,42.4 205.4,41.1 204.1,40.5 202.5,40.7 201.3,41.5 197.7,48.8 198.2,50.7Z" fill="url(#gp23l)"/>
<path d="M-3.1,94.5 -2.6,96.1 -1.1,96.9 11.4,98.1 13.1,97.6 23.2,90.2 24.1,89.1 24.2,87.8 21.8,76.5 15.6,71.5 14.5,71.1 -0.6,71.0 -2.0,71.4 -2.9,72.3 -3.1,73.5Z" fill="url(#gp23l)"/>
<path d="M45.2,75.4 45.1,73.7 43.9,72.5 32.4,66.8 31.2,66.7 30.1,67.1 23.9,76.2 26.2,88.1 27.9,89.2 39.1,90.8 40.7,90.4 41.8,88.9Z" fill="url(#gp23m)"/>
<path d="M43.5,89.4 43.6,91.0 44.6,92.1 56.2,96.5 69.5,94.2 70.5,93.6 71.2,92.6 74.9,81.5 74.9,80.0 74.3,79.0 62.8,67.5 61.7,67.0 60.5,67.0 48.4,73.0 47.5,73.8Z" fill="url(#gp23l)"/>
<path d="M73.2,95.4 80.5,103.0 81.6,103.1 91.9,100.6 92.9,99.3 94.1,92.9 93.5,91.0 84.0,79.8 82.5,79.0 78.2,80.1 76.9,81.0 72.7,93.6Z" fill="url(#gp23D)"/>
<path d="M99.1,72.9 98.4,71.8 97.3,71.3 90.4,70.4 89.0,71.3 85.0,76.8 85.0,78.0 85.6,79.1 93.7,88.5 94.9,89.3 97.0,88.9 101.7,84.7 102.3,83.7 102.2,82.2Z" fill="url(#gp23m)"/>
<path d="M-3.1,129.8 -2.9,131.0 -2.1,131.9 -0.9,132.3 0.3,132.1 17.5,123.4 18.7,122.3 18.8,120.4 12.4,101.4 11.2,99.9 -0.7,98.7 -2.1,99.1 -2.9,100.0 -3.1,101.2Z" fill="url(#gp23D)"/>
<path d="M41.3,94.8 40.6,93.3 39.4,92.5 25.9,90.7 24.8,91.2 14.5,98.8 14.0,99.9 14.1,101.1 20.9,121.4 21.9,122.7 26.3,125.0 27.7,125.2 41.4,120.1 42.5,119.3 43.0,117.6Z" fill="url(#gp23l)"/>
<path d="M44.7,117.0 45.0,118.1 45.9,118.9 47.9,119.2 54.7,114.5 55.5,112.9 55.5,99.8 55.2,98.6 53.9,97.5 45.8,94.6 44.0,95.2 43.2,97.0Z" fill="url(#gp23m)"/>
<path d="M57.2,111.6 57.6,113.0 59.0,114.0 71.8,116.5 73.2,116.4 74.5,115.1 78.6,105.7 78.6,104.1 72.0,96.6 70.9,96.0 69.7,95.9 58.8,97.9 57.7,98.9 57.2,100.0Z" fill="url(#gp23d)"/>
<path d="M95.4,128.3 96.5,127.8 97.1,126.7 102.3,110.9 102.0,109.0 94.0,103.0 93.0,102.5 81.3,105.0 80.3,106.2 75.3,117.6 75.2,118.7 75.8,121.0 85.4,130.4 86.9,130.5Z" fill="url(#gp23l)"/>
<path d="M72.8,122.3 73.3,121.2 73.3,120.0 71.8,118.3 57.1,115.4 55.7,115.9 49.6,120.2 48.9,120.9 48.5,122.1 48.8,123.4 55.6,136.9 56.5,137.8 57.7,138.1 59.6,137.2Z" fill="url(#gp23L)"/>
<path d="M29.0,142.8 29.7,144.4 31.2,145.1 53.6,145.2 55.5,144.2 56.1,142.3 55.9,141.2 46.4,122.5 45.5,121.6 44.0,121.2 29.7,126.3 28.5,127.2 28.1,128.8Z" fill="url(#gp23d)"/>
<path d="M27.2,142.7 26.1,127.3 25.2,126.4 21.4,124.4 19.8,124.3 -1.8,135.1 -2.7,135.9 -3.1,137.0 -2.9,143.8 -2.0,144.7 -0.6,145.2 24.7,145.2 25.9,144.9 26.8,144.1Z" fill="url(#gp23l)"/>
<path d="M58.6,141.0 58.0,142.1 58.0,143.3 58.8,144.6 59.9,145.1 81.0,145.0 82.0,144.4 82.6,143.3 84.1,132.1 76.5,124.2 75.2,123.7 74.1,123.8 73.1,124.5Z" fill="url(#gp23m)"/>
<path d="M87.6,132.0 86.4,132.8 85.8,134.1 84.5,142.5 84.7,143.7 85.4,144.6 87.0,145.2 100.8,145.2 102.7,144.2 103.2,142.9 103.3,135.1 102.3,133.1 97.9,130.1 96.8,129.8Z" fill="url(#gp23m)"/>
<path d="M102.8,69.6 101.3,70.5 100.8,72.3 104.0,82.1 105.8,83.3 109.7,83.7 111.0,83.3 114.6,78.1 113.5,69.2 112.4,68.2 111.3,67.9Z" fill="url(#gp23l)"/>
<path d="M123.0,79.0 124.7,78.7 125.8,77.4 126.4,72.9 126.0,71.5 124.2,70.4 118.3,69.7 116.9,70.1 115.8,72.0 116.6,77.2 118.0,78.2Z" fill="url(#gp23d)"/>
<path d="M140.0,69.9 139.7,68.6 139.2,67.8 137.6,66.5 136.2,66.1 135.1,66.5 128.9,70.3 128.3,71.6 127.2,79.6 127.5,80.8 128.5,82.2 129.8,82.8 131.2,82.6 138.8,77.2 139.4,75.9Z" fill="url(#gp23l)"/>
<path d="M143.7,68.7 142.5,69.2 141.7,70.5 141.3,77.0 149.2,86.5 150.1,87.0 151.4,87.1 160.6,85.5 161.8,84.8 163.7,80.8 163.8,71.0 163.4,69.7 161.1,66.9 159.1,66.2Z" fill="url(#gp23l)"/>
<path d="M167.7,70.4 166.4,71.0 165.5,72.4 165.5,78.7 166.1,80.2 167.4,80.9 176.3,82.2 177.6,82.1 178.5,81.5 181.3,77.0 180.8,71.4 180.1,70.2 178.3,69.5Z" fill="url(#gp23m)"/>
<path d="M182.8,74.4 183.5,75.9 185.1,76.6 204.1,76.5 205.2,76.0 206.0,74.8 206.1,70.6 205.4,69.3 204.1,68.6 184.3,67.1 183.0,67.8 182.3,69.1Z" fill="url(#gp23l)"/>
<path d="M126.3,82.2 124.9,81.1 116.5,79.8 115.3,80.6 113.5,83.0 113.1,85.1 118.8,91.9 119.8,92.5 121.1,92.5 127.1,88.4 127.9,87.4 128.1,85.2Z" fill="url(#gp23d)"/>
<path d="M131.4,84.7 130.3,86.6 131.2,88.6 142.2,94.7 143.4,94.8 144.7,94.1 147.8,89.2 147.5,87.1 141.5,80.2 140.3,79.4 138.4,79.7Z" fill="url(#gp23m)"/>
<path d="M147.3,100.9 148.4,101.6 158.8,104.2 160.9,103.6 165.3,98.8 165.8,97.5 165.6,96.3 162.1,88.3 161.2,87.6 160.0,87.4 151.2,88.9 150.1,89.4 145.1,97.0 145.4,98.9Z" fill="url(#gp23D)"/>
<path d="M177.4,93.5 178.0,92.5 178.2,91.4 177.7,85.8 176.7,84.3 166.6,82.6 165.5,82.8 164.5,83.5 163.5,85.6 163.5,86.8 167.2,95.7 167.9,96.7 169.1,97.2 172.6,97.3Z" fill="url(#gp23l)"/>
<path d="M179.4,83.5 180.2,92.0 181.0,93.0 196.7,100.8 198.1,100.9 204.6,99.5 205.6,98.7 206.1,97.4 206.0,79.8 205.2,78.8 203.9,78.3 183.1,78.5 182.2,79.2Z" fill="url(#gp23L)"/>
<path d="M105.1,85.0 103.4,85.5 96.3,91.9 94.5,100.2 95.4,101.8 103.6,107.9 106.1,108.4 116.9,102.1 117.5,101.1 118.8,95.4 118.2,93.9 111.2,85.9 110.1,85.4Z" fill="url(#gp23l)"/>
<path d="M133.6,111.5 135.5,111.8 137.0,110.8 143.2,100.0 143.4,98.3 142.2,96.8 130.2,90.0 128.3,89.8 120.9,95.1 119.4,100.5 119.4,101.7 120.5,103.2Z" fill="url(#gp23l)"/>
<path d="M176.4,96.5 175.6,98.3 176.1,99.9 185.3,108.0 186.5,108.2 187.6,107.8 192.4,104.4 193.1,103.4 193.1,101.7 192.2,100.5 180.6,94.7 178.7,94.7Z" fill="url(#gp23d)"/>
<path d="M159.3,117.7 159.6,119.3 160.7,120.3 172.9,125.0 174.6,125.0 183.5,117.8 184.9,111.7 184.9,110.5 184.1,109.3 173.1,99.6 172.0,99.2 168.0,99.0 166.7,99.7 161.2,105.9Z" fill="url(#gp23l)"/>
<path d="M202.1,130.5 203.2,130.9 204.7,130.7 205.6,130.0 206.1,128.7 206.1,103.8 205.4,102.2 203.9,101.5 197.3,102.9 187.5,110.0 186.8,111.2 185.7,116.6 185.8,117.6 186.5,118.6Z" fill="url(#gp23l)"/>
<path d="M127.1,133.7 128.7,133.8 130.2,132.6 136.3,118.5 136.4,116.6 134.8,114.3 119.3,104.4 117.1,104.2 109.1,109.0 108.1,110.4 108.2,111.6 112.2,126.6 113.6,128.0Z" fill="url(#gp23l)"/>
<path d="M157.5,122.8 157.3,121.1 156.1,120.0 145.0,117.4 139.7,118.0 138.4,118.7 130.9,135.5 132.4,143.2 133.0,144.3 134.9,145.2 151.3,145.2 152.9,144.6 153.8,143.1Z" fill="url(#gp23l)"/>
<path d="M107.4,115.5 106.8,114.4 105.6,113.7 104.1,113.8 103.0,114.7 98.9,126.8 98.9,128.1 99.6,129.1 103.6,131.7 105.5,131.3 109.5,128.7 110.4,127.3 110.3,126.1Z" fill="url(#gp23D)"/>
<path d="M155.7,142.2 156.2,144.2 157.9,145.1 173.4,145.2 175.0,144.6 175.8,143.5 175.9,142.3 173.9,128.5 173.3,127.2 172.3,126.6 162.0,122.6 160.8,122.6 159.7,123.2 158.9,124.6Z" fill="url(#gp23m)"/>
<path d="M177.7,143.0 178.5,144.5 180.0,145.1 204.1,145.1 205.4,144.4 206.1,143.1 206.1,136.3 205.2,134.9 186.1,120.5 184.1,120.0 176.5,125.9 175.6,127.2Z" fill="url(#gp23m)"/>
<path d="M105.0,142.7 105.5,144.2 107.2,145.1 128.0,145.2 129.8,144.4 130.5,142.6 129.3,137.3 128.3,136.1 112.1,129.5 110.8,129.9 105.2,133.9 105.0,135.1Z" fill="url(#gp23m)"/>
<path d="M146.0,113.5 146.3,115.1 147.5,116.2 155.1,118.0 156.5,117.8 157.8,116.1 159.0,108.4 158.8,106.9 157.2,105.5 150.3,103.8 148.7,104.1 147.6,105.6Z" fill="url(#gp23m)"/>
<path d="M137.4,113.5 137.3,114.7 138.0,115.9 138.7,116.4 143.1,115.8 143.9,115.3 146.3,103.0 145.7,101.8 144.8,101.6 144.0,102.1Z" fill="url(#gp23D)"/>
</svg>
<path d="M278.01,92.53 L280.62,85.09 L282.79,85.85 L281.70,77.20 L275.43,83.27 L277.60,84.03 L274.99,91.47Z" fill="#ff0000"/>
<path d="M316.59,154.98 L319.31,148.04 L321.36,148.84 L320.70,140.10 L314.28,146.07 L316.33,146.87 L313.61,153.82Z" fill="#ff0000"/>
<path d="M561.40,149.91 L561.46,163.11 L559.06,163.12 L563.10,171.80 L567.06,163.08 L564.66,163.09 L564.60,149.89Z" fill="#ff0000"/>
<path d="M390.80,262.89 L390.74,275.89 L388.24,275.88 L392.30,284.20 L396.44,275.92 L393.94,275.91 L394.00,262.91Z" fill="#ff0000"/>
<path d="M539.00,296.70 L539.00,310.50 L536.50,310.50 L540.50,319.10 L544.50,310.50 L542.00,310.50 L542.00,296.70Z" fill="#ff0000"/>
<rect x="199.2" y="180.3" width="12.3" height="3.1" fill="#f8c000"/>
<rect x="413.1" y="177.9" width="13.2" height="3.1" fill="#f8c000"/>
<rect x="626.6" y="178.9" width="13.0" height="3.1" fill="#f8c000"/>
<rect x="199.6" y="332.9" width="12.9" height="3.1" fill="#f8c000"/>
<rect x="412.9" y="330.2" width="13.1" height="2.9" fill="#f8c000"/>
<rect x="625.6" y="331.4" width="13.4" height="2.8" fill="#f8c000"/>
<text x="0.5" y="366" style="font-family:'Liberation Sans',sans-serif;font-size:17px;font-weight:bold" text-anchor="start" fill="#000">b</text>
<text x="175" y="375.7" style="font-family:'Liberation Sans',sans-serif;font-size:14.4px;font-weight:bold" text-anchor="middle" fill="#000">Distribution of Pore Size</text>
<line x1="63.5" y1="392.30000000000007" x2="63.5" y2="542.7" stroke="#000" stroke-width="2"/>
<line x1="62.5" y1="541.7" x2="287.62" y2="541.7" stroke="#000" stroke-width="2"/>
<line x1="56.5" y1="541.7" x2="63.5" y2="541.7" stroke="#000" stroke-width="2"/>
<text x="55.6" y="545.9000000000001" style="font-family:'Liberation Sans',sans-serif;font-size:11.8px;font-weight:bold" text-anchor="end" fill="#000">0</text>
<line x1="56.5" y1="512.0200000000001" x2="63.5" y2="512.0200000000001" stroke="#000" stroke-width="2"/>
<text x="55.6" y="516.2200000000001" style="font-family:'Liberation Sans',sans-serif;font-size:11.8px;font-weight:bold" text-anchor="end" fill="#000">10</text>
<line x1="56.5" y1="482.34000000000003" x2="63.5" y2="482.34000000000003" stroke="#000" stroke-width="2"/>
<text x="55.6" y="486.54" style="font-family:'Liberation Sans',sans-serif;font-size:11.8px;font-weight:bold" text-anchor="end" fill="#000">20</text>
<line x1="56.5" y1="452.6600000000001" x2="63.5" y2="452.6600000000001" stroke="#000" stroke-width="2"/>
<text x="55.6" y="456.86000000000007" style="font-family:'Liberation Sans',sans-serif;font-size:11.8px;font-weight:bold" text-anchor="end" fill="#000">30</text>
<line x1="56.5" y1="422.98" x2="63.5" y2="422.98" stroke="#000" stroke-width="2"/>
<text x="55.6" y="427.18" style="font-family:'Liberation Sans',sans-serif;font-size:11.8px;font-weight:bold" text-anchor="end" fill="#000">40</text>
<line x1="56.5" y1="393.30000000000007" x2="63.5" y2="393.30000000000007" stroke="#000" stroke-width="2"/>
<text x="55.6" y="397.50000000000006" style="font-family:'Liberation Sans',sans-serif;font-size:11.8px;font-weight:bold" text-anchor="end" fill="#000">50</text>
<line x1="63.5" y1="541.7" x2="63.5" y2="548.2" stroke="#000" stroke-width="2"/>
<text x="63.5" y="561.3" style="font-family:'Liberation Sans',sans-serif;font-size:11.8px;font-weight:bold" text-anchor="middle" fill="#000">0</text>
<line x1="119.28" y1="541.7" x2="119.28" y2="548.2" stroke="#000" stroke-width="2"/>
<text x="119.28" y="561.3" style="font-family:'Liberation Sans',sans-serif;font-size:11.8px;font-weight:bold" text-anchor="middle" fill="#000">200</text>
<line x1="175.06" y1="541.7" x2="175.06" y2="548.2" stroke="#000" stroke-width="2"/>
<text x="175.06" y="561.3" style="font-family:'Liberation Sans',sans-serif;font-size:11.8px;font-weight:bold" text-anchor="middle" fill="#000">400</text>
<line x1="230.83999999999997" y1="541.7" x2="230.83999999999997" y2="548.2" stroke="#000" stroke-width="2"/>
<text x="230.83999999999997" y="561.3" style="font-family:'Liberation Sans',sans-serif;font-size:11.8px;font-weight:bold" text-anchor="middle" fill="#000">600</text>
<line x1="286.62" y1="541.7" x2="286.62" y2="548.2" stroke="#000" stroke-width="2"/>
<text x="286.62" y="561.3" style="font-family:'Liberation Sans',sans-serif;font-size:11.8px;font-weight:bold" text-anchor="middle" fill="#000">800</text>
<text x="175" y="578.6" style="font-family:'Liberation Sans',sans-serif;font-size:12.55px;font-weight:bold" text-anchor="middle" fill="#000">Pore size (um)</text>
<text x="35.7" y="467.3" style="font-family:'Liberation Sans',sans-serif;font-size:12.7px;font-weight:bold" text-anchor="middle" fill="#000" transform="rotate(-90 35.7 467.3)">Frequency</text>
<polyline points="63.50,514.99 91.39,506.08 119.28,532.80 147.17,541.70" fill="none" stroke="#ff8000" stroke-width="2.3" stroke-linejoin="miter"/>
<polyline points="63.50,541.70 91.39,482.34 119.28,497.18 147.17,506.08 175.06,517.96 202.95,535.76 230.84,538.73" fill="none" stroke="#f01010" stroke-width="2.3" stroke-linejoin="miter"/>
<polyline points="63.50,532.80 91.39,461.56 119.28,470.47 147.17,512.02 175.06,538.73 202.95,538.73 230.84,541.70" fill="none" stroke="#a020f0" stroke-width="2.3" stroke-linejoin="miter"/>
<polyline points="63.50,523.89 91.39,464.53 119.28,473.44 147.17,512.02 175.06,529.83 202.95,541.70 230.84,541.70" fill="none" stroke="#1010c8" stroke-width="2.3" stroke-linejoin="miter"/>
<polyline points="63.50,535.76 91.39,443.76 119.28,512.02 147.17,532.80 175.06,541.70" fill="none" stroke="#000000" stroke-width="2.3" stroke-linejoin="miter"/>
<polyline points="63.50,538.73 91.39,393.30 119.28,535.76 147.17,541.70 175.06,541.70 202.95,541.70" fill="none" stroke="#20c020" stroke-width="2.3" stroke-linejoin="miter"/>
<line x1="268" y1="403.3" x2="284.3" y2="403.3" stroke="#1010c8" stroke-width="2.4"/>
<text x="292.5" y="407.90000000000003" style="font-family:'Liberation Sans',sans-serif;font-size:12.7px;font-weight:normal" text-anchor="start" fill="#000">6G 0.4gn</text>
<line x1="268" y1="423.40000000000003" x2="284.3" y2="423.40000000000003" stroke="#f01010" stroke-width="2.4"/>
<text x="292.5" y="428.00000000000006" style="font-family:'Liberation Sans',sans-serif;font-size:12.7px;font-weight:normal" text-anchor="start" fill="#000">6G 0.5gn</text>
<line x1="268" y1="443.5" x2="284.3" y2="443.5" stroke="#20c020" stroke-width="2.4"/>
<text x="292.5" y="448.1" style="font-family:'Liberation Sans',sans-serif;font-size:12.7px;font-weight:normal" text-anchor="start" fill="#000">8G 0.4gn</text>
<line x1="268" y1="463.6" x2="284.3" y2="463.6" stroke="#a020f0" stroke-width="2.4"/>
<text x="292.5" y="468.20000000000005" style="font-family:'Liberation Sans',sans-serif;font-size:12.7px;font-weight:normal" text-anchor="start" fill="#000">8G 0.5gn</text>
<line x1="268" y1="483.70000000000005" x2="284.3" y2="483.70000000000005" stroke="#ff8000" stroke-width="2.4"/>
<text x="292.5" y="488.30000000000007" style="font-family:'Liberation Sans',sans-serif;font-size:12.7px;font-weight:normal" text-anchor="start" fill="#000">8G</text>
<line x1="268" y1="503.8" x2="284.3" y2="503.8" stroke="#000000" stroke-width="2.4"/>
<text x="292.5" y="508.40000000000003" style="font-family:'Liberation Sans',sans-serif;font-size:12.7px;font-weight:normal" text-anchor="start" fill="#000">6G</text>
<text x="360.8" y="367.2" style="font-family:'Liberation Sans',sans-serif;font-size:17px;font-weight:bold" text-anchor="start" fill="#000">c</text>
<text x="472.5" y="366.7" style="font-family:'Liberation Sans',sans-serif;font-size:15.5px;font-weight:bold" text-anchor="middle" fill="#000">Porosity</text>
<line x1="418" y1="381.40999999999997" x2="418" y2="547" stroke="#000" stroke-width="2"/>
<line x1="411.3" y1="546" x2="527.5" y2="546" stroke="#000" stroke-width="2"/>
<line x1="411.3" y1="546.0" x2="418" y2="546.0" stroke="#000" stroke-width="2"/>
<text x="408.8" y="550.2" style="font-family:'Liberation Sans',sans-serif;font-size:11.8px;font-weight:bold" text-anchor="end" fill="#000">0</text>
<line x1="411.3" y1="522.63" x2="418" y2="522.63" stroke="#000" stroke-width="2"/>
<text x="408.8" y="526.83" style="font-family:'Liberation Sans',sans-serif;font-size:11.8px;font-weight:bold" text-anchor="end" fill="#000">10</text>
<line x1="411.3" y1="499.26" x2="418" y2="499.26" stroke="#000" stroke-width="2"/>
<text x="408.8" y="503.46" style="font-family:'Liberation Sans',sans-serif;font-size:11.8px;font-weight:bold" text-anchor="end" fill="#000">20</text>
<line x1="411.3" y1="475.89" x2="418" y2="475.89" stroke="#000" stroke-width="2"/>
<text x="408.8" y="480.09" style="font-family:'Liberation Sans',sans-serif;font-size:11.8px;font-weight:bold" text-anchor="end" fill="#000">30</text>
<line x1="411.3" y1="452.52" x2="418" y2="452.52" stroke="#000" stroke-width="2"/>
<text x="408.8" y="456.71999999999997" style="font-family:'Liberation Sans',sans-serif;font-size:11.8px;font-weight:bold" text-anchor="end" fill="#000">40</text>
<line x1="411.3" y1="429.15" x2="418" y2="429.15" stroke="#000" stroke-width="2"/>
<text x="408.8" y="433.34999999999997" style="font-family:'Liberation Sans',sans-serif;font-size:11.8px;font-weight:bold" text-anchor="end" fill="#000">50</text>
<line x1="411.3" y1="405.78" x2="418" y2="405.78" stroke="#000" stroke-width="2"/>
<text x="408.8" y="409.97999999999996" style="font-family:'Liberation Sans',sans-serif;font-size:11.8px;font-weight:bold" text-anchor="end" fill="#000">60</text>
<line x1="411.3" y1="382.40999999999997" x2="418" y2="382.40999999999997" stroke="#000" stroke-width="2"/>
<text x="408.8" y="386.60999999999996" style="font-family:'Liberation Sans',sans-serif;font-size:11.8px;font-weight:bold" text-anchor="end" fill="#000">70</text>
<rect x="426.3" y="432.01959999999997" width="11.6" height="113.98040000000003" fill="url(#pfine)" stroke="#000" stroke-width="2"/>
<line x1="432.1" y1="408.81809999999996" x2="432.1" y2="453.2211" stroke="#000" stroke-width="2"/>
<line x1="428.5" y1="408.81809999999996" x2="435.70000000000005" y2="408.81809999999996" stroke="#000" stroke-width="2"/>
<line x1="428.5" y1="453.2211" x2="435.70000000000005" y2="453.2211" stroke="#000" stroke-width="2"/>
<rect x="442.3" y="425.2423" width="11.6" height="120.7577" fill="url(#pcheck)" stroke="#000" stroke-width="2"/>
<line x1="448.1" y1="406.48109999999997" x2="448.1" y2="442.0035" stroke="#000" stroke-width="2"/>
<line x1="444.5" y1="406.48109999999997" x2="451.70000000000005" y2="406.48109999999997" stroke="#000" stroke-width="2"/>
<line x1="444.5" y1="442.0035" x2="451.70000000000005" y2="442.0035" stroke="#000" stroke-width="2"/>
<rect x="458.3" y="433.42179999999996" width="11.6" height="112.57820000000004" fill="url(#phs)" stroke="#000" stroke-width="2"/>
<line x1="464.1" y1="416.76390000000004" x2="464.1" y2="448.0797" stroke="#000" stroke-width="2"/>
<line x1="460.5" y1="416.76390000000004" x2="467.70000000000005" y2="416.76390000000004" stroke="#000" stroke-width="2"/>
<line x1="460.5" y1="448.0797" x2="467.70000000000005" y2="448.0797" stroke="#000" stroke-width="2"/>
<rect x="474.3" y="425.7097" width="11.6" height="120.2903" fill="url(#pdiag)" stroke="#000" stroke-width="2"/>
<line x1="480.1" y1="402.9756" x2="480.1" y2="446.4438" stroke="#000" stroke-width="2"/>
<line x1="476.5" y1="402.9756" x2="483.70000000000005" y2="402.9756" stroke="#000" stroke-width="2"/>
<line x1="476.5" y1="446.4438" x2="483.70000000000005" y2="446.4438" stroke="#000" stroke-width="2"/>
<rect x="490.3" y="425.476" width="11.6" height="120.524" fill="url(#pdots)" stroke="#000" stroke-width="2"/>
<line x1="496.1" y1="415.5954" x2="496.1" y2="433.35659999999996" stroke="#000" stroke-width="2"/>
<line x1="492.5" y1="415.5954" x2="499.70000000000005" y2="415.5954" stroke="#000" stroke-width="2"/>
<line x1="492.5" y1="433.35659999999996" x2="499.70000000000005" y2="433.35659999999996" stroke="#000" stroke-width="2"/>
<rect x="506.3" y="438.0958" width="11.6" height="107.9042" fill="url(#pdia)" stroke="#000" stroke-width="2"/>
<line x1="512.1" y1="417.2313" x2="512.1" y2="456.96029999999996" stroke="#000" stroke-width="2"/>
<line x1="508.5" y1="417.2313" x2="515.7" y2="417.2313" stroke="#000" stroke-width="2"/>
<line x1="508.5" y1="456.96029999999996" x2="515.7" y2="456.96029999999996" stroke="#000" stroke-width="2"/>
<text x="472.3" y="564.5" style="font-family:'Liberation Sans',sans-serif;font-size:13.4px;font-weight:bold" text-anchor="middle" fill="#000">Hydrogel groups</text>
<text x="387.8" y="464.4" style="font-family:'Liberation Sans',sans-serif;font-size:13.7px;font-weight:bold" text-anchor="middle" fill="#000" transform="rotate(-90 387.8 464.4)">Porosity (%)</text>
<rect x="545.5" y="391.2" width="15.5" height="6.4" fill="url(#pfine)" stroke="#000" stroke-width="2"/>
<text x="571.2" y="398.7" style="font-family:'Liberation Sans',sans-serif;font-size:14.0px;font-weight:normal" text-anchor="start" fill="#000">6G 0.4gn</text>
<rect x="545.5" y="413.2" width="15.5" height="6.4" fill="url(#pcheck)" stroke="#000" stroke-width="2"/>
<text x="571.2" y="420.7" style="font-family:'Liberation Sans',sans-serif;font-size:14.0px;font-weight:normal" text-anchor="start" fill="#000">6G 0.5gn</text>
<rect x="545.5" y="435.2" width="15.5" height="6.4" fill="url(#phs)" stroke="#000" stroke-width="2"/>
<text x="571.2" y="442.7" style="font-family:'Liberation Sans',sans-serif;font-size:14.0px;font-weight:normal" text-anchor="start" fill="#000">8G 0.4gn</text>
<rect x="545.5" y="457.2" width="15.5" height="6.4" fill="url(#pdiag)" stroke="#000" stroke-width="2"/>
<text x="571.2" y="464.7" style="font-family:'Liberation Sans',sans-serif;font-size:14.0px;font-weight:normal" text-anchor="start" fill="#000">8G 0.5gn</text>
<rect x="545.5" y="479.2" width="15.5" height="6.4" fill="url(#pdots)" stroke="#000" stroke-width="2"/>
<text x="571.2" y="486.7" style="font-family:'Liberation Sans',sans-serif;font-size:14.0px;font-weight:normal" text-anchor="start" fill="#000">6G</text>
<rect x="545.5" y="501.2" width="15.5" height="6.4" fill="url(#pdia)" stroke="#000" stroke-width="2"/>
<text x="571.2" y="508.7" style="font-family:'Liberation Sans',sans-serif;font-size:14.0px;font-weight:normal" text-anchor="start" fill="#000">8G</text>
<text x="0.5" y="617.9" style="font-family:'Liberation Sans',sans-serif;font-size:17px;font-weight:bold" text-anchor="start" fill="#000">d</text>
<text x="153.9" y="617.9" style="font-family:'Liberation Sans',sans-serif;font-size:14.9px;font-weight:bold" text-anchor="middle" fill="#000">WVTR</text>
<line x1="103.2" y1="637.4" x2="103.2" y2="790" stroke="#000" stroke-width="2"/>
<line x1="96.8" y1="789" x2="205.6" y2="789" stroke="#000" stroke-width="2"/>
<line x1="96.8" y1="789.0" x2="103.2" y2="789.0" stroke="#000" stroke-width="2"/>
<text x="96.0" y="793.2" style="font-family:'Liberation Sans',sans-serif;font-size:11.8px;font-weight:bold" text-anchor="end" fill="#000">0</text>
<line x1="96.8" y1="713.7" x2="103.2" y2="713.7" stroke="#000" stroke-width="2"/>
<text x="96.0" y="717.9000000000001" style="font-family:'Liberation Sans',sans-serif;font-size:11.8px;font-weight:bold" text-anchor="end" fill="#000">500</text>
<line x1="96.8" y1="638.4" x2="103.2" y2="638.4" stroke="#000" stroke-width="2"/>
<text x="96.0" y="642.6" style="font-family:'Liberation Sans',sans-serif;font-size:11.8px;font-weight:bold" text-anchor="end" fill="#000">1000</text>
<line x1="99.7" y1="773.94" x2="103.2" y2="773.94" stroke="#000" stroke-width="1.6"/>
<line x1="99.7" y1="758.88" x2="103.2" y2="758.88" stroke="#000" stroke-width="1.6"/>
<line x1="99.7" y1="743.8199999999999" x2="103.2" y2="743.8199999999999" stroke="#000" stroke-width="1.6"/>
<line x1="99.7" y1="728.76" x2="103.2" y2="728.76" stroke="#000" stroke-width="1.6"/>
<line x1="99.7" y1="698.64" x2="103.2" y2="698.64" stroke="#000" stroke-width="1.6"/>
<line x1="99.7" y1="683.58" x2="103.2" y2="683.58" stroke="#000" stroke-width="1.6"/>
<line x1="99.7" y1="668.52" x2="103.2" y2="668.52" stroke="#000" stroke-width="1.6"/>
<line x1="99.7" y1="653.46" x2="103.2" y2="653.46" stroke="#000" stroke-width="1.6"/>
<rect x="112.6" y="669.8965" width="13.4" height="119.10350000000005" fill="url(#pdots)" stroke="#000" stroke-width="2"/>
<line x1="119.3" y1="650.7492" x2="119.3" y2="686.69742" stroke="#000" stroke-width="2"/>
<line x1="115.2" y1="650.7492" x2="123.39999999999999" y2="650.7492" stroke="#000" stroke-width="2"/>
<line x1="115.2" y1="686.69742" x2="123.39999999999999" y2="686.69742" stroke="#000" stroke-width="2"/>
<rect x="130.04999999999998" y="680.99572" width="13.4" height="108.00428" fill="url(#pfine)" stroke="#000" stroke-width="2"/>
<line x1="136.74999999999997" y1="667.9176" x2="136.74999999999997" y2="690.7033799999999" stroke="#000" stroke-width="2"/>
<line x1="132.64999999999998" y1="667.9176" x2="140.84999999999997" y2="667.9176" stroke="#000" stroke-width="2"/>
<line x1="132.64999999999998" y1="690.7033799999999" x2="140.84999999999997" y2="690.7033799999999" stroke="#000" stroke-width="2"/>
<rect x="147.5" y="680.99572" width="13.4" height="108.00428" fill="url(#pcheck)" stroke="#000" stroke-width="2"/>
<line x1="154.2" y1="667.9176" x2="154.2" y2="690.8088" stroke="#000" stroke-width="2"/>
<line x1="150.1" y1="667.9176" x2="158.29999999999998" y2="667.9176" stroke="#000" stroke-width="2"/>
<line x1="150.1" y1="690.8088" x2="158.29999999999998" y2="690.8088" stroke="#000" stroke-width="2"/>
<rect x="164.95" y="681.4174" width="13.4" height="107.58259999999996" fill="url(#phs)" stroke="#000" stroke-width="2"/>
<line x1="171.64999999999998" y1="668.5953" x2="171.64999999999998" y2="691.4112" stroke="#000" stroke-width="2"/>
<line x1="167.54999999999998" y1="668.5953" x2="175.74999999999997" y2="668.5953" stroke="#000" stroke-width="2"/>
<line x1="167.54999999999998" y1="691.4112" x2="175.74999999999997" y2="691.4112" stroke="#000" stroke-width="2"/>
<rect x="182.39999999999998" y="674.7909999999999" width="13.4" height="114.20900000000006" fill="url(#pdiag)" stroke="#000" stroke-width="2"/>
<line x1="189.09999999999997" y1="652.5563999999999" x2="189.09999999999997" y2="694.2726" stroke="#000" stroke-width="2"/>
<line x1="184.99999999999997" y1="652.5563999999999" x2="193.19999999999996" y2="652.5563999999999" stroke="#000" stroke-width="2"/>
<line x1="184.99999999999997" y1="694.2726" x2="193.19999999999996" y2="694.2726" stroke="#000" stroke-width="2"/>
<text x="153.7" y="807.1" style="font-family:'Liberation Sans',sans-serif;font-size:12.6px;font-weight:bold" text-anchor="middle" fill="#000">Hydrogel groups</text>
<text x="65.4" y="711.1" style="font-family:'Liberation Sans',sans-serif;font-size:12.2px;font-weight:bold" text-anchor="middle" fill="#000" transform="rotate(-90 65.4 711.1)">WVTR (g/m2/day)</text>
<rect x="240.2" y="645.0" width="15.5" height="6.4" fill="url(#pdots)" stroke="#000" stroke-width="2"/>
<text x="264.3" y="652.5" style="font-family:'Liberation Sans',sans-serif;font-size:12.9px;font-weight:normal" text-anchor="start" fill="#000">6G 0.1gn</text>
<rect x="240.2" y="665.45" width="15.5" height="6.4" fill="url(#pfine)" stroke="#000" stroke-width="2"/>
<text x="264.3" y="672.95" style="font-family:'Liberation Sans',sans-serif;font-size:12.9px;font-weight:normal" text-anchor="start" fill="#000">6G 0.4gn</text>
<rect x="240.2" y="685.9" width="15.5" height="6.4" fill="url(#pcheck)" stroke="#000" stroke-width="2"/>
<text x="264.3" y="693.4" style="font-family:'Liberation Sans',sans-serif;font-size:12.9px;font-weight:normal" text-anchor="start" fill="#000">6G 0.5gn</text>
<rect x="240.2" y="706.35" width="15.5" height="6.4" fill="url(#phs)" stroke="#000" stroke-width="2"/>
<text x="264.3" y="713.85" style="font-family:'Liberation Sans',sans-serif;font-size:12.9px;font-weight:normal" text-anchor="start" fill="#000">8G 0.4gn</text>
<rect x="240.2" y="726.8" width="15.5" height="6.4" fill="url(#pdiag)" stroke="#000" stroke-width="2"/>
<text x="264.3" y="734.3" style="font-family:'Liberation Sans',sans-serif;font-size:12.9px;font-weight:normal" text-anchor="start" fill="#000">8G 0.5gn</text>
<text x="360.8" y="617.8" style="font-family:'Liberation Sans',sans-serif;font-size:17px;font-weight:bold" text-anchor="start" fill="#000">e</text>
<text x="478" y="620.6" style="font-family:'Liberation Sans',sans-serif;font-size:14.9px;font-weight:bold" text-anchor="middle" fill="#000">Contact angle</text>
<line x1="427" y1="639.3" x2="427" y2="792.3" stroke="#000" stroke-width="2"/>
<line x1="420.8" y1="791.3" x2="529.6" y2="791.3" stroke="#000" stroke-width="2"/>
<line x1="420.8" y1="791.3" x2="427" y2="791.3" stroke="#000" stroke-width="2"/>
<text x="418.5" y="795.5" style="font-family:'Liberation Sans',sans-serif;font-size:11.8px;font-weight:bold" text-anchor="end" fill="#000">0</text>
<line x1="420.8" y1="753.55" x2="427" y2="753.55" stroke="#000" stroke-width="2"/>
<text x="418.5" y="757.75" style="font-family:'Liberation Sans',sans-serif;font-size:11.8px;font-weight:bold" text-anchor="end" fill="#000">20</text>
<line x1="420.8" y1="715.8" x2="427" y2="715.8" stroke="#000" stroke-width="2"/>
<text x="418.5" y="720.0" style="font-family:'Liberation Sans',sans-serif;font-size:11.8px;font-weight:bold" text-anchor="end" fill="#000">40</text>
<line x1="420.8" y1="678.05" x2="427" y2="678.05" stroke="#000" stroke-width="2"/>
<text x="418.5" y="682.25" style="font-family:'Liberation Sans',sans-serif;font-size:11.8px;font-weight:bold" text-anchor="end" fill="#000">60</text>
<line x1="420.8" y1="640.3" x2="427" y2="640.3" stroke="#000" stroke-width="2"/>
<text x="418.5" y="644.5" style="font-family:'Liberation Sans',sans-serif;font-size:11.8px;font-weight:bold" text-anchor="end" fill="#000">80</text>
<rect x="436.6" y="669.2349999999999" width="13.3" height="122.06500000000005" fill="url(#pdots)" stroke="#000" stroke-width="2"/>
<line x1="443.25" y1="650.3037499999999" x2="443.25" y2="684.8449999999999" stroke="#000" stroke-width="2"/>
<line x1="439.15" y1="650.3037499999999" x2="447.35" y2="650.3037499999999" stroke="#000" stroke-width="2"/>
<line x1="439.15" y1="684.8449999999999" x2="447.35" y2="684.8449999999999" stroke="#000" stroke-width="2"/>
<rect x="454.03000000000003" y="679.23875" width="13.3" height="112.06124999999997" fill="url(#pfine)" stroke="#000" stroke-width="2"/>
<line x1="460.68" y1="663.13875" x2="460.68" y2="690.69625" stroke="#000" stroke-width="2"/>
<line x1="456.58" y1="663.13875" x2="464.78000000000003" y2="663.13875" stroke="#000" stroke-width="2"/>
<line x1="456.58" y1="690.69625" x2="464.78000000000003" y2="690.69625" stroke="#000" stroke-width="2"/>
<rect x="471.46000000000004" y="672.06625" width="13.3" height="119.23374999999999" fill="url(#pcheck)" stroke="#000" stroke-width="2"/>
<line x1="478.11" y1="658.7974999999999" x2="478.11" y2="681.8249999999999" stroke="#000" stroke-width="2"/>
<line x1="474.01" y1="658.7974999999999" x2="482.21000000000004" y2="658.7974999999999" stroke="#000" stroke-width="2"/>
<line x1="474.01" y1="681.8249999999999" x2="482.21000000000004" y2="681.8249999999999" stroke="#000" stroke-width="2"/>
<rect x="488.89000000000004" y="672.82125" width="13.3" height="118.47874999999999" fill="url(#phs)" stroke="#000" stroke-width="2"/>
<line x1="495.54" y1="663.7049999999999" x2="495.54" y2="678.805" stroke="#000" stroke-width="2"/>
<line x1="491.44" y1="663.7049999999999" x2="499.64000000000004" y2="663.7049999999999" stroke="#000" stroke-width="2"/>
<line x1="491.44" y1="678.805" x2="499.64000000000004" y2="678.805" stroke="#000" stroke-width="2"/>
<rect x="506.32000000000005" y="675.84125" width="13.3" height="115.45875000000001" fill="url(#pdiag)" stroke="#000" stroke-width="2"/>
<line x1="512.97" y1="664.64875" x2="512.97" y2="683.3349999999999" stroke="#000" stroke-width="2"/>
<line x1="508.87" y1="664.64875" x2="517.07" y2="664.64875" stroke="#000" stroke-width="2"/>
<line x1="508.87" y1="683.3349999999999" x2="517.07" y2="683.3349999999999" stroke="#000" stroke-width="2"/>
<text x="477.9" y="809.4" style="font-family:'Liberation Sans',sans-serif;font-size:12.6px;font-weight:bold" text-anchor="middle" fill="#000">Hydrogel groups</text>
<text x="399.2" y="715.7" style="font-family:'Liberation Sans',sans-serif;font-size:12.5px;font-weight:bold" text-anchor="middle" fill="#000" transform="rotate(-90 399.2 715.7)">Angle</text>
<rect x="548" y="647.5" width="15.5" height="6.4" fill="url(#pdots)" stroke="#000" stroke-width="2"/>
<text x="572.2" y="655.0" style="font-family:'Liberation Sans',sans-serif;font-size:12.95px;font-weight:normal" text-anchor="start" fill="#000">6G 0.1gn</text>
<rect x="548" y="668.05" width="15.5" height="6.4" fill="url(#pfine)" stroke="#000" stroke-width="2"/>
<text x="572.2" y="675.55" style="font-family:'Liberation Sans',sans-serif;font-size:12.95px;font-weight:normal" text-anchor="start" fill="#000">6G 0.4gn</text>
<rect x="548" y="688.6" width="15.5" height="6.4" fill="url(#pcheck)" stroke="#000" stroke-width="2"/>
<text x="572.2" y="696.1" style="font-family:'Liberation Sans',sans-serif;font-size:12.95px;font-weight:normal" text-anchor="start" fill="#000">6G 0.5gn</text>
<rect x="548" y="709.15" width="15.5" height="6.4" fill="url(#phs)" stroke="#000" stroke-width="2"/>
<text x="572.2" y="716.65" style="font-family:'Liberation Sans',sans-serif;font-size:12.95px;font-weight:normal" text-anchor="start" fill="#000">8G 0.4gn</text>
<rect x="548" y="729.7" width="15.5" height="6.4" fill="url(#pdiag)" stroke="#000" stroke-width="2"/>
<text x="572.2" y="737.2" style="font-family:'Liberation Sans',sans-serif;font-size:12.95px;font-weight:normal" text-anchor="start" fill="#000">8G 0.5gn</text>
</svg>
</body></html>
